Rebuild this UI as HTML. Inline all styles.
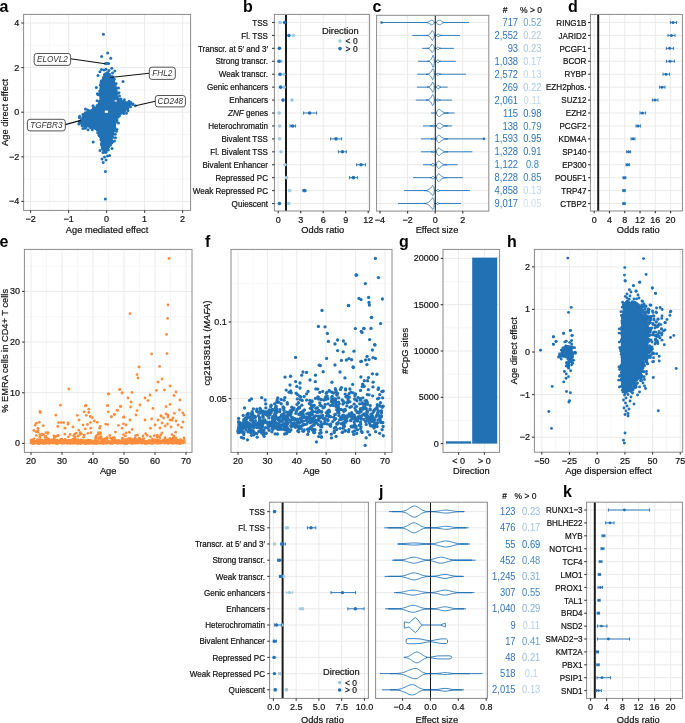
<!DOCTYPE html>
<html><head><meta charset="utf-8"><style>
html,body{margin:0;padding:0;background:#fff;width:685px;height:723px;overflow:hidden}
svg{display:block;will-change:transform}
text{font-family:"Liberation Sans", sans-serif}
</style></head><body>
<svg width="685" height="723" viewBox="0 0 685 723" font-family='"Liberation Sans", sans-serif'>
<rect width="685" height="723" fill="#fff"/>
<rect x="23.6" y="14.4" width="167" height="196" fill="#fff" stroke="none" stroke-width="1"/>
<line x1="49.6" y1="14.4" x2="49.6" y2="210.4" stroke="#f5f5f5" stroke-width="0.8"/>
<line x1="87.6" y1="14.4" x2="87.6" y2="210.4" stroke="#f5f5f5" stroke-width="0.8"/>
<line x1="125.6" y1="14.4" x2="125.6" y2="210.4" stroke="#f5f5f5" stroke-width="0.8"/>
<line x1="163.6" y1="14.4" x2="163.6" y2="210.4" stroke="#f5f5f5" stroke-width="0.8"/>
<line x1="23.6" y1="179.1" x2="190.6" y2="179.1" stroke="#f5f5f5" stroke-width="0.8"/>
<line x1="23.6" y1="134.5" x2="190.6" y2="134.5" stroke="#f5f5f5" stroke-width="0.8"/>
<line x1="23.6" y1="89.9" x2="190.6" y2="89.9" stroke="#f5f5f5" stroke-width="0.8"/>
<line x1="23.6" y1="45.3" x2="190.6" y2="45.3" stroke="#f5f5f5" stroke-width="0.8"/>
<line x1="30.6" y1="14.4" x2="30.6" y2="210.4" stroke="#ebebeb" stroke-width="1"/>
<line x1="68.6" y1="14.4" x2="68.6" y2="210.4" stroke="#ebebeb" stroke-width="1"/>
<line x1="106.6" y1="14.4" x2="106.6" y2="210.4" stroke="#ebebeb" stroke-width="1"/>
<line x1="144.6" y1="14.4" x2="144.6" y2="210.4" stroke="#ebebeb" stroke-width="1"/>
<line x1="182.6" y1="14.4" x2="182.6" y2="210.4" stroke="#ebebeb" stroke-width="1"/>
<line x1="23.6" y1="201.4" x2="190.6" y2="201.4" stroke="#ebebeb" stroke-width="1"/>
<line x1="23.6" y1="156.8" x2="190.6" y2="156.8" stroke="#ebebeb" stroke-width="1"/>
<line x1="23.6" y1="112.2" x2="190.6" y2="112.2" stroke="#ebebeb" stroke-width="1"/>
<line x1="23.6" y1="67.6" x2="190.6" y2="67.6" stroke="#ebebeb" stroke-width="1"/>
<line x1="23.6" y1="23" x2="190.6" y2="23" stroke="#ebebeb" stroke-width="1"/>
<path d="M106.5,71.5 L109.5,73 L112.5,76.5 L114.5,81 L116,86 L117,92 L118,96.5 L120.5,99.5 L125,101 L129,102 L131.5,103.3 L130,106 L128,109 L124.5,112 L121,115 L118.5,118.5 L116.5,123 L115.3,128 L114.3,133 L113.3,138 L111.8,143 L110,147.5 L107.8,151 L105.5,153 L103.5,152 L102,149 L100.8,144 L100,138 L99,133.5 L96.5,130 L90,127.6 L85,127 L81.5,125.5 L79.8,123 L80.2,119.5 L82.5,115.5 L86,112 L90.5,109.5 L95,107 L98.6,104 L99.4,99.5 L99.2,94 L99.5,88.5 L100.3,83.5 L101.8,78.5 L104,74Z" fill="#2171b5"/>
<g fill="#2171b5"><circle cx="107.53" cy="72.84" r="1.5"/><circle cx="107.52" cy="72.95" r="1.5"/><circle cx="109.43" cy="74.18" r="1.5"/><circle cx="110.65" cy="76.83" r="1.5"/><circle cx="112.44" cy="77.01" r="1.5"/><circle cx="112.64" cy="76.66" r="1.5"/><circle cx="113.23" cy="79.7" r="1.5"/><circle cx="114.2" cy="79.27" r="1.5"/><circle cx="113.68" cy="84.13" r="1.5"/><circle cx="116.09" cy="83.4" r="1.5"/><circle cx="113.67" cy="81.41" r="1.5"/><circle cx="114.98" cy="85.45" r="1.5"/><circle cx="115.97" cy="89.09" r="1.5"/><circle cx="116.37" cy="87.65" r="1.5"/><circle cx="116.39" cy="91.12" r="1.5"/><circle cx="116.01" cy="93.3" r="1.5"/><circle cx="118.97" cy="92.65" r="1.5"/><circle cx="117.21" cy="93.84" r="1.5"/><circle cx="120.25" cy="99.5" r="1.5"/><circle cx="120.99" cy="98.88" r="1.5"/><circle cx="119.58" cy="99.81" r="1.5"/><circle cx="121.76" cy="101.67" r="1.5"/><circle cx="123.6" cy="101.89" r="1.5"/><circle cx="124.32" cy="99.72" r="1.5"/><circle cx="128.77" cy="102.31" r="1.5"/><circle cx="129.06" cy="101.15" r="1.5"/><circle cx="125" cy="102.74" r="1.5"/><circle cx="129.1" cy="102.89" r="1.5"/><circle cx="130.86" cy="103.62" r="1.5"/><circle cx="132.58" cy="104.57" r="1.5"/><circle cx="128.93" cy="105.79" r="1.5"/><circle cx="130.5" cy="106.84" r="1.5"/><circle cx="127.83" cy="108.76" r="1.5"/><circle cx="123.99" cy="110.59" r="1.5"/><circle cx="124.63" cy="111.12" r="1.5"/><circle cx="126.43" cy="113.22" r="1.5"/><circle cx="122.9" cy="111.65" r="1.5"/><circle cx="122.54" cy="112.05" r="1.5"/><circle cx="123.71" cy="113.41" r="1.5"/><circle cx="118.45" cy="116.26" r="1.5"/><circle cx="119.31" cy="115.76" r="1.5"/><circle cx="116.89" cy="120.39" r="1.5"/><circle cx="116.76" cy="118.71" r="1.5"/><circle cx="115.65" cy="121.64" r="1.5"/><circle cx="118.45" cy="122.88" r="1.5"/><circle cx="113.98" cy="127.37" r="1.5"/><circle cx="114.81" cy="127.26" r="1.5"/><circle cx="114.7" cy="123.12" r="1.5"/><circle cx="114.61" cy="129.1" r="1.5"/><circle cx="116.91" cy="129.56" r="1.5"/><circle cx="113.49" cy="130.74" r="1.5"/><circle cx="116.37" cy="131.32" r="1.5"/><circle cx="113.89" cy="128.08" r="1.5"/><circle cx="112.83" cy="137.14" r="1.5"/><circle cx="115.46" cy="137.66" r="1.5"/><circle cx="112.36" cy="133.67" r="1.5"/><circle cx="115.27" cy="134.26" r="1.5"/><circle cx="112.8" cy="133.01" r="1.5"/><circle cx="110.96" cy="140.42" r="1.5"/><circle cx="112.02" cy="142.47" r="1.5"/><circle cx="111.6" cy="141.26" r="1.5"/><circle cx="112.71" cy="141.59" r="1.5"/><circle cx="111.7" cy="143.05" r="1.5"/><circle cx="108.43" cy="146.68" r="1.5"/><circle cx="110.55" cy="145.02" r="1.5"/><circle cx="106.4" cy="150.12" r="1.5"/><circle cx="108.3" cy="150.03" r="1.5"/><circle cx="105.99" cy="152.19" r="1.5"/><circle cx="105.02" cy="152.2" r="1.5"/><circle cx="103.09" cy="148.94" r="1.5"/><circle cx="102.84" cy="149.09" r="1.5"/><circle cx="102.21" cy="146.93" r="1.5"/><circle cx="102.47" cy="148.46" r="1.5"/><circle cx="101.35" cy="144.5" r="1.5"/><circle cx="100.9" cy="139.5" r="1.5"/><circle cx="101.76" cy="138.75" r="1.5"/><circle cx="101.43" cy="143.73" r="1.5"/><circle cx="100.23" cy="136.86" r="1.5"/><circle cx="99.44" cy="135.22" r="1.5"/><circle cx="98.98" cy="135.33" r="1.5"/><circle cx="98.66" cy="132.15" r="1.5"/><circle cx="97.67" cy="132.86" r="1.5"/><circle cx="97.18" cy="130.01" r="1.5"/><circle cx="91.11" cy="126.75" r="1.5"/><circle cx="95.55" cy="128.6" r="1.5"/><circle cx="90.6" cy="127.69" r="1.5"/><circle cx="93.12" cy="127.48" r="1.5"/><circle cx="92.26" cy="129.81" r="1.5"/><circle cx="85.84" cy="126.91" r="1.5"/><circle cx="85.4" cy="125.76" r="1.5"/><circle cx="85.11" cy="128.23" r="1.5"/><circle cx="88.79" cy="126.05" r="1.5"/><circle cx="83.15" cy="125.27" r="1.5"/><circle cx="82.04" cy="125.8" r="1.5"/><circle cx="82.81" cy="124.33" r="1.5"/><circle cx="80.27" cy="122.91" r="1.5"/><circle cx="80.22" cy="121.95" r="1.5"/><circle cx="79.28" cy="121.85" r="1.5"/><circle cx="82.77" cy="118.55" r="1.5"/><circle cx="82.07" cy="119.31" r="1.5"/><circle cx="79.42" cy="117.79" r="1.5"/><circle cx="84.49" cy="114.36" r="1.5"/><circle cx="85.31" cy="112.66" r="1.5"/><circle cx="83.83" cy="115.44" r="1.5"/><circle cx="82.9" cy="114.51" r="1.5"/><circle cx="88.34" cy="111.21" r="1.5"/><circle cx="87.69" cy="110.04" r="1.5"/><circle cx="87.79" cy="111.55" r="1.5"/><circle cx="88.94" cy="110.78" r="1.5"/><circle cx="94.1" cy="107.59" r="1.5"/><circle cx="93.05" cy="105.7" r="1.5"/><circle cx="94.5" cy="109.05" r="1.5"/><circle cx="93.35" cy="108" r="1.5"/><circle cx="97.13" cy="105.39" r="1.5"/><circle cx="98.99" cy="104.87" r="1.5"/><circle cx="99.19" cy="103.15" r="1.5"/><circle cx="99.54" cy="101.19" r="1.5"/><circle cx="97.12" cy="100.76" r="1.5"/><circle cx="99.15" cy="94.11" r="1.5"/><circle cx="100.43" cy="95.11" r="1.5"/><circle cx="100.37" cy="94.75" r="1.5"/><circle cx="98.04" cy="94.84" r="1.5"/><circle cx="99.7" cy="90.99" r="1.5"/><circle cx="99.47" cy="93.86" r="1.5"/><circle cx="97.37" cy="93.74" r="1.5"/><circle cx="100.41" cy="93.11" r="1.5"/><circle cx="101.11" cy="88.04" r="1.5"/><circle cx="100.28" cy="84.91" r="1.5"/><circle cx="101.11" cy="83.91" r="1.5"/><circle cx="101.75" cy="83.47" r="1.5"/><circle cx="101.13" cy="82.17" r="1.5"/><circle cx="101.27" cy="80.94" r="1.5"/><circle cx="103.45" cy="77.57" r="1.5"/><circle cx="105.04" cy="75.06" r="1.5"/><circle cx="104.65" cy="74.5" r="1.5"/><circle cx="105.06" cy="74.05" r="1.5"/><circle cx="106.75" cy="73.72" r="1.5"/><circle cx="103.4" cy="34.2" r="1.5"/><circle cx="101.6" cy="56.6" r="1.5"/><circle cx="107.7" cy="53.1" r="1.5"/><circle cx="110.7" cy="58.2" r="1.5"/><circle cx="105.5" cy="63.4" r="1.5"/><circle cx="107.2" cy="63.6" r="1.5"/><circle cx="108.6" cy="63.4" r="1.5"/><circle cx="99.9" cy="71.8" r="1.5"/><circle cx="106" cy="69.2" r="1.5"/><circle cx="111.8" cy="68.3" r="1.5"/><circle cx="114.8" cy="71" r="1.5"/><circle cx="96.4" cy="87.6" r="1.5"/><circle cx="85.5" cy="109.1" r="1.5"/><circle cx="79.7" cy="116.2" r="1.5"/><circle cx="123" cy="81.4" r="1.5"/><circle cx="130.8" cy="102.5" r="1.5"/><circle cx="135.3" cy="105.7" r="1.5"/><circle cx="127.9" cy="110.8" r="1.5"/><circle cx="93.2" cy="142" r="1.5"/><circle cx="105.4" cy="171.6" r="1.5"/><circle cx="105.4" cy="199" r="1.5"/><circle cx="103" cy="152.4" r="1.5"/><circle cx="109.6" cy="155.6" r="1.5"/><circle cx="102" cy="159" r="1.5"/><circle cx="103.2" cy="162.6" r="1.5"/><circle cx="106" cy="160" r="1.5"/><circle cx="104.5" cy="157" r="1.5"/><circle cx="107.5" cy="156" r="1.5"/><circle cx="101.5" cy="69.5" r="1.5"/><circle cx="104" cy="70" r="1.5"/><circle cx="109" cy="70.5" r="1.5"/><circle cx="112.5" cy="73" r="1.5"/><circle cx="98" cy="75.5" r="1.5"/><circle cx="118.5" cy="88" r="1.5"/><circle cx="119.5" cy="96" r="1.5"/><circle cx="133" cy="104" r="1.5"/><circle cx="81" cy="121" r="1.5"/><circle cx="78.8" cy="124" r="1.5"/><circle cx="83" cy="128.5" r="1.5"/><circle cx="88" cy="129.8" r="1.5"/><circle cx="114.5" cy="141" r="1.5"/><circle cx="112" cy="148.5" r="1.5"/><circle cx="100" cy="150.5" r="1.5"/></g>
<rect x="104.8" y="110.6" width="3.2" height="2.2" fill="#fff" stroke="none" stroke-width="1"/>
<rect x="114.6" y="100.2" width="2.2" height="1.3" fill="#fff" stroke="none" stroke-width="1"/>
<rect x="23.6" y="14.4" width="167" height="196" fill="none" stroke="#8a8a8a" stroke-width="1"/>
<line x1="70.6" y1="58.7" x2="105.1" y2="63.7" stroke="#111" stroke-width="1.15"/>
<rect x="34.2" y="53.5" width="36.4" height="11.9" rx="2.6" fill="#fff" stroke="#2a2a2a" stroke-width="0.8"/>
<text transform="matrix(1 0 0 1.12 52.4 62.45)" font-size="8.2" text-anchor="middle" fill="#333" font-style="italic">ELOVL2</text>
<line x1="149.3" y1="73.2" x2="110.3" y2="77.5" stroke="#111" stroke-width="1.15"/>
<rect x="149.3" y="67.2" width="26" height="12.2" rx="2.6" fill="#fff" stroke="#2a2a2a" stroke-width="0.8"/>
<text transform="matrix(1 0 0 1.12 162.3 76.3)" font-size="8.2" text-anchor="middle" fill="#333" font-style="italic">FHL2</text>
<line x1="155.3" y1="101.3" x2="135.5" y2="105.7" stroke="#111" stroke-width="1.15"/>
<rect x="155.3" y="95.5" width="30.1" height="11.4" rx="2.6" fill="#fff" stroke="#2a2a2a" stroke-width="0.8"/>
<text transform="matrix(1 0 0 1.12 170.35 104.2)" font-size="8.2" text-anchor="middle" fill="#333" font-style="italic">CD248</text>
<line x1="65.3" y1="124.6" x2="80.8" y2="120.4" stroke="#111" stroke-width="1.15"/>
<rect x="27.4" y="119.3" width="37.9" height="11.6" rx="2.6" fill="#fff" stroke="#2a2a2a" stroke-width="0.8"/>
<text transform="matrix(1 0 0 1.12 46.35 128.1)" font-size="8.2" text-anchor="middle" fill="#333" font-style="italic">TGFBR3</text>
<line x1="21.3" y1="23" x2="23.6" y2="23" stroke="#333333" stroke-width="1.1"/>
<text x="19.3" y="25.9" font-size="9.0" text-anchor="end" fill="#111111" stroke="#111111" stroke-width="0.2">4</text>
<line x1="21.3" y1="67.6" x2="23.6" y2="67.6" stroke="#333333" stroke-width="1.1"/>
<text x="19.3" y="70.5" font-size="9.0" text-anchor="end" fill="#111111" stroke="#111111" stroke-width="0.2">2</text>
<line x1="21.3" y1="112.2" x2="23.6" y2="112.2" stroke="#333333" stroke-width="1.1"/>
<text x="19.3" y="115.1" font-size="9.0" text-anchor="end" fill="#111111" stroke="#111111" stroke-width="0.2">0</text>
<line x1="21.3" y1="156.8" x2="23.6" y2="156.8" stroke="#333333" stroke-width="1.1"/>
<text x="19.3" y="159.7" font-size="9.0" text-anchor="end" fill="#111111" stroke="#111111" stroke-width="0.2">−2</text>
<line x1="21.3" y1="201.4" x2="23.6" y2="201.4" stroke="#333333" stroke-width="1.1"/>
<text x="19.3" y="204.3" font-size="9.0" text-anchor="end" fill="#111111" stroke="#111111" stroke-width="0.2">−4</text>
<line x1="30.6" y1="210.4" x2="30.6" y2="212.7" stroke="#333333" stroke-width="1.1"/>
<text x="30.6" y="222" font-size="9.0" text-anchor="middle" fill="#111111" stroke="#111111" stroke-width="0.2">−2</text>
<line x1="68.6" y1="210.4" x2="68.6" y2="212.7" stroke="#333333" stroke-width="1.1"/>
<text x="68.6" y="222" font-size="9.0" text-anchor="middle" fill="#111111" stroke="#111111" stroke-width="0.2">−1</text>
<line x1="106.6" y1="210.4" x2="106.6" y2="212.7" stroke="#333333" stroke-width="1.1"/>
<text x="106.6" y="222" font-size="9.0" text-anchor="middle" fill="#111111" stroke="#111111" stroke-width="0.2">0</text>
<line x1="144.6" y1="210.4" x2="144.6" y2="212.7" stroke="#333333" stroke-width="1.1"/>
<text x="144.6" y="222" font-size="9.0" text-anchor="middle" fill="#111111" stroke="#111111" stroke-width="0.2">1</text>
<line x1="182.6" y1="210.4" x2="182.6" y2="212.7" stroke="#333333" stroke-width="1.1"/>
<text x="182.6" y="222" font-size="9.0" text-anchor="middle" fill="#111111" stroke="#111111" stroke-width="0.2">2</text>
<text x="107.1" y="232.5" font-size="9.3" text-anchor="middle" fill="#111111" stroke="#111111" stroke-width="0.2">Age mediated effect</text>
<text transform="translate(7.7,112.4) rotate(-90) scale(1 1.0)" font-size="9.3" text-anchor="middle" fill="#111111" stroke="#111111" stroke-width="0.2">Age direct effect</text>
<text x="-0.6" y="11.7" font-size="16" text-anchor="start" fill="#000" font-weight="bold">a</text>
<rect x="274.4" y="14.4" width="95.2" height="196.6" fill="#fff" stroke="none" stroke-width="1"/>
<line x1="278.2" y1="14.4" x2="278.2" y2="211" stroke="#ebebeb" stroke-width="1"/>
<line x1="300.7" y1="14.4" x2="300.7" y2="211" stroke="#ebebeb" stroke-width="1"/>
<line x1="323.2" y1="14.4" x2="323.2" y2="211" stroke="#ebebeb" stroke-width="1"/>
<line x1="345.7" y1="14.4" x2="345.7" y2="211" stroke="#ebebeb" stroke-width="1"/>
<line x1="368.2" y1="14.4" x2="368.2" y2="211" stroke="#ebebeb" stroke-width="1"/>
<line x1="274.4" y1="22.5" x2="369.6" y2="22.5" stroke="#ebebeb" stroke-width="1"/>
<line x1="274.4" y1="35.43" x2="369.6" y2="35.43" stroke="#ebebeb" stroke-width="1"/>
<line x1="274.4" y1="48.36" x2="369.6" y2="48.36" stroke="#ebebeb" stroke-width="1"/>
<line x1="274.4" y1="61.29" x2="369.6" y2="61.29" stroke="#ebebeb" stroke-width="1"/>
<line x1="274.4" y1="74.22" x2="369.6" y2="74.22" stroke="#ebebeb" stroke-width="1"/>
<line x1="274.4" y1="87.15" x2="369.6" y2="87.15" stroke="#ebebeb" stroke-width="1"/>
<line x1="274.4" y1="100.08" x2="369.6" y2="100.08" stroke="#ebebeb" stroke-width="1"/>
<line x1="274.4" y1="113.01" x2="369.6" y2="113.01" stroke="#ebebeb" stroke-width="1"/>
<line x1="274.4" y1="125.94" x2="369.6" y2="125.94" stroke="#ebebeb" stroke-width="1"/>
<line x1="274.4" y1="138.87" x2="369.6" y2="138.87" stroke="#ebebeb" stroke-width="1"/>
<line x1="274.4" y1="151.8" x2="369.6" y2="151.8" stroke="#ebebeb" stroke-width="1"/>
<line x1="274.4" y1="164.73" x2="369.6" y2="164.73" stroke="#ebebeb" stroke-width="1"/>
<line x1="274.4" y1="177.66" x2="369.6" y2="177.66" stroke="#ebebeb" stroke-width="1"/>
<line x1="274.4" y1="190.59" x2="369.6" y2="190.59" stroke="#ebebeb" stroke-width="1"/>
<line x1="274.4" y1="203.52" x2="369.6" y2="203.52" stroke="#ebebeb" stroke-width="1"/>
<line x1="286" y1="14.4" x2="286" y2="211" stroke="#1a1a1a" stroke-width="2"/>
<circle cx="280.1" cy="22.5" r="1.8" fill="#9ecae1"/>
<circle cx="284.6" cy="22.5" r="1.8" fill="#2171b5"/>
<circle cx="293.4" cy="35.43" r="1.8" fill="#9ecae1"/>
<circle cx="288.9" cy="35.43" r="1.8" fill="#2171b5"/>
<circle cx="279.4" cy="48.36" r="1.8" fill="#2171b5"/>
<circle cx="281" cy="61.29" r="1.8" fill="#9ecae1"/>
<circle cx="279" cy="61.29" r="1.8" fill="#2171b5"/>
<circle cx="283.6" cy="74.22" r="1.8" fill="#9ecae1"/>
<circle cx="280" cy="74.22" r="1.8" fill="#2171b5"/>
<circle cx="284" cy="87.15" r="1.8" fill="#9ecae1"/>
<circle cx="280.6" cy="87.15" r="1.8" fill="#2171b5"/>
<circle cx="292" cy="100.08" r="1.8" fill="#9ecae1"/>
<circle cx="283" cy="100.08" r="1.8" fill="#2171b5"/>
<circle cx="279.2" cy="113.01" r="1.8" fill="#9ecae1"/>
<line x1="303.6" y1="113.01" x2="316.6" y2="113.01" stroke="#2171b5" stroke-width="0.9"/>
<line x1="303.6" y1="111.41" x2="303.6" y2="114.61" stroke="#2171b5" stroke-width="0.9"/>
<line x1="316.6" y1="111.41" x2="316.6" y2="114.61" stroke="#2171b5" stroke-width="0.9"/>
<circle cx="309.6" cy="113.01" r="1.8" fill="#2171b5"/>
<circle cx="279.6" cy="125.94" r="1.8" fill="#9ecae1"/>
<line x1="290" y1="125.94" x2="295.6" y2="125.94" stroke="#2171b5" stroke-width="0.9"/>
<line x1="290" y1="124.34" x2="290" y2="127.54" stroke="#2171b5" stroke-width="0.9"/>
<line x1="295.6" y1="124.34" x2="295.6" y2="127.54" stroke="#2171b5" stroke-width="0.9"/>
<circle cx="292.6" cy="125.94" r="1.8" fill="#2171b5"/>
<circle cx="279.6" cy="138.87" r="1.8" fill="#9ecae1"/>
<line x1="330.6" y1="138.87" x2="341.6" y2="138.87" stroke="#2171b5" stroke-width="0.9"/>
<line x1="330.6" y1="137.27" x2="330.6" y2="140.47" stroke="#2171b5" stroke-width="0.9"/>
<line x1="341.6" y1="137.27" x2="341.6" y2="140.47" stroke="#2171b5" stroke-width="0.9"/>
<circle cx="336" cy="138.87" r="1.8" fill="#2171b5"/>
<circle cx="281" cy="151.8" r="1.8" fill="#9ecae1"/>
<line x1="338.4" y1="151.8" x2="346.4" y2="151.8" stroke="#2171b5" stroke-width="0.9"/>
<line x1="338.4" y1="150.2" x2="338.4" y2="153.4" stroke="#2171b5" stroke-width="0.9"/>
<line x1="346.4" y1="150.2" x2="346.4" y2="153.4" stroke="#2171b5" stroke-width="0.9"/>
<circle cx="342.4" cy="151.8" r="1.8" fill="#2171b5"/>
<circle cx="285" cy="164.73" r="1.8" fill="#9ecae1"/>
<line x1="356.6" y1="164.73" x2="365.4" y2="164.73" stroke="#2171b5" stroke-width="0.9"/>
<line x1="356.6" y1="163.13" x2="356.6" y2="166.33" stroke="#2171b5" stroke-width="0.9"/>
<line x1="365.4" y1="163.13" x2="365.4" y2="166.33" stroke="#2171b5" stroke-width="0.9"/>
<circle cx="361" cy="164.73" r="1.8" fill="#2171b5"/>
<circle cx="286.6" cy="177.66" r="1.8" fill="#9ecae1"/>
<line x1="349.6" y1="177.66" x2="357.6" y2="177.66" stroke="#2171b5" stroke-width="0.9"/>
<line x1="349.6" y1="176.06" x2="349.6" y2="179.26" stroke="#2171b5" stroke-width="0.9"/>
<line x1="357.6" y1="176.06" x2="357.6" y2="179.26" stroke="#2171b5" stroke-width="0.9"/>
<circle cx="353.4" cy="177.66" r="1.8" fill="#2171b5"/>
<circle cx="289.6" cy="190.59" r="1.8" fill="#9ecae1"/>
<line x1="303" y1="190.59" x2="306" y2="190.59" stroke="#2171b5" stroke-width="0.9"/>
<line x1="303" y1="188.99" x2="303" y2="192.19" stroke="#2171b5" stroke-width="0.9"/>
<line x1="306" y1="188.99" x2="306" y2="192.19" stroke="#2171b5" stroke-width="0.9"/>
<circle cx="304.4" cy="190.59" r="1.8" fill="#2171b5"/>
<circle cx="288.6" cy="203.52" r="1.8" fill="#9ecae1"/>
<circle cx="279.4" cy="203.52" r="1.8" fill="#2171b5"/>
<rect x="274.4" y="14.4" width="95.2" height="196.6" fill="none" stroke="#8a8a8a" stroke-width="1"/>
<line x1="272.1" y1="22.5" x2="274.4" y2="22.5" stroke="#333333" stroke-width="1.1"/>
<text transform="matrix(1 0 0 1.12 268 25.7)" font-size="8.1" text-anchor="end" fill="#111111" stroke="#111111" stroke-width="0.2">TSS</text>
<line x1="272.1" y1="35.43" x2="274.4" y2="35.43" stroke="#333333" stroke-width="1.1"/>
<text transform="matrix(1 0 0 1.12 268 38.63)" font-size="8.1" text-anchor="end" fill="#111111" stroke="#111111" stroke-width="0.2">Fl. TSS</text>
<line x1="272.1" y1="48.36" x2="274.4" y2="48.36" stroke="#333333" stroke-width="1.1"/>
<text transform="matrix(1 0 0 1.12 268 51.56)" font-size="8.1" text-anchor="end" fill="#111111" stroke="#111111" stroke-width="0.2">Transcr. at 5′ and 3′</text>
<line x1="272.1" y1="61.29" x2="274.4" y2="61.29" stroke="#333333" stroke-width="1.1"/>
<text transform="matrix(1 0 0 1.12 268 64.49)" font-size="8.1" text-anchor="end" fill="#111111" stroke="#111111" stroke-width="0.2">Strong transcr.</text>
<line x1="272.1" y1="74.22" x2="274.4" y2="74.22" stroke="#333333" stroke-width="1.1"/>
<text transform="matrix(1 0 0 1.12 268 77.42)" font-size="8.1" text-anchor="end" fill="#111111" stroke="#111111" stroke-width="0.2">Weak transcr.</text>
<line x1="272.1" y1="87.15" x2="274.4" y2="87.15" stroke="#333333" stroke-width="1.1"/>
<text transform="matrix(1 0 0 1.12 268 90.35)" font-size="8.1" text-anchor="end" fill="#111111" stroke="#111111" stroke-width="0.2">Genic enhancers</text>
<line x1="272.1" y1="100.08" x2="274.4" y2="100.08" stroke="#333333" stroke-width="1.1"/>
<text transform="matrix(1 0 0 1.12 268 103.28)" font-size="8.1" text-anchor="end" fill="#111111" stroke="#111111" stroke-width="0.2">Enhancers</text>
<line x1="272.1" y1="113.01" x2="274.4" y2="113.01" stroke="#333333" stroke-width="1.1"/>
<text transform="matrix(1 0 0 1.12 268 116.21)" font-size="8.1" text-anchor="end" fill="#111111" stroke="#111111" stroke-width="0.2"><tspan font-style="italic">ZNF</tspan> genes</text>
<line x1="272.1" y1="125.94" x2="274.4" y2="125.94" stroke="#333333" stroke-width="1.1"/>
<text transform="matrix(1 0 0 1.12 268 129.14)" font-size="8.1" text-anchor="end" fill="#111111" stroke="#111111" stroke-width="0.2">Heterochromatin</text>
<line x1="272.1" y1="138.87" x2="274.4" y2="138.87" stroke="#333333" stroke-width="1.1"/>
<text transform="matrix(1 0 0 1.12 268 142.07)" font-size="8.1" text-anchor="end" fill="#111111" stroke="#111111" stroke-width="0.2">Bivalent TSS</text>
<line x1="272.1" y1="151.8" x2="274.4" y2="151.8" stroke="#333333" stroke-width="1.1"/>
<text transform="matrix(1 0 0 1.12 268 155)" font-size="8.1" text-anchor="end" fill="#111111" stroke="#111111" stroke-width="0.2">Fl. Bivalent TSS</text>
<line x1="272.1" y1="164.73" x2="274.4" y2="164.73" stroke="#333333" stroke-width="1.1"/>
<text transform="matrix(1 0 0 1.12 268 167.93)" font-size="8.1" text-anchor="end" fill="#111111" stroke="#111111" stroke-width="0.2">Bivalent Enhancer</text>
<line x1="272.1" y1="177.66" x2="274.4" y2="177.66" stroke="#333333" stroke-width="1.1"/>
<text transform="matrix(1 0 0 1.12 268 180.86)" font-size="8.1" text-anchor="end" fill="#111111" stroke="#111111" stroke-width="0.2">Repressed PC</text>
<line x1="272.1" y1="190.59" x2="274.4" y2="190.59" stroke="#333333" stroke-width="1.1"/>
<text transform="matrix(1 0 0 1.12 268 193.79)" font-size="8.1" text-anchor="end" fill="#111111" stroke="#111111" stroke-width="0.2">Weak Repressed PC</text>
<line x1="272.1" y1="203.52" x2="274.4" y2="203.52" stroke="#333333" stroke-width="1.1"/>
<text transform="matrix(1 0 0 1.12 268 206.72)" font-size="8.1" text-anchor="end" fill="#111111" stroke="#111111" stroke-width="0.2">Quiescent</text>
<line x1="278.2" y1="211" x2="278.2" y2="213.3" stroke="#333333" stroke-width="1.1"/>
<text x="278.2" y="222.6" font-size="9.0" text-anchor="middle" fill="#111111" stroke="#111111" stroke-width="0.2">0</text>
<line x1="300.7" y1="211" x2="300.7" y2="213.3" stroke="#333333" stroke-width="1.1"/>
<text x="300.7" y="222.6" font-size="9.0" text-anchor="middle" fill="#111111" stroke="#111111" stroke-width="0.2">3</text>
<line x1="323.2" y1="211" x2="323.2" y2="213.3" stroke="#333333" stroke-width="1.1"/>
<text x="323.2" y="222.6" font-size="9.0" text-anchor="middle" fill="#111111" stroke="#111111" stroke-width="0.2">6</text>
<line x1="345.7" y1="211" x2="345.7" y2="213.3" stroke="#333333" stroke-width="1.1"/>
<text x="345.7" y="222.6" font-size="9.0" text-anchor="middle" fill="#111111" stroke="#111111" stroke-width="0.2">9</text>
<line x1="368.2" y1="211" x2="368.2" y2="213.3" stroke="#333333" stroke-width="1.1"/>
<text x="368.2" y="222.6" font-size="9.0" text-anchor="middle" fill="#111111" stroke="#111111" stroke-width="0.2">12</text>
<text x="322.7" y="232.5" font-size="9.3" text-anchor="middle" fill="#111111" stroke="#111111" stroke-width="0.2">Odds ratio</text>
<text x="322" y="34.4" font-size="9.3" text-anchor="start" fill="#111111" stroke="#111111" stroke-width="0.2">Direction</text>
<circle cx="340" cy="41" r="1.8" fill="#9ecae1"/>
<text transform="matrix(1 0 0 1.12 345.6 44)" font-size="8.5" text-anchor="start" fill="#111111" stroke="#111111" stroke-width="0.2">&lt; 0</text>
<circle cx="340" cy="48.6" r="1.8" fill="#2171b5"/>
<text transform="matrix(1 0 0 1.12 345.6 51.6)" font-size="8.5" text-anchor="start" fill="#111111" stroke="#111111" stroke-width="0.2">&gt; 0</text>
<text x="243" y="11.7" font-size="16" text-anchor="start" fill="#000" font-weight="bold">b</text>
<rect x="376.6" y="15.3" width="112.2" height="195.8" fill="#fff" stroke="none" stroke-width="1"/>
<line x1="380" y1="15.3" x2="380" y2="211.1" stroke="#ebebeb" stroke-width="1"/>
<line x1="407.6" y1="15.3" x2="407.6" y2="211.1" stroke="#ebebeb" stroke-width="1"/>
<line x1="435.2" y1="15.3" x2="435.2" y2="211.1" stroke="#ebebeb" stroke-width="1"/>
<line x1="462.8" y1="15.3" x2="462.8" y2="211.1" stroke="#ebebeb" stroke-width="1"/>
<line x1="376.6" y1="22.5" x2="488.8" y2="22.5" stroke="#ebebeb" stroke-width="1"/>
<line x1="376.6" y1="35.43" x2="488.8" y2="35.43" stroke="#ebebeb" stroke-width="1"/>
<line x1="376.6" y1="48.36" x2="488.8" y2="48.36" stroke="#ebebeb" stroke-width="1"/>
<line x1="376.6" y1="61.29" x2="488.8" y2="61.29" stroke="#ebebeb" stroke-width="1"/>
<line x1="376.6" y1="74.22" x2="488.8" y2="74.22" stroke="#ebebeb" stroke-width="1"/>
<line x1="376.6" y1="87.15" x2="488.8" y2="87.15" stroke="#ebebeb" stroke-width="1"/>
<line x1="376.6" y1="100.08" x2="488.8" y2="100.08" stroke="#ebebeb" stroke-width="1"/>
<line x1="376.6" y1="113.01" x2="488.8" y2="113.01" stroke="#ebebeb" stroke-width="1"/>
<line x1="376.6" y1="125.94" x2="488.8" y2="125.94" stroke="#ebebeb" stroke-width="1"/>
<line x1="376.6" y1="138.87" x2="488.8" y2="138.87" stroke="#ebebeb" stroke-width="1"/>
<line x1="376.6" y1="151.8" x2="488.8" y2="151.8" stroke="#ebebeb" stroke-width="1"/>
<line x1="376.6" y1="164.73" x2="488.8" y2="164.73" stroke="#ebebeb" stroke-width="1"/>
<line x1="376.6" y1="177.66" x2="488.8" y2="177.66" stroke="#ebebeb" stroke-width="1"/>
<line x1="376.6" y1="190.59" x2="488.8" y2="190.59" stroke="#ebebeb" stroke-width="1"/>
<line x1="376.6" y1="203.52" x2="488.8" y2="203.52" stroke="#ebebeb" stroke-width="1"/>
<line x1="381.6" y1="22.5" x2="469" y2="22.5" stroke="#2171b5" stroke-width="0.9"/>
<circle cx="381.6" cy="22.5" r="1.3" fill="#2171b5"/>
<polygon points="425.1,22.5 425.47,22.5 425.84,22.49 426.21,22.47 426.58,22.44 426.94,22.39 427.31,22.32 427.68,22.23 428.05,22.12 428.42,21.98 428.79,21.82 429.16,21.63 429.52,21.41 429.89,21.16 430.26,20.87 430.63,20.56 431,20.2 431.21,20.2 431.41,20.22 431.62,20.24 431.82,20.27 432.03,20.32 432.24,20.37 432.44,20.43 432.65,20.51 432.86,20.6 433.06,20.7 433.27,20.83 433.48,20.98 433.68,21.16 433.89,21.39 434.09,21.7 434.3,22.5 434.3,22.5 434.09,23.3 433.89,23.61 433.68,23.84 433.48,24.02 433.27,24.17 433.06,24.3 432.86,24.4 432.65,24.49 432.44,24.57 432.24,24.63 432.03,24.68 431.82,24.73 431.62,24.76 431.41,24.78 431.21,24.8 431,24.8 430.63,24.44 430.26,24.13 429.89,23.84 429.52,23.59 429.16,23.37 428.79,23.18 428.42,23.02 428.05,22.88 427.68,22.77 427.31,22.68 426.94,22.61 426.58,22.56 426.21,22.53 425.84,22.51 425.47,22.5 425.1,22.5" fill="#fff" stroke="#2171b5" stroke-width="0.85" stroke-linejoin="round"/>
<polygon points="446,22.5 445.64,22.5 445.29,22.49 444.93,22.47 444.57,22.44 444.22,22.39 443.86,22.32 443.51,22.23 443.15,22.12 442.79,21.98 442.44,21.82 442.08,21.63 441.73,21.41 441.37,21.16 441.01,20.87 440.66,20.56 440.3,20.2 440.07,20.2 439.84,20.22 439.61,20.24 439.38,20.27 439.14,20.32 438.91,20.37 438.68,20.43 438.45,20.51 438.22,20.6 437.99,20.7 437.76,20.83 437.53,20.98 437.29,21.16 437.06,21.39 436.83,21.7 436.6,22.5 436.6,22.5 436.83,23.3 437.06,23.61 437.29,23.84 437.53,24.02 437.76,24.17 437.99,24.3 438.22,24.4 438.45,24.49 438.68,24.57 438.91,24.63 439.14,24.68 439.38,24.73 439.61,24.76 439.84,24.78 440.07,24.8 440.3,24.8 440.66,24.44 441.01,24.13 441.37,23.84 441.73,23.59 442.08,23.37 442.44,23.18 442.79,23.02 443.15,22.88 443.51,22.77 443.86,22.68 444.22,22.61 444.57,22.56 444.93,22.53 445.29,22.51 445.64,22.5 446,22.5" fill="#fff" stroke="#2171b5" stroke-width="0.85" stroke-linejoin="round"/>
<line x1="412.3" y1="35.43" x2="460" y2="35.43" stroke="#2171b5" stroke-width="0.9"/>
<polygon points="426.3,35.43 426.66,35.43 427.01,35.41 427.37,35.37 427.73,35.3 428.08,35.2 428.44,35.06 428.79,34.87 429.15,34.64 429.51,34.35 429.86,34.02 430.22,33.62 430.57,33.16 430.93,32.63 431.29,32.04 431.64,31.37 432,30.63 432.14,30.64 432.29,30.67 432.43,30.72 432.57,30.78 432.72,30.87 432.86,30.98 433.01,31.11 433.15,31.27 433.29,31.46 433.44,31.68 433.58,31.94 433.73,32.26 433.87,32.63 434.01,33.11 434.16,33.76 434.3,35.43 434.3,35.43 434.16,37.1 434.01,37.75 433.87,38.23 433.73,38.6 433.58,38.92 433.44,39.18 433.29,39.4 433.15,39.59 433.01,39.75 432.86,39.88 432.72,39.99 432.57,40.08 432.43,40.14 432.29,40.19 432.14,40.22 432,40.23 431.64,39.49 431.29,38.82 430.93,38.23 430.57,37.7 430.22,37.24 429.86,36.84 429.51,36.51 429.15,36.22 428.79,35.99 428.44,35.8 428.08,35.66 427.73,35.56 427.37,35.49 427.01,35.45 426.66,35.43 426.3,35.43" fill="#fff" stroke="#2171b5" stroke-width="0.85" stroke-linejoin="round"/>
<polygon points="442,35.43 441.79,35.43 441.57,35.42 441.36,35.41 441.15,35.4 440.94,35.37 440.73,35.34 440.51,35.29 440.3,35.23 440.09,35.16 439.88,35.08 439.66,34.98 439.45,34.86 439.24,34.73 439.03,34.58 438.81,34.42 438.6,34.23 438.48,34.23 438.35,34.24 438.23,34.25 438.1,34.27 437.98,34.29 437.85,34.32 437.73,34.35 437.6,34.39 437.48,34.44 437.35,34.49 437.23,34.56 437.1,34.64 436.98,34.73 436.85,34.85 436.73,35.01 436.6,35.43 436.6,35.43 436.73,35.85 436.85,36.01 436.98,36.13 437.1,36.22 437.23,36.3 437.35,36.37 437.48,36.42 437.6,36.47 437.73,36.51 437.85,36.54 437.98,36.57 438.1,36.59 438.23,36.61 438.35,36.62 438.48,36.63 438.6,36.63 438.81,36.44 439.03,36.28 439.24,36.13 439.45,36 439.66,35.88 439.88,35.78 440.09,35.7 440.3,35.63 440.51,35.57 440.73,35.52 440.94,35.49 441.15,35.46 441.36,35.45 441.57,35.44 441.79,35.43 442,35.43" fill="#fff" stroke="#2171b5" stroke-width="0.85" stroke-linejoin="round"/>
<line x1="422.2" y1="48.36" x2="454" y2="48.36" stroke="#2171b5" stroke-width="0.9"/>
<polygon points="427,48.36 427.3,48.36 427.6,48.34 427.9,48.31 428.2,48.25 428.5,48.17 428.8,48.05 429.1,47.89 429.4,47.7 429.7,47.46 430,47.18 430.3,46.85 430.6,46.47 430.9,46.03 431.2,45.53 431.5,44.98 431.8,44.36 431.96,44.37 432.11,44.39 432.27,44.43 432.43,44.49 432.58,44.56 432.74,44.65 432.89,44.76 433.05,44.9 433.21,45.05 433.36,45.24 433.52,45.46 433.68,45.71 433.83,46.03 433.99,46.42 434.14,46.97 434.3,48.36 434.3,48.36 434.14,49.75 433.99,50.3 433.83,50.69 433.68,51.01 433.52,51.26 433.36,51.48 433.21,51.67 433.05,51.82 432.89,51.96 432.74,52.07 432.58,52.16 432.43,52.23 432.27,52.29 432.11,52.33 431.96,52.35 431.8,52.36 431.5,51.74 431.2,51.19 430.9,50.69 430.6,50.25 430.3,49.87 430,49.54 429.7,49.26 429.4,49.02 429.1,48.83 428.8,48.67 428.5,48.55 428.2,48.47 427.9,48.41 427.6,48.38 427.3,48.36 427,48.36" fill="#fff" stroke="#2171b5" stroke-width="0.85" stroke-linejoin="round"/>
<polygon points="441,48.36 440.83,48.36 440.66,48.35 440.49,48.34 440.32,48.32 440.16,48.3 439.99,48.26 439.82,48.21 439.65,48.15 439.48,48.07 439.31,47.98 439.14,47.87 438.98,47.74 438.81,47.6 438.64,47.44 438.47,47.26 438.3,47.06 438.19,47.06 438.09,47.07 437.98,47.08 437.88,47.1 437.77,47.13 437.66,47.15 437.56,47.19 437.45,47.23 437.34,47.29 437.24,47.35 437.13,47.42 437.03,47.5 436.92,47.6 436.81,47.73 436.71,47.91 436.6,48.36 436.6,48.36 436.71,48.81 436.81,48.99 436.92,49.12 437.03,49.22 437.13,49.3 437.24,49.37 437.34,49.43 437.45,49.49 437.56,49.53 437.66,49.57 437.77,49.59 437.88,49.62 437.98,49.64 438.09,49.65 438.19,49.66 438.3,49.66 438.47,49.46 438.64,49.28 438.81,49.12 438.98,48.98 439.14,48.85 439.31,48.74 439.48,48.65 439.65,48.57 439.82,48.51 439.99,48.46 440.16,48.42 440.32,48.4 440.49,48.38 440.66,48.37 440.83,48.36 441,48.36" fill="#fff" stroke="#2171b5" stroke-width="0.85" stroke-linejoin="round"/>
<line x1="418" y1="61.29" x2="455.8" y2="61.29" stroke="#2171b5" stroke-width="0.9"/>
<polygon points="427.4,61.29 427.75,61.29 428.1,61.26 428.45,61.21 428.8,61.13 429.15,61 429.5,60.82 429.85,60.59 430.2,60.3 430.55,59.95 430.9,59.52 431.25,59.03 431.6,58.45 431.95,57.79 432.3,57.05 432.65,56.22 433,55.29 433.08,55.3 433.16,55.34 433.24,55.4 433.32,55.48 433.41,55.59 433.49,55.73 433.57,55.89 433.65,56.09 433.73,56.33 433.81,56.61 433.89,56.93 433.98,57.32 434.06,57.79 434.14,58.39 434.22,59.2 434.3,61.29 434.3,61.29 434.22,63.38 434.14,64.19 434.06,64.79 433.98,65.26 433.89,65.65 433.81,65.97 433.73,66.25 433.65,66.49 433.57,66.69 433.49,66.85 433.41,66.99 433.32,67.1 433.24,67.18 433.16,67.24 433.08,67.28 433,67.29 432.65,66.36 432.3,65.53 431.95,64.79 431.6,64.13 431.25,63.55 430.9,63.06 430.55,62.63 430.2,62.28 429.85,61.99 429.5,61.76 429.15,61.58 428.8,61.45 428.45,61.37 428.1,61.32 427.75,61.29 427.4,61.29" fill="#fff" stroke="#2171b5" stroke-width="0.85" stroke-linejoin="round"/>
<polygon points="440.5,61.29 440.36,61.29 440.23,61.28 440.09,61.27 439.95,61.25 439.81,61.22 439.68,61.18 439.54,61.13 439.4,61.06 439.26,60.98 439.12,60.88 438.99,60.76 438.85,60.63 438.71,60.47 438.57,60.3 438.44,60.11 438.3,59.89 438.19,59.89 438.09,59.9 437.98,59.91 437.88,59.93 437.77,59.96 437.66,59.99 437.56,60.03 437.45,60.08 437.34,60.13 437.24,60.2 437.13,60.27 437.03,60.36 436.92,60.47 436.81,60.61 436.71,60.8 436.6,61.29 436.6,61.29 436.71,61.78 436.81,61.97 436.92,62.11 437.03,62.22 437.13,62.31 437.24,62.38 437.34,62.45 437.45,62.5 437.56,62.55 437.66,62.59 437.77,62.62 437.88,62.65 437.98,62.67 438.09,62.68 438.19,62.69 438.3,62.69 438.44,62.47 438.57,62.28 438.71,62.11 438.85,61.95 438.99,61.82 439.12,61.7 439.26,61.6 439.4,61.52 439.54,61.45 439.68,61.4 439.81,61.36 439.95,61.33 440.09,61.31 440.23,61.3 440.36,61.29 440.5,61.29" fill="#fff" stroke="#2171b5" stroke-width="0.85" stroke-linejoin="round"/>
<line x1="417.2" y1="74.22" x2="466" y2="74.22" stroke="#2171b5" stroke-width="0.9"/>
<polygon points="426.2,74.22 426.6,74.22 427,74.2 427.4,74.15 427.8,74.07 428.2,73.96 428.6,73.8 429,73.59 429.4,73.33 429.8,73.01 430.2,72.63 430.6,72.18 431,71.66 431.4,71.07 431.8,70.4 432.2,69.65 432.6,68.82 432.71,68.83 432.81,68.86 432.92,68.92 433.03,68.99 433.13,69.09 433.24,69.21 433.34,69.36 433.45,69.54 433.56,69.76 433.66,70 433.77,70.3 433.88,70.65 433.98,71.07 434.09,71.61 434.19,72.34 434.3,74.22 434.3,74.22 434.19,76.1 434.09,76.83 433.98,77.37 433.88,77.79 433.77,78.14 433.66,78.44 433.56,78.68 433.45,78.9 433.34,79.08 433.24,79.23 433.13,79.35 433.03,79.45 432.92,79.52 432.81,79.58 432.71,79.61 432.6,79.62 432.2,78.79 431.8,78.04 431.4,77.37 431,76.78 430.6,76.26 430.2,75.81 429.8,75.43 429.4,75.11 429,74.85 428.6,74.64 428.2,74.48 427.8,74.37 427.4,74.29 427,74.24 426.6,74.22 426.2,74.22" fill="#fff" stroke="#2171b5" stroke-width="0.85" stroke-linejoin="round"/>
<polygon points="440.8,74.22 440.64,74.22 440.49,74.22 440.33,74.21 440.18,74.19 440.02,74.17 439.86,74.14 439.71,74.1 439.55,74.06 439.39,74 439.24,73.93 439.08,73.84 438.93,73.75 438.77,73.64 438.61,73.51 438.46,73.37 438.3,73.22 438.19,73.22 438.09,73.23 437.98,73.24 437.88,73.25 437.77,73.27 437.66,73.29 437.56,73.32 437.45,73.35 437.34,73.39 437.24,73.44 437.13,73.49 437.03,73.56 436.92,73.64 436.81,73.74 436.71,73.87 436.6,74.22 436.6,74.22 436.71,74.57 436.81,74.7 436.92,74.8 437.03,74.88 437.13,74.95 437.24,75 437.34,75.05 437.45,75.09 437.56,75.12 437.66,75.15 437.77,75.17 437.88,75.19 437.98,75.2 438.09,75.21 438.19,75.22 438.3,75.22 438.46,75.07 438.61,74.93 438.77,74.8 438.93,74.69 439.08,74.6 439.24,74.51 439.39,74.44 439.55,74.38 439.71,74.34 439.86,74.3 440.02,74.27 440.18,74.25 440.33,74.23 440.49,74.22 440.64,74.22 440.8,74.22" fill="#fff" stroke="#2171b5" stroke-width="0.85" stroke-linejoin="round"/>
<line x1="416.9" y1="87.15" x2="447.7" y2="87.15" stroke="#2171b5" stroke-width="0.9"/>
<polygon points="427.2,87.15 427.54,87.15 427.88,87.13 428.21,87.09 428.55,87.01 428.89,86.91 429.23,86.76 429.56,86.57 429.9,86.33 430.24,86.03 430.57,85.68 430.91,85.26 431.25,84.78 431.59,84.24 431.93,83.62 432.26,82.92 432.6,82.15 432.71,82.16 432.81,82.19 432.92,82.24 433.03,82.31 433.13,82.4 433.24,82.51 433.34,82.65 433.45,82.82 433.56,83.02 433.66,83.25 433.77,83.52 433.88,83.84 433.98,84.24 434.09,84.73 434.19,85.41 434.3,87.15 434.3,87.15 434.19,88.89 434.09,89.57 433.98,90.06 433.88,90.46 433.77,90.78 433.66,91.05 433.56,91.28 433.45,91.48 433.34,91.65 433.24,91.79 433.13,91.9 433.03,91.99 432.92,92.06 432.81,92.11 432.71,92.14 432.6,92.15 432.26,91.38 431.93,90.68 431.59,90.06 431.25,89.52 430.91,89.04 430.57,88.62 430.24,88.27 429.9,87.97 429.56,87.73 429.23,87.54 428.89,87.39 428.55,87.29 428.21,87.21 427.88,87.17 427.54,87.15 427.2,87.15" fill="#fff" stroke="#2171b5" stroke-width="0.85" stroke-linejoin="round"/>
<polygon points="440.8,87.15 440.68,87.15 440.55,87.14 440.43,87.13 440.3,87.1 440.18,87.07 440.05,87.02 439.93,86.95 439.8,86.87 439.68,86.77 439.55,86.65 439.43,86.51 439.3,86.35 439.18,86.16 439.05,85.95 438.93,85.71 438.8,85.45 438.66,85.45 438.53,85.46 438.39,85.48 438.25,85.5 438.11,85.54 437.98,85.57 437.84,85.62 437.7,85.68 437.56,85.74 437.43,85.82 437.29,85.92 437.15,86.03 437.01,86.16 436.88,86.33 436.74,86.56 436.6,87.15 436.6,87.15 436.74,87.74 436.88,87.97 437.01,88.14 437.15,88.27 437.29,88.38 437.43,88.48 437.56,88.56 437.7,88.62 437.84,88.68 437.98,88.73 438.11,88.76 438.25,88.8 438.39,88.82 438.53,88.84 438.66,88.85 438.8,88.85 438.93,88.59 439.05,88.35 439.18,88.14 439.3,87.95 439.43,87.79 439.55,87.65 439.68,87.53 439.8,87.43 439.93,87.35 440.05,87.28 440.18,87.23 440.3,87.2 440.43,87.17 440.55,87.16 440.68,87.15 440.8,87.15" fill="#fff" stroke="#2171b5" stroke-width="0.85" stroke-linejoin="round"/>
<line x1="415.8" y1="100.08" x2="451.9" y2="100.08" stroke="#2171b5" stroke-width="0.9"/>
<polygon points="426.2,100.08 426.59,100.08 426.99,100.06 427.38,100.01 427.77,99.94 428.17,99.82 428.56,99.67 428.96,99.46 429.35,99.21 429.74,98.89 430.14,98.52 430.53,98.08 430.93,97.57 431.32,96.99 431.71,96.33 432.11,95.6 432.5,94.78 432.61,94.79 432.73,94.82 432.84,94.87 432.95,94.95 433.06,95.05 433.18,95.17 433.29,95.31 433.4,95.49 433.51,95.7 433.62,95.94 433.74,96.23 433.85,96.57 433.96,96.99 434.07,97.51 434.19,98.24 434.3,100.08 434.3,100.08 434.19,101.92 434.07,102.65 433.96,103.17 433.85,103.59 433.74,103.93 433.62,104.22 433.51,104.46 433.4,104.67 433.29,104.85 433.18,104.99 433.06,105.11 432.95,105.21 432.84,105.29 432.73,105.34 432.61,105.37 432.5,105.38 432.11,104.56 431.71,103.83 431.32,103.17 430.93,102.59 430.53,102.08 430.14,101.64 429.74,101.27 429.35,100.95 428.96,100.7 428.56,100.49 428.17,100.34 427.77,100.22 427.38,100.15 426.99,100.1 426.59,100.08 426.2,100.08" fill="#fff" stroke="#2171b5" stroke-width="0.85" stroke-linejoin="round"/>
<polygon points="440.5,100.08 440.36,100.08 440.23,100.08 440.09,100.07 439.95,100.05 439.81,100.03 439.68,100 439.54,99.96 439.4,99.92 439.26,99.86 439.12,99.79 438.99,99.7 438.85,99.61 438.71,99.5 438.57,99.37 438.44,99.23 438.3,99.08 438.19,99.08 438.09,99.09 437.98,99.1 437.88,99.11 437.77,99.13 437.66,99.15 437.56,99.18 437.45,99.21 437.34,99.25 437.24,99.3 437.13,99.35 437.03,99.42 436.92,99.5 436.81,99.6 436.71,99.73 436.6,100.08 436.6,100.08 436.71,100.43 436.81,100.56 436.92,100.66 437.03,100.74 437.13,100.81 437.24,100.86 437.34,100.91 437.45,100.95 437.56,100.98 437.66,101.01 437.77,101.03 437.88,101.05 437.98,101.06 438.09,101.07 438.19,101.08 438.3,101.08 438.44,100.93 438.57,100.79 438.71,100.66 438.85,100.55 438.99,100.46 439.12,100.37 439.26,100.3 439.4,100.24 439.54,100.2 439.68,100.16 439.81,100.13 439.95,100.11 440.09,100.09 440.23,100.08 440.36,100.08 440.5,100.08" fill="#fff" stroke="#2171b5" stroke-width="0.85" stroke-linejoin="round"/>
<line x1="431" y1="113.01" x2="454.6" y2="113.01" stroke="#2171b5" stroke-width="0.9"/>
<polygon points="448.5,113.01 447.94,113.01 447.39,112.99 446.83,112.96 446.27,112.91 445.72,112.84 445.16,112.73 444.61,112.59 444.05,112.42 443.49,112.2 442.94,111.95 442.38,111.65 441.83,111.31 441.27,110.91 440.71,110.47 440.16,109.97 439.6,109.41 439.41,109.42 439.23,109.44 439.04,109.47 438.85,109.52 438.66,109.59 438.48,109.67 438.29,109.77 438.1,109.89 437.91,110.03 437.73,110.2 437.54,110.4 437.35,110.63 437.16,110.91 436.98,111.27 436.79,111.76 436.6,113.01 436.6,113.01 436.79,114.26 436.98,114.75 437.16,115.11 437.35,115.39 437.54,115.62 437.73,115.82 437.91,115.99 438.1,116.13 438.29,116.25 438.48,116.35 438.66,116.43 438.85,116.5 439.04,116.55 439.23,116.58 439.41,116.6 439.6,116.61 440.16,116.05 440.71,115.55 441.27,115.11 441.83,114.71 442.38,114.37 442.94,114.07 443.49,113.82 444.05,113.6 444.61,113.43 445.16,113.29 445.72,113.18 446.27,113.11 446.83,113.06 447.39,113.03 447.94,113.01 448.5,113.01" fill="#fff" stroke="#2171b5" stroke-width="0.85" stroke-linejoin="round"/>
<line x1="423" y1="125.94" x2="451.9" y2="125.94" stroke="#2171b5" stroke-width="0.9"/>
<polygon points="430,125.94 430.19,125.94 430.38,125.94 430.56,125.93 430.75,125.92 430.94,125.9 431.12,125.88 431.31,125.85 431.5,125.81 431.69,125.76 431.88,125.7 432.06,125.64 432.25,125.56 432.44,125.47 432.62,125.37 432.81,125.26 433,125.14 433.08,125.14 433.16,125.15 433.24,125.15 433.32,125.17 433.41,125.18 433.49,125.2 433.57,125.22 433.65,125.25 433.73,125.28 433.81,125.32 433.89,125.36 433.98,125.41 434.06,125.47 434.14,125.55 434.22,125.66 434.3,125.94 434.3,125.94 434.22,126.22 434.14,126.33 434.06,126.41 433.98,126.47 433.89,126.52 433.81,126.56 433.73,126.6 433.65,126.63 433.57,126.66 433.49,126.68 433.41,126.7 433.32,126.71 433.24,126.73 433.16,126.73 433.08,126.74 433,126.74 432.81,126.62 432.62,126.51 432.44,126.41 432.25,126.32 432.06,126.24 431.88,126.18 431.69,126.12 431.5,126.07 431.31,126.03 431.12,126 430.94,125.98 430.75,125.96 430.56,125.95 430.38,125.94 430.19,125.94 430,125.94" fill="#fff" stroke="#2171b5" stroke-width="0.85" stroke-linejoin="round"/>
<polygon points="447.5,125.94 447.04,125.94 446.59,125.93 446.13,125.9 445.68,125.86 445.22,125.8 444.76,125.72 444.31,125.61 443.85,125.48 443.39,125.31 442.94,125.12 442.48,124.88 442.02,124.61 441.57,124.31 441.11,123.96 440.66,123.57 440.2,123.14 439.97,123.15 439.75,123.16 439.52,123.19 439.3,123.23 439.07,123.28 438.85,123.34 438.62,123.42 438.4,123.52 438.18,123.62 437.95,123.75 437.73,123.91 437.5,124.09 437.28,124.31 437.05,124.58 436.83,124.97 436.6,125.94 436.6,125.94 436.83,126.91 437.05,127.3 437.28,127.57 437.5,127.79 437.73,127.97 437.95,128.13 438.18,128.26 438.4,128.36 438.62,128.46 438.85,128.54 439.07,128.6 439.3,128.65 439.52,128.69 439.75,128.72 439.97,128.73 440.2,128.74 440.66,128.31 441.11,127.92 441.57,127.57 442.02,127.27 442.48,127 442.94,126.76 443.39,126.57 443.85,126.4 444.31,126.27 444.76,126.16 445.22,126.08 445.68,126.02 446.13,125.98 446.59,125.95 447.04,125.94 447.5,125.94" fill="#fff" stroke="#2171b5" stroke-width="0.85" stroke-linejoin="round"/>
<line x1="421" y1="138.87" x2="484" y2="138.87" stroke="#2171b5" stroke-width="0.9"/>
<circle cx="484" cy="138.87" r="1.3" fill="#2171b5"/>
<polygon points="431,138.87 431.12,138.87 431.25,138.87 431.38,138.86 431.5,138.85 431.62,138.83 431.75,138.81 431.88,138.78 432,138.74 432.12,138.69 432.25,138.63 432.38,138.57 432.5,138.49 432.62,138.4 432.75,138.3 432.88,138.19 433,138.07 433.08,138.07 433.16,138.08 433.24,138.08 433.32,138.1 433.41,138.11 433.49,138.13 433.57,138.15 433.65,138.18 433.73,138.21 433.81,138.25 433.89,138.29 433.98,138.34 434.06,138.4 434.14,138.48 434.22,138.59 434.3,138.87 434.3,138.87 434.22,139.15 434.14,139.26 434.06,139.34 433.98,139.4 433.89,139.45 433.81,139.49 433.73,139.53 433.65,139.56 433.57,139.59 433.49,139.61 433.41,139.63 433.32,139.64 433.24,139.66 433.16,139.66 433.08,139.67 433,139.67 432.88,139.55 432.75,139.44 432.62,139.34 432.5,139.25 432.38,139.17 432.25,139.11 432.12,139.05 432,139 431.88,138.96 431.75,138.93 431.62,138.91 431.5,138.89 431.38,138.88 431.25,138.87 431.12,138.87 431,138.87" fill="#fff" stroke="#2171b5" stroke-width="0.85" stroke-linejoin="round"/>
<polygon points="448,138.87 447.46,138.87 446.91,138.85 446.37,138.82 445.82,138.77 445.28,138.69 444.74,138.57 444.19,138.43 443.65,138.24 443.11,138.02 442.56,137.75 442.02,137.44 441.48,137.07 440.93,136.66 440.39,136.18 439.84,135.66 439.3,135.07 439.13,135.08 438.96,135.1 438.79,135.14 438.62,135.19 438.46,135.26 438.29,135.35 438.12,135.45 437.95,135.58 437.78,135.73 437.61,135.9 437.44,136.11 437.28,136.36 437.11,136.65 436.94,137.03 436.77,137.55 436.6,138.87 436.6,138.87 436.77,140.19 436.94,140.71 437.11,141.09 437.28,141.38 437.44,141.63 437.61,141.84 437.78,142.01 437.95,142.16 438.12,142.29 438.29,142.39 438.46,142.48 438.62,142.55 438.79,142.6 438.96,142.64 439.13,142.66 439.3,142.67 439.84,142.08 440.39,141.56 440.93,141.08 441.48,140.67 442.02,140.3 442.56,139.99 443.11,139.72 443.65,139.5 444.19,139.31 444.74,139.17 445.28,139.05 445.82,138.97 446.37,138.92 446.91,138.89 447.46,138.87 448,138.87" fill="#fff" stroke="#2171b5" stroke-width="0.85" stroke-linejoin="round"/>
<line x1="421" y1="151.8" x2="472.4" y2="151.8" stroke="#2171b5" stroke-width="0.9"/>
<polygon points="431,151.8 431.12,151.8 431.25,151.8 431.38,151.79 431.5,151.78 431.62,151.76 431.75,151.74 431.88,151.71 432,151.67 432.12,151.62 432.25,151.56 432.38,151.5 432.5,151.42 432.62,151.33 432.75,151.23 432.88,151.12 433,151 433.08,151 433.16,151.01 433.24,151.01 433.32,151.03 433.41,151.04 433.49,151.06 433.57,151.08 433.65,151.11 433.73,151.14 433.81,151.18 433.89,151.22 433.98,151.27 434.06,151.33 434.14,151.41 434.22,151.52 434.3,151.8 434.3,151.8 434.22,152.08 434.14,152.19 434.06,152.27 433.98,152.33 433.89,152.38 433.81,152.42 433.73,152.46 433.65,152.49 433.57,152.52 433.49,152.54 433.41,152.56 433.32,152.57 433.24,152.59 433.16,152.59 433.08,152.6 433,152.6 432.88,152.48 432.75,152.37 432.62,152.27 432.5,152.18 432.38,152.1 432.25,152.04 432.12,151.98 432,151.93 431.88,151.89 431.75,151.86 431.62,151.84 431.5,151.82 431.38,151.81 431.25,151.8 431.12,151.8 431,151.8" fill="#fff" stroke="#2171b5" stroke-width="0.85" stroke-linejoin="round"/>
<polygon points="448,151.8 447.46,151.8 446.91,151.78 446.37,151.75 445.82,151.7 445.28,151.62 444.74,151.5 444.19,151.36 443.65,151.17 443.11,150.95 442.56,150.68 442.02,150.37 441.48,150 440.93,149.59 440.39,149.11 439.84,148.59 439.3,148 439.13,148.01 438.96,148.03 438.79,148.07 438.62,148.12 438.46,148.19 438.29,148.28 438.12,148.38 437.95,148.51 437.78,148.66 437.61,148.83 437.44,149.04 437.28,149.29 437.11,149.58 436.94,149.96 436.77,150.48 436.6,151.8 436.6,151.8 436.77,153.12 436.94,153.64 437.11,154.02 437.28,154.31 437.44,154.56 437.61,154.77 437.78,154.94 437.95,155.09 438.12,155.22 438.29,155.32 438.46,155.41 438.62,155.48 438.79,155.53 438.96,155.57 439.13,155.59 439.3,155.6 439.84,155.01 440.39,154.49 440.93,154.01 441.48,153.6 442.02,153.23 442.56,152.92 443.11,152.65 443.65,152.43 444.19,152.24 444.74,152.1 445.28,151.98 445.82,151.9 446.37,151.85 446.91,151.82 447.46,151.8 448,151.8" fill="#fff" stroke="#2171b5" stroke-width="0.85" stroke-linejoin="round"/>
<line x1="423" y1="164.73" x2="457.6" y2="164.73" stroke="#2171b5" stroke-width="0.9"/>
<polygon points="430.5,164.73 430.62,164.73 430.75,164.72 430.88,164.71 431,164.69 431.12,164.66 431.25,164.62 431.38,164.57 431.5,164.5 431.62,164.42 431.75,164.32 431.88,164.2 432,164.07 432.12,163.91 432.25,163.74 432.38,163.55 432.5,163.33 432.61,163.33 432.73,163.34 432.84,163.35 432.95,163.37 433.06,163.4 433.18,163.43 433.29,163.47 433.4,163.52 433.51,163.57 433.62,163.64 433.74,163.71 433.85,163.8 433.96,163.91 434.07,164.05 434.19,164.24 434.3,164.73 434.3,164.73 434.19,165.22 434.07,165.41 433.96,165.55 433.85,165.66 433.74,165.75 433.62,165.82 433.51,165.89 433.4,165.94 433.29,165.99 433.18,166.03 433.06,166.06 432.95,166.09 432.84,166.11 432.73,166.12 432.61,166.13 432.5,166.13 432.38,165.91 432.25,165.72 432.12,165.55 432,165.39 431.88,165.26 431.75,165.14 431.62,165.04 431.5,164.96 431.38,164.89 431.25,164.84 431.12,164.8 431,164.77 430.88,164.75 430.75,164.74 430.62,164.73 430.5,164.73" fill="#fff" stroke="#2171b5" stroke-width="0.85" stroke-linejoin="round"/>
<polygon points="447,164.73 446.51,164.73 446.01,164.71 445.52,164.68 445.02,164.63 444.53,164.55 444.04,164.43 443.54,164.29 443.05,164.1 442.56,163.88 442.06,163.61 441.57,163.3 441.08,162.93 440.58,162.52 440.09,162.04 439.59,161.52 439.1,160.93 438.94,160.94 438.79,160.96 438.63,161 438.48,161.05 438.32,161.12 438.16,161.21 438.01,161.31 437.85,161.44 437.69,161.59 437.54,161.76 437.38,161.97 437.23,162.22 437.07,162.51 436.91,162.89 436.76,163.41 436.6,164.73 436.6,164.73 436.76,166.05 436.91,166.57 437.07,166.95 437.23,167.24 437.38,167.49 437.54,167.7 437.69,167.87 437.85,168.02 438.01,168.15 438.16,168.25 438.32,168.34 438.48,168.41 438.63,168.46 438.79,168.5 438.94,168.52 439.1,168.53 439.59,167.94 440.09,167.42 440.58,166.94 441.08,166.53 441.57,166.16 442.06,165.85 442.56,165.58 443.05,165.36 443.54,165.17 444.04,165.03 444.53,164.91 445.02,164.83 445.52,164.78 446.01,164.75 446.51,164.73 447,164.73" fill="#fff" stroke="#2171b5" stroke-width="0.85" stroke-linejoin="round"/>
<line x1="413" y1="177.66" x2="463" y2="177.66" stroke="#2171b5" stroke-width="0.9"/>
<polygon points="430.5,177.66 430.62,177.66 430.75,177.65 430.88,177.64 431,177.62 431.12,177.6 431.25,177.56 431.38,177.51 431.5,177.45 431.62,177.37 431.75,177.28 431.88,177.17 432,177.04 432.12,176.9 432.25,176.74 432.38,176.56 432.5,176.36 432.61,176.36 432.73,176.37 432.84,176.38 432.95,176.4 433.06,176.43 433.18,176.45 433.29,176.49 433.4,176.53 433.51,176.59 433.62,176.65 433.74,176.72 433.85,176.8 433.96,176.9 434.07,177.03 434.19,177.21 434.3,177.66 434.3,177.66 434.19,178.11 434.07,178.29 433.96,178.42 433.85,178.52 433.74,178.6 433.62,178.67 433.51,178.73 433.4,178.79 433.29,178.83 433.18,178.87 433.06,178.89 432.95,178.92 432.84,178.94 432.73,178.95 432.61,178.96 432.5,178.96 432.38,178.76 432.25,178.58 432.12,178.42 432,178.28 431.88,178.15 431.75,178.04 431.62,177.95 431.5,177.87 431.38,177.81 431.25,177.76 431.12,177.72 431,177.7 430.88,177.68 430.75,177.67 430.62,177.66 430.5,177.66" fill="#fff" stroke="#2171b5" stroke-width="0.85" stroke-linejoin="round"/>
<polygon points="447,177.66 446.51,177.66 446.01,177.64 445.52,177.61 445.02,177.56 444.53,177.48 444.04,177.36 443.54,177.22 443.05,177.03 442.56,176.81 442.06,176.54 441.57,176.23 441.08,175.86 440.58,175.45 440.09,174.97 439.59,174.45 439.1,173.86 438.94,173.87 438.79,173.89 438.63,173.93 438.48,173.98 438.32,174.05 438.16,174.14 438.01,174.24 437.85,174.37 437.69,174.52 437.54,174.69 437.38,174.9 437.23,175.15 437.07,175.44 436.91,175.82 436.76,176.34 436.6,177.66 436.6,177.66 436.76,178.98 436.91,179.5 437.07,179.88 437.23,180.17 437.38,180.42 437.54,180.63 437.69,180.8 437.85,180.95 438.01,181.08 438.16,181.18 438.32,181.27 438.48,181.34 438.63,181.39 438.79,181.43 438.94,181.45 439.1,181.46 439.59,180.87 440.09,180.35 440.58,179.87 441.08,179.46 441.57,179.09 442.06,178.78 442.56,178.51 443.05,178.29 443.54,178.1 444.04,177.96 444.53,177.84 445.02,177.76 445.52,177.71 446.01,177.68 446.51,177.66 447,177.66" fill="#fff" stroke="#2171b5" stroke-width="0.85" stroke-linejoin="round"/>
<line x1="404" y1="190.59" x2="470" y2="190.59" stroke="#2171b5" stroke-width="0.9"/>
<polygon points="424,190.59 424.54,190.59 425.07,190.57 425.61,190.53 426.15,190.45 426.69,190.35 427.23,190.2 427.76,190.01 428.3,189.77 428.84,189.47 429.38,189.12 429.91,188.7 430.45,188.22 430.99,187.68 431.53,187.06 432.06,186.36 432.6,185.59 432.71,185.6 432.81,185.63 432.92,185.68 433.03,185.75 433.13,185.84 433.24,185.95 433.34,186.09 433.45,186.26 433.56,186.46 433.66,186.69 433.77,186.96 433.88,187.28 433.98,187.68 434.09,188.17 434.19,188.85 434.3,190.59 434.3,190.59 434.19,192.33 434.09,193.01 433.98,193.5 433.88,193.9 433.77,194.22 433.66,194.49 433.56,194.72 433.45,194.92 433.34,195.09 433.24,195.23 433.13,195.34 433.03,195.43 432.92,195.5 432.81,195.55 432.71,195.58 432.6,195.59 432.06,194.82 431.53,194.12 430.99,193.5 430.45,192.96 429.91,192.48 429.38,192.06 428.84,191.71 428.3,191.41 427.76,191.17 427.23,190.98 426.69,190.83 426.15,190.73 425.61,190.65 425.07,190.61 424.54,190.59 424,190.59" fill="#fff" stroke="#2171b5" stroke-width="0.85" stroke-linejoin="round"/>
<polygon points="440,190.59 439.89,190.59 439.79,190.59 439.68,190.58 439.57,190.56 439.47,190.54 439.36,190.51 439.26,190.47 439.15,190.43 439.04,190.37 438.94,190.3 438.83,190.21 438.73,190.12 438.62,190.01 438.51,189.88 438.41,189.74 438.3,189.59 438.19,189.59 438.09,189.6 437.98,189.61 437.88,189.62 437.77,189.64 437.66,189.66 437.56,189.69 437.45,189.72 437.34,189.76 437.24,189.81 437.13,189.86 437.03,189.93 436.92,190.01 436.81,190.11 436.71,190.24 436.6,190.59 436.6,190.59 436.71,190.94 436.81,191.07 436.92,191.17 437.03,191.25 437.13,191.32 437.24,191.37 437.34,191.42 437.45,191.46 437.56,191.49 437.66,191.52 437.77,191.54 437.88,191.56 437.98,191.57 438.09,191.58 438.19,191.59 438.3,191.59 438.41,191.44 438.51,191.3 438.62,191.17 438.73,191.06 438.83,190.97 438.94,190.88 439.04,190.81 439.15,190.75 439.26,190.71 439.36,190.67 439.47,190.64 439.57,190.62 439.68,190.6 439.79,190.59 439.89,190.59 440,190.59" fill="#fff" stroke="#2171b5" stroke-width="0.85" stroke-linejoin="round"/>
<line x1="398" y1="203.52" x2="461" y2="203.52" stroke="#2171b5" stroke-width="0.9"/>
<polygon points="423,203.52 423.6,203.52 424.2,203.49 424.8,203.45 425.4,203.36 426,203.24 426.6,203.07 427.2,202.84 427.8,202.56 428.4,202.22 429,201.81 429.6,201.33 430.2,200.77 430.8,200.14 431.4,199.42 432,198.62 432.6,197.72 432.71,197.73 432.81,197.77 432.92,197.82 433.03,197.9 433.13,198.01 433.24,198.14 433.34,198.3 433.45,198.5 433.56,198.72 433.66,198.99 433.77,199.31 433.88,199.68 433.98,200.14 434.09,200.71 434.19,201.5 434.3,203.52 434.3,203.52 434.19,205.54 434.09,206.33 433.98,206.9 433.88,207.36 433.77,207.73 433.66,208.05 433.56,208.32 433.45,208.54 433.34,208.74 433.24,208.9 433.13,209.03 433.03,209.14 432.92,209.22 432.81,209.27 432.71,209.31 432.6,209.32 432,208.42 431.4,207.62 430.8,206.9 430.2,206.27 429.6,205.71 429,205.23 428.4,204.82 427.8,204.48 427.2,204.2 426.6,203.97 426,203.8 425.4,203.68 424.8,203.59 424.2,203.55 423.6,203.52 423,203.52" fill="#fff" stroke="#2171b5" stroke-width="0.85" stroke-linejoin="round"/>
<polygon points="439.5,203.52 439.41,203.52 439.31,203.52 439.22,203.51 439.12,203.49 439.03,203.47 438.94,203.44 438.84,203.4 438.75,203.36 438.66,203.3 438.56,203.23 438.47,203.14 438.38,203.05 438.28,202.94 438.19,202.81 438.09,202.67 438,202.52 437.91,202.52 437.82,202.53 437.74,202.54 437.65,202.55 437.56,202.57 437.48,202.59 437.39,202.62 437.3,202.65 437.21,202.69 437.12,202.74 437.04,202.79 436.95,202.86 436.86,202.94 436.78,203.04 436.69,203.17 436.6,203.52 436.6,203.52 436.69,203.87 436.78,204 436.86,204.1 436.95,204.18 437.04,204.25 437.12,204.3 437.21,204.35 437.3,204.39 437.39,204.42 437.48,204.45 437.56,204.47 437.65,204.49 437.74,204.5 437.82,204.51 437.91,204.52 438,204.52 438.09,204.37 438.19,204.23 438.28,204.1 438.38,203.99 438.47,203.9 438.56,203.81 438.66,203.74 438.75,203.68 438.84,203.64 438.94,203.6 439.03,203.57 439.12,203.55 439.22,203.53 439.31,203.52 439.41,203.52 439.5,203.52" fill="#fff" stroke="#2171b5" stroke-width="0.85" stroke-linejoin="round"/>
<line x1="435.3" y1="15.3" x2="435.3" y2="211.1" stroke="#1a1a1a" stroke-width="1"/>
<rect x="376.6" y="15.3" width="112.2" height="195.8" fill="none" stroke="#8a8a8a" stroke-width="1"/>
<line x1="380" y1="211.1" x2="380" y2="213.4" stroke="#333333" stroke-width="1.1"/>
<text x="380" y="222.7" font-size="9.0" text-anchor="middle" fill="#111111" stroke="#111111" stroke-width="0.2">−4</text>
<line x1="407.6" y1="211.1" x2="407.6" y2="213.4" stroke="#333333" stroke-width="1.1"/>
<text x="407.6" y="222.7" font-size="9.0" text-anchor="middle" fill="#111111" stroke="#111111" stroke-width="0.2">−2</text>
<line x1="435.2" y1="211.1" x2="435.2" y2="213.4" stroke="#333333" stroke-width="1.1"/>
<text x="435.2" y="222.7" font-size="9.0" text-anchor="middle" fill="#111111" stroke="#111111" stroke-width="0.2">0</text>
<line x1="462.8" y1="211.1" x2="462.8" y2="213.4" stroke="#333333" stroke-width="1.1"/>
<text x="462.8" y="222.7" font-size="9.0" text-anchor="middle" fill="#111111" stroke="#111111" stroke-width="0.2">2</text>
<text x="437" y="232.5" font-size="9.3" text-anchor="middle" fill="#111111" stroke="#111111" stroke-width="0.2">Effect size</text>
<text x="372.5" y="11.7" font-size="16" text-anchor="start" fill="#000" font-weight="bold">c</text>
<text transform="matrix(1 0 0 1.12 505 12.6)" font-size="8.5" text-anchor="middle" fill="#111111" stroke="#111111" stroke-width="0.2">#</text>
<text transform="matrix(1 0 0 1.12 531 12.6)" font-size="8.5" text-anchor="middle" fill="#111111" stroke="#111111" stroke-width="0.2">% &gt; 0</text>
<text transform="matrix(1 0 0 1.12 518.1 26.1)" font-size="9.4" text-anchor="end" fill="#2f74ba">717</text>
<text transform="matrix(1 0 0 1.12 532.4 26.1)" font-size="9.4" text-anchor="middle" fill="#6fa3d0">0.52</text>
<text transform="matrix(1 0 0 1.12 518.1 39.03)" font-size="9.4" text-anchor="end" fill="#2f74ba">2,552</text>
<text transform="matrix(1 0 0 1.12 532.4 39.03)" font-size="9.4" text-anchor="middle" fill="#a8c8e4">0.22</text>
<text transform="matrix(1 0 0 1.12 518.1 51.96)" font-size="9.4" text-anchor="end" fill="#2f74ba">93</text>
<text transform="matrix(1 0 0 1.12 532.4 51.96)" font-size="9.4" text-anchor="middle" fill="#a6c7e3">0.23</text>
<text transform="matrix(1 0 0 1.12 518.1 64.89)" font-size="9.4" text-anchor="end" fill="#2f74ba">1,038</text>
<text transform="matrix(1 0 0 1.12 532.4 64.89)" font-size="9.4" text-anchor="middle" fill="#b3cfe8">0.17</text>
<text transform="matrix(1 0 0 1.12 518.1 77.82)" font-size="9.4" text-anchor="end" fill="#2f74ba">2,572</text>
<text transform="matrix(1 0 0 1.12 532.4 77.82)" font-size="9.4" text-anchor="middle" fill="#bcd5eb">0.13</text>
<text transform="matrix(1 0 0 1.12 518.1 90.75)" font-size="9.4" text-anchor="end" fill="#2f74ba">269</text>
<text transform="matrix(1 0 0 1.12 532.4 90.75)" font-size="9.4" text-anchor="middle" fill="#a8c8e4">0.22</text>
<text transform="matrix(1 0 0 1.12 518.1 103.68)" font-size="9.4" text-anchor="end" fill="#2f74ba">2,061</text>
<text transform="matrix(1 0 0 1.12 532.4 103.68)" font-size="9.4" text-anchor="middle" fill="#c0d7ec">0.11</text>
<text transform="matrix(1 0 0 1.12 518.1 116.61)" font-size="9.4" text-anchor="end" fill="#2f74ba">115</text>
<text transform="matrix(1 0 0 1.12 532.4 116.61)" font-size="9.4" text-anchor="middle" fill="#2171b5">0.98</text>
<text transform="matrix(1 0 0 1.12 518.1 129.54)" font-size="9.4" text-anchor="end" fill="#2f74ba">138</text>
<text transform="matrix(1 0 0 1.12 532.4 129.54)" font-size="9.4" text-anchor="middle" fill="#4085c0">0.79</text>
<text transform="matrix(1 0 0 1.12 518.1 142.47)" font-size="9.4" text-anchor="end" fill="#2f74ba">1,593</text>
<text transform="matrix(1 0 0 1.12 532.4 142.47)" font-size="9.4" text-anchor="middle" fill="#2574b6">0.95</text>
<text transform="matrix(1 0 0 1.12 518.1 155.4)" font-size="9.4" text-anchor="end" fill="#2f74ba">1,328</text>
<text transform="matrix(1 0 0 1.12 532.4 155.4)" font-size="9.4" text-anchor="middle" fill="#2c78b9">0.91</text>
<text transform="matrix(1 0 0 1.12 518.1 168.33)" font-size="9.4" text-anchor="end" fill="#2f74ba">1,122</text>
<text transform="matrix(1 0 0 1.12 532.4 168.33)" font-size="9.4" text-anchor="middle" fill="#3e84bf">0.8</text>
<text transform="matrix(1 0 0 1.12 518.1 181.26)" font-size="9.4" text-anchor="end" fill="#2f74ba">8,228</text>
<text transform="matrix(1 0 0 1.12 532.4 181.26)" font-size="9.4" text-anchor="middle" fill="#367ebc">0.85</text>
<text transform="matrix(1 0 0 1.12 518.1 194.19)" font-size="9.4" text-anchor="end" fill="#2f74ba">4,858</text>
<text transform="matrix(1 0 0 1.12 532.4 194.19)" font-size="9.4" text-anchor="middle" fill="#bcd5eb">0.13</text>
<text transform="matrix(1 0 0 1.12 518.1 207.12)" font-size="9.4" text-anchor="end" fill="#2f74ba">9,017</text>
<text transform="matrix(1 0 0 1.12 532.4 207.12)" font-size="9.4" text-anchor="middle" fill="#cee1f1">0.05</text>
<rect x="590.4" y="14.4" width="92" height="196.6" fill="#fff" stroke="none" stroke-width="1"/>
<line x1="594.2" y1="14.4" x2="594.2" y2="211" stroke="#ebebeb" stroke-width="1"/>
<line x1="609.48" y1="14.4" x2="609.48" y2="211" stroke="#ebebeb" stroke-width="1"/>
<line x1="624.76" y1="14.4" x2="624.76" y2="211" stroke="#ebebeb" stroke-width="1"/>
<line x1="640.04" y1="14.4" x2="640.04" y2="211" stroke="#ebebeb" stroke-width="1"/>
<line x1="655.32" y1="14.4" x2="655.32" y2="211" stroke="#ebebeb" stroke-width="1"/>
<line x1="670.6" y1="14.4" x2="670.6" y2="211" stroke="#ebebeb" stroke-width="1"/>
<line x1="590.4" y1="22.5" x2="682.4" y2="22.5" stroke="#ebebeb" stroke-width="1"/>
<line x1="590.4" y1="35.43" x2="682.4" y2="35.43" stroke="#ebebeb" stroke-width="1"/>
<line x1="590.4" y1="48.36" x2="682.4" y2="48.36" stroke="#ebebeb" stroke-width="1"/>
<line x1="590.4" y1="61.29" x2="682.4" y2="61.29" stroke="#ebebeb" stroke-width="1"/>
<line x1="590.4" y1="74.22" x2="682.4" y2="74.22" stroke="#ebebeb" stroke-width="1"/>
<line x1="590.4" y1="87.15" x2="682.4" y2="87.15" stroke="#ebebeb" stroke-width="1"/>
<line x1="590.4" y1="100.08" x2="682.4" y2="100.08" stroke="#ebebeb" stroke-width="1"/>
<line x1="590.4" y1="113.01" x2="682.4" y2="113.01" stroke="#ebebeb" stroke-width="1"/>
<line x1="590.4" y1="125.94" x2="682.4" y2="125.94" stroke="#ebebeb" stroke-width="1"/>
<line x1="590.4" y1="138.87" x2="682.4" y2="138.87" stroke="#ebebeb" stroke-width="1"/>
<line x1="590.4" y1="151.8" x2="682.4" y2="151.8" stroke="#ebebeb" stroke-width="1"/>
<line x1="590.4" y1="164.73" x2="682.4" y2="164.73" stroke="#ebebeb" stroke-width="1"/>
<line x1="590.4" y1="177.66" x2="682.4" y2="177.66" stroke="#ebebeb" stroke-width="1"/>
<line x1="590.4" y1="190.59" x2="682.4" y2="190.59" stroke="#ebebeb" stroke-width="1"/>
<line x1="590.4" y1="203.52" x2="682.4" y2="203.52" stroke="#ebebeb" stroke-width="1"/>
<line x1="598.2" y1="14.4" x2="598.2" y2="211" stroke="#1a1a1a" stroke-width="2"/>
<line x1="670.4" y1="22.5" x2="676.6" y2="22.5" stroke="#2171b5" stroke-width="0.9"/>
<line x1="670.4" y1="20.9" x2="670.4" y2="24.1" stroke="#2171b5" stroke-width="0.9"/>
<line x1="676.6" y1="20.9" x2="676.6" y2="24.1" stroke="#2171b5" stroke-width="0.9"/>
<circle cx="673" cy="22.5" r="1.5" fill="#2171b5"/>
<line x1="668" y1="35.43" x2="675" y2="35.43" stroke="#2171b5" stroke-width="0.9"/>
<line x1="668" y1="33.83" x2="668" y2="37.03" stroke="#2171b5" stroke-width="0.9"/>
<line x1="675" y1="33.83" x2="675" y2="37.03" stroke="#2171b5" stroke-width="0.9"/>
<circle cx="671.4" cy="35.43" r="1.5" fill="#2171b5"/>
<line x1="666.4" y1="48.36" x2="673.6" y2="48.36" stroke="#2171b5" stroke-width="0.9"/>
<line x1="666.4" y1="46.76" x2="666.4" y2="49.96" stroke="#2171b5" stroke-width="0.9"/>
<line x1="673.6" y1="46.76" x2="673.6" y2="49.96" stroke="#2171b5" stroke-width="0.9"/>
<circle cx="669.6" cy="48.36" r="1.5" fill="#2171b5"/>
<line x1="666.4" y1="61.29" x2="674.4" y2="61.29" stroke="#2171b5" stroke-width="0.9"/>
<line x1="666.4" y1="59.69" x2="666.4" y2="62.89" stroke="#2171b5" stroke-width="0.9"/>
<line x1="674.4" y1="59.69" x2="674.4" y2="62.89" stroke="#2171b5" stroke-width="0.9"/>
<circle cx="670" cy="61.29" r="1.5" fill="#2171b5"/>
<line x1="663" y1="74.22" x2="669.6" y2="74.22" stroke="#2171b5" stroke-width="0.9"/>
<line x1="663" y1="72.62" x2="663" y2="75.82" stroke="#2171b5" stroke-width="0.9"/>
<line x1="669.6" y1="72.62" x2="669.6" y2="75.82" stroke="#2171b5" stroke-width="0.9"/>
<circle cx="666" cy="74.22" r="1.5" fill="#2171b5"/>
<line x1="659.6" y1="87.15" x2="665" y2="87.15" stroke="#2171b5" stroke-width="0.9"/>
<line x1="659.6" y1="85.55" x2="659.6" y2="88.75" stroke="#2171b5" stroke-width="0.9"/>
<line x1="665" y1="85.55" x2="665" y2="88.75" stroke="#2171b5" stroke-width="0.9"/>
<circle cx="662" cy="87.15" r="1.5" fill="#2171b5"/>
<line x1="652.4" y1="100.08" x2="658" y2="100.08" stroke="#2171b5" stroke-width="0.9"/>
<line x1="652.4" y1="98.48" x2="652.4" y2="101.68" stroke="#2171b5" stroke-width="0.9"/>
<line x1="658" y1="98.48" x2="658" y2="101.68" stroke="#2171b5" stroke-width="0.9"/>
<circle cx="655" cy="100.08" r="1.5" fill="#2171b5"/>
<line x1="640" y1="113.01" x2="645.6" y2="113.01" stroke="#2171b5" stroke-width="0.9"/>
<line x1="640" y1="111.41" x2="640" y2="114.61" stroke="#2171b5" stroke-width="0.9"/>
<line x1="645.6" y1="111.41" x2="645.6" y2="114.61" stroke="#2171b5" stroke-width="0.9"/>
<circle cx="642.4" cy="113.01" r="1.5" fill="#2171b5"/>
<line x1="636" y1="125.94" x2="640.4" y2="125.94" stroke="#2171b5" stroke-width="0.9"/>
<line x1="636" y1="124.34" x2="636" y2="127.54" stroke="#2171b5" stroke-width="0.9"/>
<line x1="640.4" y1="124.34" x2="640.4" y2="127.54" stroke="#2171b5" stroke-width="0.9"/>
<circle cx="638" cy="125.94" r="1.5" fill="#2171b5"/>
<line x1="631" y1="138.87" x2="635" y2="138.87" stroke="#2171b5" stroke-width="0.9"/>
<line x1="631" y1="137.27" x2="631" y2="140.47" stroke="#2171b5" stroke-width="0.9"/>
<line x1="635" y1="137.27" x2="635" y2="140.47" stroke="#2171b5" stroke-width="0.9"/>
<circle cx="633" cy="138.87" r="1.5" fill="#2171b5"/>
<line x1="626.6" y1="151.8" x2="630.6" y2="151.8" stroke="#2171b5" stroke-width="0.9"/>
<line x1="626.6" y1="150.2" x2="626.6" y2="153.4" stroke="#2171b5" stroke-width="0.9"/>
<line x1="630.6" y1="150.2" x2="630.6" y2="153.4" stroke="#2171b5" stroke-width="0.9"/>
<circle cx="628.6" cy="151.8" r="1.5" fill="#2171b5"/>
<line x1="626" y1="164.73" x2="629.6" y2="164.73" stroke="#2171b5" stroke-width="0.9"/>
<line x1="626" y1="163.13" x2="626" y2="166.33" stroke="#2171b5" stroke-width="0.9"/>
<line x1="629.6" y1="163.13" x2="629.6" y2="166.33" stroke="#2171b5" stroke-width="0.9"/>
<circle cx="627.6" cy="164.73" r="1.5" fill="#2171b5"/>
<line x1="623" y1="177.66" x2="625.8" y2="177.66" stroke="#2171b5" stroke-width="0.9"/>
<line x1="623" y1="176.06" x2="623" y2="179.26" stroke="#2171b5" stroke-width="0.9"/>
<line x1="625.8" y1="176.06" x2="625.8" y2="179.26" stroke="#2171b5" stroke-width="0.9"/>
<circle cx="624.4" cy="177.66" r="1.5" fill="#2171b5"/>
<line x1="622.8" y1="190.59" x2="625.2" y2="190.59" stroke="#2171b5" stroke-width="0.9"/>
<line x1="622.8" y1="188.99" x2="622.8" y2="192.19" stroke="#2171b5" stroke-width="0.9"/>
<line x1="625.2" y1="188.99" x2="625.2" y2="192.19" stroke="#2171b5" stroke-width="0.9"/>
<circle cx="624" cy="190.59" r="1.5" fill="#2171b5"/>
<line x1="622.8" y1="203.52" x2="625.2" y2="203.52" stroke="#2171b5" stroke-width="0.9"/>
<line x1="622.8" y1="201.92" x2="622.8" y2="205.12" stroke="#2171b5" stroke-width="0.9"/>
<line x1="625.2" y1="201.92" x2="625.2" y2="205.12" stroke="#2171b5" stroke-width="0.9"/>
<circle cx="624" cy="203.52" r="1.5" fill="#2171b5"/>
<rect x="590.4" y="14.4" width="92" height="196.6" fill="none" stroke="#8a8a8a" stroke-width="1"/>
<line x1="588.1" y1="22.5" x2="590.4" y2="22.5" stroke="#333333" stroke-width="1.1"/>
<text transform="matrix(1 0 0 1.12 586.4 25.7)" font-size="8.1" text-anchor="end" fill="#111111" stroke="#111111" stroke-width="0.2">RING1B</text>
<line x1="588.1" y1="35.43" x2="590.4" y2="35.43" stroke="#333333" stroke-width="1.1"/>
<text transform="matrix(1 0 0 1.12 586.4 38.63)" font-size="8.1" text-anchor="end" fill="#111111" stroke="#111111" stroke-width="0.2">JARID2</text>
<line x1="588.1" y1="48.36" x2="590.4" y2="48.36" stroke="#333333" stroke-width="1.1"/>
<text transform="matrix(1 0 0 1.12 586.4 51.56)" font-size="8.1" text-anchor="end" fill="#111111" stroke="#111111" stroke-width="0.2">PCGF1</text>
<line x1="588.1" y1="61.29" x2="590.4" y2="61.29" stroke="#333333" stroke-width="1.1"/>
<text transform="matrix(1 0 0 1.12 586.4 64.49)" font-size="8.1" text-anchor="end" fill="#111111" stroke="#111111" stroke-width="0.2">BCOR</text>
<line x1="588.1" y1="74.22" x2="590.4" y2="74.22" stroke="#333333" stroke-width="1.1"/>
<text transform="matrix(1 0 0 1.12 586.4 77.42)" font-size="8.1" text-anchor="end" fill="#111111" stroke="#111111" stroke-width="0.2">RYBP</text>
<line x1="588.1" y1="87.15" x2="590.4" y2="87.15" stroke="#333333" stroke-width="1.1"/>
<text transform="matrix(1 0 0 1.12 586.4 90.35)" font-size="8.1" text-anchor="end" fill="#111111" stroke="#111111" stroke-width="0.2">EZH2phos.</text>
<line x1="588.1" y1="100.08" x2="590.4" y2="100.08" stroke="#333333" stroke-width="1.1"/>
<text transform="matrix(1 0 0 1.12 586.4 103.28)" font-size="8.1" text-anchor="end" fill="#111111" stroke="#111111" stroke-width="0.2">SUZ12</text>
<line x1="588.1" y1="113.01" x2="590.4" y2="113.01" stroke="#333333" stroke-width="1.1"/>
<text transform="matrix(1 0 0 1.12 586.4 116.21)" font-size="8.1" text-anchor="end" fill="#111111" stroke="#111111" stroke-width="0.2">EZH2</text>
<line x1="588.1" y1="125.94" x2="590.4" y2="125.94" stroke="#333333" stroke-width="1.1"/>
<text transform="matrix(1 0 0 1.12 586.4 129.14)" font-size="8.1" text-anchor="end" fill="#111111" stroke="#111111" stroke-width="0.2">PCGF2</text>
<line x1="588.1" y1="138.87" x2="590.4" y2="138.87" stroke="#333333" stroke-width="1.1"/>
<text transform="matrix(1 0 0 1.12 586.4 142.07)" font-size="8.1" text-anchor="end" fill="#111111" stroke="#111111" stroke-width="0.2">KDM4A</text>
<line x1="588.1" y1="151.8" x2="590.4" y2="151.8" stroke="#333333" stroke-width="1.1"/>
<text transform="matrix(1 0 0 1.12 586.4 155)" font-size="8.1" text-anchor="end" fill="#111111" stroke="#111111" stroke-width="0.2">SP140</text>
<line x1="588.1" y1="164.73" x2="590.4" y2="164.73" stroke="#333333" stroke-width="1.1"/>
<text transform="matrix(1 0 0 1.12 586.4 167.93)" font-size="8.1" text-anchor="end" fill="#111111" stroke="#111111" stroke-width="0.2">EP300</text>
<line x1="588.1" y1="177.66" x2="590.4" y2="177.66" stroke="#333333" stroke-width="1.1"/>
<text transform="matrix(1 0 0 1.12 586.4 180.86)" font-size="8.1" text-anchor="end" fill="#111111" stroke="#111111" stroke-width="0.2">POU5F1</text>
<line x1="588.1" y1="190.59" x2="590.4" y2="190.59" stroke="#333333" stroke-width="1.1"/>
<text transform="matrix(1 0 0 1.12 586.4 193.79)" font-size="8.1" text-anchor="end" fill="#111111" stroke="#111111" stroke-width="0.2">TRP47</text>
<line x1="588.1" y1="203.52" x2="590.4" y2="203.52" stroke="#333333" stroke-width="1.1"/>
<text transform="matrix(1 0 0 1.12 586.4 206.72)" font-size="8.1" text-anchor="end" fill="#111111" stroke="#111111" stroke-width="0.2">CTBP2</text>
<line x1="594.2" y1="211" x2="594.2" y2="213.3" stroke="#333333" stroke-width="1.1"/>
<text x="594.2" y="222.6" font-size="9.0" text-anchor="middle" fill="#111111" stroke="#111111" stroke-width="0.2">0</text>
<line x1="609.48" y1="211" x2="609.48" y2="213.3" stroke="#333333" stroke-width="1.1"/>
<text x="609.48" y="222.6" font-size="9.0" text-anchor="middle" fill="#111111" stroke="#111111" stroke-width="0.2">4</text>
<line x1="624.76" y1="211" x2="624.76" y2="213.3" stroke="#333333" stroke-width="1.1"/>
<text x="624.76" y="222.6" font-size="9.0" text-anchor="middle" fill="#111111" stroke="#111111" stroke-width="0.2">8</text>
<line x1="640.04" y1="211" x2="640.04" y2="213.3" stroke="#333333" stroke-width="1.1"/>
<text x="640.04" y="222.6" font-size="9.0" text-anchor="middle" fill="#111111" stroke="#111111" stroke-width="0.2">12</text>
<line x1="655.32" y1="211" x2="655.32" y2="213.3" stroke="#333333" stroke-width="1.1"/>
<text x="655.32" y="222.6" font-size="9.0" text-anchor="middle" fill="#111111" stroke="#111111" stroke-width="0.2">16</text>
<line x1="670.6" y1="211" x2="670.6" y2="213.3" stroke="#333333" stroke-width="1.1"/>
<text x="670.6" y="222.6" font-size="9.0" text-anchor="middle" fill="#111111" stroke="#111111" stroke-width="0.2">20</text>
<text x="638.3" y="232.5" font-size="9.3" text-anchor="middle" fill="#111111" stroke="#111111" stroke-width="0.2">Odds ratio</text>
<text x="568" y="11.7" font-size="16" text-anchor="start" fill="#000" font-weight="bold">d</text>
<rect x="24.4" y="249.4" width="167.6" height="203" fill="#fff" stroke="none" stroke-width="1"/>
<line x1="46.5" y1="249.4" x2="46.5" y2="452.4" stroke="#f5f5f5" stroke-width="0.8"/>
<line x1="77.5" y1="249.4" x2="77.5" y2="452.4" stroke="#f5f5f5" stroke-width="0.8"/>
<line x1="108.5" y1="249.4" x2="108.5" y2="452.4" stroke="#f5f5f5" stroke-width="0.8"/>
<line x1="139.5" y1="249.4" x2="139.5" y2="452.4" stroke="#f5f5f5" stroke-width="0.8"/>
<line x1="170.5" y1="249.4" x2="170.5" y2="452.4" stroke="#f5f5f5" stroke-width="0.8"/>
<line x1="24.4" y1="418.06" x2="192" y2="418.06" stroke="#f5f5f5" stroke-width="0.8"/>
<line x1="24.4" y1="367.39" x2="192" y2="367.39" stroke="#f5f5f5" stroke-width="0.8"/>
<line x1="24.4" y1="316.72" x2="192" y2="316.72" stroke="#f5f5f5" stroke-width="0.8"/>
<line x1="24.4" y1="266.05" x2="192" y2="266.05" stroke="#f5f5f5" stroke-width="0.8"/>
<line x1="31" y1="249.4" x2="31" y2="452.4" stroke="#ebebeb" stroke-width="1"/>
<line x1="62" y1="249.4" x2="62" y2="452.4" stroke="#ebebeb" stroke-width="1"/>
<line x1="93" y1="249.4" x2="93" y2="452.4" stroke="#ebebeb" stroke-width="1"/>
<line x1="124" y1="249.4" x2="124" y2="452.4" stroke="#ebebeb" stroke-width="1"/>
<line x1="155" y1="249.4" x2="155" y2="452.4" stroke="#ebebeb" stroke-width="1"/>
<line x1="186" y1="249.4" x2="186" y2="452.4" stroke="#ebebeb" stroke-width="1"/>
<line x1="24.4" y1="443.4" x2="192" y2="443.4" stroke="#ebebeb" stroke-width="1"/>
<line x1="24.4" y1="392.73" x2="192" y2="392.73" stroke="#ebebeb" stroke-width="1"/>
<line x1="24.4" y1="342.06" x2="192" y2="342.06" stroke="#ebebeb" stroke-width="1"/>
<line x1="24.4" y1="291.39" x2="192" y2="291.39" stroke="#ebebeb" stroke-width="1"/>
<g fill="#fd8d3c"><circle cx="126.58" cy="443.21" r="1.4"/><circle cx="175.62" cy="439.8" r="1.4"/><circle cx="144.54" cy="442.97" r="1.4"/><circle cx="102.45" cy="443.17" r="1.4"/><circle cx="175.76" cy="440.82" r="1.4"/><circle cx="48.37" cy="439.89" r="1.4"/><circle cx="102.98" cy="443.35" r="1.4"/><circle cx="119.07" cy="440.86" r="1.4"/><circle cx="33.01" cy="443.06" r="1.4"/><circle cx="171.61" cy="441.79" r="1.4"/><circle cx="148.5" cy="441.45" r="1.4"/><circle cx="52.29" cy="440.35" r="1.4"/><circle cx="125.75" cy="443.32" r="1.4"/><circle cx="164.72" cy="443.31" r="1.4"/><circle cx="63.14" cy="442.16" r="1.4"/><circle cx="164.87" cy="437.77" r="1.4"/><circle cx="75.39" cy="440.95" r="1.4"/><circle cx="135.01" cy="442.8" r="1.4"/><circle cx="62.42" cy="440.51" r="1.4"/><circle cx="179.32" cy="442.27" r="1.4"/><circle cx="168.14" cy="442.82" r="1.4"/><circle cx="56.47" cy="441.57" r="1.4"/><circle cx="53.36" cy="441.83" r="1.4"/><circle cx="123.55" cy="442.72" r="1.4"/><circle cx="31.52" cy="442.59" r="1.4"/><circle cx="78.56" cy="441.74" r="1.4"/><circle cx="156.6" cy="441.65" r="1.4"/><circle cx="104.84" cy="443.19" r="1.4"/><circle cx="139.13" cy="438.24" r="1.4"/><circle cx="34.51" cy="441.47" r="1.4"/><circle cx="146.06" cy="443.18" r="1.4"/><circle cx="151.88" cy="443.08" r="1.4"/><circle cx="87.19" cy="443.16" r="1.4"/><circle cx="38.17" cy="443.27" r="1.4"/><circle cx="58.76" cy="442.11" r="1.4"/><circle cx="146.97" cy="443.03" r="1.4"/><circle cx="173.66" cy="441.66" r="1.4"/><circle cx="85.44" cy="442.74" r="1.4"/><circle cx="111.52" cy="443.24" r="1.4"/><circle cx="145.84" cy="442.44" r="1.4"/><circle cx="153.33" cy="443.05" r="1.4"/><circle cx="176.13" cy="442.97" r="1.4"/><circle cx="44.99" cy="441.9" r="1.4"/><circle cx="171.88" cy="441.06" r="1.4"/><circle cx="83.17" cy="441.14" r="1.4"/><circle cx="78.95" cy="442.23" r="1.4"/><circle cx="79.61" cy="443.04" r="1.4"/><circle cx="53.84" cy="442.67" r="1.4"/><circle cx="136.75" cy="442.2" r="1.4"/><circle cx="38.45" cy="443.38" r="1.4"/><circle cx="182.41" cy="441.38" r="1.4"/><circle cx="67.42" cy="442.97" r="1.4"/><circle cx="122.14" cy="442.37" r="1.4"/><circle cx="95.72" cy="441.42" r="1.4"/><circle cx="39.55" cy="442.95" r="1.4"/><circle cx="106.74" cy="443.14" r="1.4"/><circle cx="159.66" cy="441.16" r="1.4"/><circle cx="176.75" cy="441" r="1.4"/><circle cx="127.73" cy="443.17" r="1.4"/><circle cx="97.68" cy="442.46" r="1.4"/><circle cx="53.9" cy="442.45" r="1.4"/><circle cx="100.54" cy="442" r="1.4"/><circle cx="184.34" cy="440.08" r="1.4"/><circle cx="100.6" cy="438.97" r="1.4"/><circle cx="105.91" cy="443.1" r="1.4"/><circle cx="75.66" cy="441.1" r="1.4"/><circle cx="92.96" cy="442.21" r="1.4"/><circle cx="182.67" cy="441.83" r="1.4"/><circle cx="178.28" cy="441.74" r="1.4"/><circle cx="82.94" cy="441.69" r="1.4"/><circle cx="44.68" cy="442.91" r="1.4"/><circle cx="164.1" cy="439.9" r="1.4"/><circle cx="86.45" cy="442.61" r="1.4"/><circle cx="137.59" cy="439.99" r="1.4"/><circle cx="132.89" cy="443.28" r="1.4"/><circle cx="139.1" cy="441.48" r="1.4"/><circle cx="74.1" cy="439.94" r="1.4"/><circle cx="137.02" cy="443.09" r="1.4"/><circle cx="76.09" cy="440.63" r="1.4"/><circle cx="120.1" cy="442.42" r="1.4"/><circle cx="32.78" cy="441.93" r="1.4"/><circle cx="134.06" cy="442.95" r="1.4"/><circle cx="102.04" cy="442.21" r="1.4"/><circle cx="153.4" cy="440.73" r="1.4"/><circle cx="84.38" cy="441.35" r="1.4"/><circle cx="158.09" cy="440.79" r="1.4"/><circle cx="84.71" cy="441.14" r="1.4"/><circle cx="136.63" cy="439.98" r="1.4"/><circle cx="180.79" cy="441.04" r="1.4"/><circle cx="112.23" cy="442.74" r="1.4"/><circle cx="56.5" cy="440.93" r="1.4"/><circle cx="104.23" cy="439.32" r="1.4"/><circle cx="137.1" cy="442.78" r="1.4"/><circle cx="57.37" cy="440.18" r="1.4"/><circle cx="150.75" cy="440.78" r="1.4"/><circle cx="95.57" cy="441.94" r="1.4"/><circle cx="126.71" cy="442.95" r="1.4"/><circle cx="141.55" cy="440.55" r="1.4"/><circle cx="35.24" cy="442.23" r="1.4"/><circle cx="130.76" cy="441.55" r="1.4"/><circle cx="64.61" cy="442.28" r="1.4"/><circle cx="37.42" cy="440.77" r="1.4"/><circle cx="103.36" cy="443.3" r="1.4"/><circle cx="51.49" cy="442.73" r="1.4"/><circle cx="79.7" cy="442.85" r="1.4"/><circle cx="36.47" cy="442.19" r="1.4"/><circle cx="102.4" cy="441.36" r="1.4"/><circle cx="121.56" cy="441.5" r="1.4"/><circle cx="67.5" cy="443.34" r="1.4"/><circle cx="93.2" cy="443.36" r="1.4"/><circle cx="73.74" cy="442.55" r="1.4"/><circle cx="158.57" cy="442.86" r="1.4"/><circle cx="88.37" cy="440.68" r="1.4"/><circle cx="45.55" cy="442.77" r="1.4"/><circle cx="114.66" cy="441.98" r="1.4"/><circle cx="178.05" cy="441.14" r="1.4"/><circle cx="156.6" cy="440.16" r="1.4"/><circle cx="129.56" cy="441.59" r="1.4"/><circle cx="87.69" cy="441.69" r="1.4"/><circle cx="117.52" cy="441.27" r="1.4"/><circle cx="177.88" cy="440.68" r="1.4"/><circle cx="84.88" cy="442.85" r="1.4"/><circle cx="168.1" cy="442.43" r="1.4"/><circle cx="117.82" cy="443.39" r="1.4"/><circle cx="125.4" cy="441.59" r="1.4"/><circle cx="167.77" cy="441.19" r="1.4"/><circle cx="88.67" cy="442.08" r="1.4"/><circle cx="75.73" cy="442.8" r="1.4"/><circle cx="180.22" cy="439.64" r="1.4"/><circle cx="171.21" cy="439.86" r="1.4"/><circle cx="122.43" cy="443.05" r="1.4"/><circle cx="107.16" cy="437.71" r="1.4"/><circle cx="94.76" cy="440.94" r="1.4"/><circle cx="106.46" cy="438.1" r="1.4"/><circle cx="74.95" cy="442.38" r="1.4"/><circle cx="126.4" cy="443.25" r="1.4"/><circle cx="99.05" cy="442.45" r="1.4"/><circle cx="157.87" cy="439.99" r="1.4"/><circle cx="33.03" cy="441.81" r="1.4"/><circle cx="174.51" cy="443.07" r="1.4"/><circle cx="150.98" cy="443.36" r="1.4"/><circle cx="54.75" cy="441.8" r="1.4"/><circle cx="182.74" cy="442.66" r="1.4"/><circle cx="103.83" cy="440.73" r="1.4"/><circle cx="129.96" cy="440.74" r="1.4"/><circle cx="49.13" cy="441.37" r="1.4"/><circle cx="147.68" cy="442.62" r="1.4"/><circle cx="82.58" cy="441.02" r="1.4"/><circle cx="76.55" cy="441.18" r="1.4"/><circle cx="86.4" cy="442.98" r="1.4"/><circle cx="145.32" cy="442.94" r="1.4"/><circle cx="69.73" cy="443.1" r="1.4"/><circle cx="100.91" cy="439.73" r="1.4"/><circle cx="114.72" cy="441.28" r="1.4"/><circle cx="33.23" cy="443.02" r="1.4"/><circle cx="119.33" cy="441.29" r="1.4"/><circle cx="139.67" cy="441.83" r="1.4"/><circle cx="170.9" cy="441.68" r="1.4"/><circle cx="90.15" cy="440.32" r="1.4"/><circle cx="61.15" cy="440.91" r="1.4"/><circle cx="76.49" cy="443.04" r="1.4"/><circle cx="159.33" cy="442.74" r="1.4"/><circle cx="137.59" cy="441.88" r="1.4"/><circle cx="150.8" cy="442.72" r="1.4"/><circle cx="170.74" cy="441.96" r="1.4"/><circle cx="115.26" cy="441.59" r="1.4"/><circle cx="107.37" cy="442.83" r="1.4"/><circle cx="120.9" cy="442.38" r="1.4"/><circle cx="155.57" cy="442.07" r="1.4"/><circle cx="156.77" cy="442.79" r="1.4"/><circle cx="152.49" cy="443.16" r="1.4"/><circle cx="141.88" cy="443.01" r="1.4"/><circle cx="181.18" cy="440.25" r="1.4"/><circle cx="38.5" cy="443.37" r="1.4"/><circle cx="160.21" cy="442.84" r="1.4"/><circle cx="177.12" cy="440.53" r="1.4"/><circle cx="140.32" cy="442.28" r="1.4"/><circle cx="171.87" cy="442.14" r="1.4"/><circle cx="53.98" cy="441.79" r="1.4"/><circle cx="55.73" cy="442.06" r="1.4"/><circle cx="126.51" cy="442.47" r="1.4"/><circle cx="89.19" cy="443.14" r="1.4"/><circle cx="42.05" cy="440.92" r="1.4"/><circle cx="144.91" cy="442.46" r="1.4"/><circle cx="165.8" cy="441.97" r="1.4"/><circle cx="79.27" cy="441.79" r="1.4"/><circle cx="123.1" cy="438.62" r="1.4"/><circle cx="88.42" cy="443.09" r="1.4"/><circle cx="39.56" cy="443.02" r="1.4"/><circle cx="127.88" cy="442.3" r="1.4"/><circle cx="108.62" cy="441.22" r="1.4"/><circle cx="126.27" cy="442.02" r="1.4"/><circle cx="71.4" cy="441.93" r="1.4"/><circle cx="146.18" cy="442.9" r="1.4"/><circle cx="110.33" cy="442.41" r="1.4"/><circle cx="87.96" cy="442.3" r="1.4"/><circle cx="144.05" cy="442.02" r="1.4"/><circle cx="131.51" cy="440.51" r="1.4"/><circle cx="44.08" cy="442.96" r="1.4"/><circle cx="50.15" cy="442.63" r="1.4"/><circle cx="122.15" cy="443.1" r="1.4"/><circle cx="104.73" cy="439.26" r="1.4"/><circle cx="80.61" cy="443.26" r="1.4"/><circle cx="142.25" cy="442.93" r="1.4"/><circle cx="39.23" cy="440.48" r="1.4"/><circle cx="135.52" cy="439.34" r="1.4"/><circle cx="65.23" cy="439.34" r="1.4"/><circle cx="133.05" cy="439.78" r="1.4"/><circle cx="156.92" cy="441.59" r="1.4"/><circle cx="85.37" cy="441.22" r="1.4"/><circle cx="67.06" cy="442" r="1.4"/><circle cx="84.5" cy="440.98" r="1.4"/><circle cx="90.19" cy="440.9" r="1.4"/><circle cx="130.42" cy="440.51" r="1.4"/><circle cx="154.45" cy="439.78" r="1.4"/><circle cx="110.41" cy="441.79" r="1.4"/><circle cx="121.94" cy="440.42" r="1.4"/><circle cx="91.69" cy="441.92" r="1.4"/><circle cx="45.88" cy="442.07" r="1.4"/><circle cx="37.05" cy="443.12" r="1.4"/><circle cx="167.46" cy="440" r="1.4"/><circle cx="31.07" cy="442.99" r="1.4"/><circle cx="103.15" cy="441.23" r="1.4"/><circle cx="96.78" cy="441.6" r="1.4"/><circle cx="102.44" cy="442.45" r="1.4"/><circle cx="55.4" cy="442.71" r="1.4"/><circle cx="88.49" cy="440.26" r="1.4"/><circle cx="54.34" cy="440.65" r="1.4"/><circle cx="69.99" cy="443.19" r="1.4"/><circle cx="75.05" cy="442.21" r="1.4"/><circle cx="67.09" cy="442.89" r="1.4"/><circle cx="172.87" cy="443.34" r="1.4"/><circle cx="87.62" cy="440.54" r="1.4"/><circle cx="134.4" cy="442.22" r="1.4"/><circle cx="103.39" cy="442.44" r="1.4"/><circle cx="133.59" cy="443.06" r="1.4"/><circle cx="75.67" cy="441.9" r="1.4"/><circle cx="56.05" cy="440.49" r="1.4"/><circle cx="61.85" cy="441.95" r="1.4"/><circle cx="43" cy="443.17" r="1.4"/><circle cx="92.54" cy="441.5" r="1.4"/><circle cx="78.85" cy="443.08" r="1.4"/><circle cx="102.82" cy="442.72" r="1.4"/><circle cx="141.17" cy="440.18" r="1.4"/><circle cx="56.07" cy="443.22" r="1.4"/><circle cx="175.32" cy="440.38" r="1.4"/><circle cx="130.11" cy="438.4" r="1.4"/><circle cx="31.96" cy="441.07" r="1.4"/><circle cx="40.34" cy="443.02" r="1.4"/><circle cx="37.9" cy="441.35" r="1.4"/><circle cx="115.15" cy="440.95" r="1.4"/><circle cx="84.71" cy="443.24" r="1.4"/><circle cx="45.4" cy="439.49" r="1.4"/><circle cx="106.37" cy="441.52" r="1.4"/><circle cx="174.59" cy="441.97" r="1.4"/><circle cx="38.74" cy="442.9" r="1.4"/><circle cx="91.97" cy="441.95" r="1.4"/><circle cx="93.53" cy="442.83" r="1.4"/><circle cx="77.95" cy="442.87" r="1.4"/><circle cx="180.1" cy="443.22" r="1.4"/><circle cx="58.53" cy="441.35" r="1.4"/><circle cx="112.53" cy="443.29" r="1.4"/><circle cx="43.95" cy="443.02" r="1.4"/><circle cx="114.16" cy="442.51" r="1.4"/><circle cx="172.37" cy="440.14" r="1.4"/><circle cx="63.9" cy="441.09" r="1.4"/><circle cx="33.67" cy="441.13" r="1.4"/><circle cx="118.68" cy="442.82" r="1.4"/><circle cx="88.79" cy="441.1" r="1.4"/><circle cx="171.1" cy="441.09" r="1.4"/><circle cx="78.2" cy="439.8" r="1.4"/><circle cx="65.37" cy="442.21" r="1.4"/><circle cx="48.75" cy="443.07" r="1.4"/><circle cx="149.53" cy="442.6" r="1.4"/><circle cx="156.74" cy="442.99" r="1.4"/><circle cx="43.58" cy="442.41" r="1.4"/><circle cx="68.57" cy="441.55" r="1.4"/><circle cx="119.54" cy="442.32" r="1.4"/><circle cx="68.65" cy="440.48" r="1.4"/><circle cx="38.37" cy="442.21" r="1.4"/><circle cx="61.67" cy="442.96" r="1.4"/><circle cx="46.12" cy="441.49" r="1.4"/><circle cx="95.54" cy="442.08" r="1.4"/><circle cx="116.33" cy="440.28" r="1.4"/><circle cx="168.51" cy="441.46" r="1.4"/><circle cx="119.19" cy="440.58" r="1.4"/><circle cx="98.85" cy="442.19" r="1.4"/><circle cx="177.51" cy="440.7" r="1.4"/><circle cx="142.71" cy="442.92" r="1.4"/><circle cx="155.61" cy="441.87" r="1.4"/><circle cx="89.68" cy="442.89" r="1.4"/><circle cx="56.99" cy="442.85" r="1.4"/><circle cx="71.29" cy="442.65" r="1.4"/><circle cx="40.75" cy="441.91" r="1.4"/><circle cx="148.2" cy="442.95" r="1.4"/><circle cx="38.77" cy="443.23" r="1.4"/><circle cx="50.97" cy="440.89" r="1.4"/><circle cx="176.66" cy="440.26" r="1.4"/><circle cx="124.91" cy="443.15" r="1.4"/><circle cx="86.61" cy="441.27" r="1.4"/><circle cx="81.7" cy="440.72" r="1.4"/><circle cx="157.89" cy="443.19" r="1.4"/><circle cx="142.53" cy="441.34" r="1.4"/><circle cx="57.27" cy="442" r="1.4"/><circle cx="139.86" cy="438.88" r="1.4"/><circle cx="152.96" cy="441.81" r="1.4"/><circle cx="49.14" cy="441.56" r="1.4"/><circle cx="101.74" cy="439.29" r="1.4"/><circle cx="97.62" cy="440.17" r="1.4"/><circle cx="174.67" cy="442.15" r="1.4"/><circle cx="112.73" cy="440.72" r="1.4"/><circle cx="46.89" cy="442.88" r="1.4"/><circle cx="155.95" cy="442.82" r="1.4"/><circle cx="181.08" cy="443.08" r="1.4"/><circle cx="36.04" cy="441.34" r="1.4"/><circle cx="166.31" cy="442.32" r="1.4"/><circle cx="91.26" cy="443.05" r="1.4"/><circle cx="61.87" cy="441.81" r="1.4"/><circle cx="117.31" cy="441.3" r="1.4"/><circle cx="68.07" cy="440.76" r="1.4"/><circle cx="84.98" cy="443.34" r="1.4"/><circle cx="159.93" cy="437.64" r="1.4"/><circle cx="161.41" cy="441.89" r="1.4"/><circle cx="52.95" cy="442.01" r="1.4"/><circle cx="158.62" cy="442.84" r="1.4"/><circle cx="57.02" cy="443.37" r="1.4"/><circle cx="46.15" cy="442.52" r="1.4"/><circle cx="61.59" cy="439.14" r="1.4"/><circle cx="153.31" cy="442.02" r="1.4"/><circle cx="163.45" cy="440.65" r="1.4"/><circle cx="126.62" cy="442.79" r="1.4"/><circle cx="32.55" cy="441.53" r="1.4"/><circle cx="109.53" cy="442.29" r="1.4"/><circle cx="90.71" cy="442.73" r="1.4"/><circle cx="79.68" cy="441.67" r="1.4"/><circle cx="89.75" cy="443.1" r="1.4"/><circle cx="104.06" cy="442.81" r="1.4"/><circle cx="181.75" cy="441.44" r="1.4"/><circle cx="156.14" cy="440.64" r="1.4"/><circle cx="133.84" cy="441.97" r="1.4"/><circle cx="113.36" cy="442.82" r="1.4"/><circle cx="122.08" cy="441.57" r="1.4"/><circle cx="135.26" cy="441.76" r="1.4"/><circle cx="42.93" cy="443.17" r="1.4"/><circle cx="44.39" cy="441.75" r="1.4"/><circle cx="147.56" cy="441.3" r="1.4"/><circle cx="140.63" cy="441.77" r="1.4"/><circle cx="73.14" cy="439.03" r="1.4"/><circle cx="140.88" cy="440.35" r="1.4"/><circle cx="133.8" cy="441.92" r="1.4"/><circle cx="177.84" cy="440.93" r="1.4"/><circle cx="159.63" cy="441.54" r="1.4"/><circle cx="144.34" cy="442.34" r="1.4"/><circle cx="110.29" cy="442.51" r="1.4"/><circle cx="168.51" cy="443.02" r="1.4"/><circle cx="114.47" cy="437.92" r="1.4"/><circle cx="91.37" cy="441.38" r="1.4"/><circle cx="58.33" cy="443.36" r="1.4"/><circle cx="131.22" cy="439.81" r="1.4"/><circle cx="125.15" cy="440.77" r="1.4"/><circle cx="90.33" cy="441" r="1.4"/><circle cx="115.92" cy="441.44" r="1.4"/><circle cx="140.76" cy="440.43" r="1.4"/><circle cx="63.64" cy="440.39" r="1.4"/><circle cx="77.89" cy="443.09" r="1.4"/><circle cx="168.68" cy="440.59" r="1.4"/><circle cx="56.69" cy="441.08" r="1.4"/><circle cx="65.47" cy="440.84" r="1.4"/><circle cx="40.62" cy="439.91" r="1.4"/><circle cx="165.82" cy="441.86" r="1.4"/><circle cx="142.72" cy="441.55" r="1.4"/><circle cx="112.14" cy="442.34" r="1.4"/><circle cx="169.83" cy="442.87" r="1.4"/><circle cx="123.89" cy="441.84" r="1.4"/><circle cx="179.32" cy="443.21" r="1.4"/><circle cx="48.74" cy="442.93" r="1.4"/><circle cx="117.33" cy="442.37" r="1.4"/><circle cx="60.2" cy="442.62" r="1.4"/><circle cx="122.23" cy="441.52" r="1.4"/><circle cx="142.85" cy="440.93" r="1.4"/><circle cx="40.42" cy="439.57" r="1.4"/><circle cx="177.88" cy="443.03" r="1.4"/><circle cx="79.87" cy="441.68" r="1.4"/><circle cx="173.2" cy="441.04" r="1.4"/><circle cx="66.15" cy="442.13" r="1.4"/><circle cx="104.15" cy="439.73" r="1.4"/><circle cx="46.47" cy="442.99" r="1.4"/><circle cx="45.24" cy="442.29" r="1.4"/><circle cx="54.32" cy="442.69" r="1.4"/><circle cx="147.33" cy="442.77" r="1.4"/><circle cx="143.97" cy="441.92" r="1.4"/><circle cx="140.43" cy="440.06" r="1.4"/><circle cx="172.8" cy="440.66" r="1.4"/><circle cx="179.09" cy="442.64" r="1.4"/><circle cx="46.85" cy="442.81" r="1.4"/><circle cx="62.67" cy="442.95" r="1.4"/><circle cx="88.46" cy="440.44" r="1.4"/><circle cx="145" cy="442.61" r="1.4"/><circle cx="43.86" cy="441.32" r="1.4"/><circle cx="88.57" cy="441.95" r="1.4"/><circle cx="49.04" cy="441.79" r="1.4"/><circle cx="135.92" cy="442.28" r="1.4"/><circle cx="107.04" cy="438.65" r="1.4"/><circle cx="42.08" cy="442.27" r="1.4"/><circle cx="147.59" cy="443.09" r="1.4"/><circle cx="48.93" cy="441.73" r="1.4"/><circle cx="104.5" cy="441.38" r="1.4"/><circle cx="171.93" cy="440.77" r="1.4"/><circle cx="89.63" cy="442.8" r="1.4"/><circle cx="137.93" cy="441.09" r="1.4"/><circle cx="152.07" cy="441.89" r="1.4"/><circle cx="82.7" cy="442.62" r="1.4"/><circle cx="161.13" cy="442.75" r="1.4"/><circle cx="95.57" cy="443.32" r="1.4"/><circle cx="67.5" cy="443" r="1.4"/><circle cx="72.59" cy="442.72" r="1.4"/><circle cx="45.73" cy="437.6" r="1.4"/><circle cx="114.07" cy="442.58" r="1.4"/><circle cx="90.28" cy="442.59" r="1.4"/><circle cx="85.59" cy="443.04" r="1.4"/><circle cx="155.41" cy="439.95" r="1.4"/><circle cx="86.4" cy="443.29" r="1.4"/><circle cx="33.52" cy="443.39" r="1.4"/><circle cx="89.74" cy="441.16" r="1.4"/><circle cx="110.3" cy="442.06" r="1.4"/><circle cx="180.51" cy="442.93" r="1.4"/><circle cx="98.92" cy="442.56" r="1.4"/><circle cx="73.84" cy="443.25" r="1.4"/><circle cx="177.51" cy="442.47" r="1.4"/><circle cx="39.13" cy="441.17" r="1.4"/><circle cx="91.26" cy="443.02" r="1.4"/><circle cx="122.08" cy="441.27" r="1.4"/><circle cx="169.47" cy="441.64" r="1.4"/><circle cx="36.53" cy="441.12" r="1.4"/><circle cx="34.66" cy="443.14" r="1.4"/><circle cx="165.15" cy="441.32" r="1.4"/><circle cx="157.7" cy="441.7" r="1.4"/><circle cx="184.3" cy="442.4" r="1.4"/><circle cx="147.05" cy="442.51" r="1.4"/><circle cx="150.83" cy="442.68" r="1.4"/><circle cx="95.78" cy="437" r="1.4"/><circle cx="64.25" cy="442.27" r="1.4"/><circle cx="95.67" cy="443.1" r="1.4"/><circle cx="74.96" cy="441.14" r="1.4"/><circle cx="133.28" cy="442.52" r="1.4"/><circle cx="101.23" cy="442.54" r="1.4"/><circle cx="42.34" cy="440.23" r="1.4"/><circle cx="166.85" cy="440.46" r="1.4"/><circle cx="61.16" cy="439.62" r="1.4"/><circle cx="178.43" cy="442.96" r="1.4"/><circle cx="122.9" cy="442.42" r="1.4"/><circle cx="172.2" cy="442.27" r="1.4"/><circle cx="174.87" cy="442.13" r="1.4"/><circle cx="96.83" cy="443.15" r="1.4"/><circle cx="71.92" cy="443.35" r="1.4"/><circle cx="149.95" cy="441.44" r="1.4"/><circle cx="54.32" cy="437.93" r="1.4"/><circle cx="138.72" cy="442.77" r="1.4"/><circle cx="44.82" cy="441.17" r="1.4"/><circle cx="88.54" cy="441.53" r="1.4"/><circle cx="87.58" cy="440.75" r="1.4"/><circle cx="179.21" cy="443.03" r="1.4"/><circle cx="67.97" cy="441.96" r="1.4"/><circle cx="114.68" cy="442.74" r="1.4"/><circle cx="143.24" cy="441.85" r="1.4"/><circle cx="139.3" cy="441.67" r="1.4"/><circle cx="32.25" cy="443.12" r="1.4"/><circle cx="108.36" cy="441.31" r="1.4"/><circle cx="124.68" cy="443.22" r="1.4"/><circle cx="107.81" cy="442.74" r="1.4"/><circle cx="36.88" cy="442" r="1.4"/><circle cx="34.28" cy="442.17" r="1.4"/><circle cx="76.69" cy="440.59" r="1.4"/><circle cx="172.91" cy="442.49" r="1.4"/><circle cx="87.85" cy="440.25" r="1.4"/><circle cx="174.83" cy="442.8" r="1.4"/><circle cx="176.72" cy="441.69" r="1.4"/><circle cx="56.57" cy="443.27" r="1.4"/><circle cx="174" cy="441.44" r="1.4"/><circle cx="143.97" cy="442.37" r="1.4"/><circle cx="112.14" cy="439.87" r="1.4"/><circle cx="76.91" cy="440.44" r="1.4"/><circle cx="115.66" cy="442.87" r="1.4"/><circle cx="84.86" cy="442.43" r="1.4"/><circle cx="106.85" cy="442.14" r="1.4"/><circle cx="100.66" cy="442.84" r="1.4"/><circle cx="40.18" cy="441.82" r="1.4"/><circle cx="53.06" cy="442.43" r="1.4"/><circle cx="179.47" cy="443.26" r="1.4"/><circle cx="151.26" cy="441.78" r="1.4"/><circle cx="144.73" cy="443.11" r="1.4"/><circle cx="127.02" cy="439.6" r="1.4"/><circle cx="90.63" cy="442.35" r="1.4"/><circle cx="71.42" cy="442.3" r="1.4"/><circle cx="165.5" cy="439.39" r="1.4"/><circle cx="58.15" cy="441.77" r="1.4"/><circle cx="52.07" cy="440.25" r="1.4"/><circle cx="117.12" cy="442.33" r="1.4"/><circle cx="32.48" cy="439.76" r="1.4"/><circle cx="106.86" cy="442.38" r="1.4"/><circle cx="164.7" cy="440.78" r="1.4"/><circle cx="49.02" cy="442.73" r="1.4"/><circle cx="141.66" cy="441.27" r="1.4"/><circle cx="64.99" cy="441.6" r="1.4"/><circle cx="176.63" cy="442.83" r="1.4"/><circle cx="135.97" cy="442.93" r="1.4"/><circle cx="45.24" cy="441.34" r="1.4"/><circle cx="130.57" cy="442.48" r="1.4"/><circle cx="167.89" cy="443.26" r="1.4"/><circle cx="129.69" cy="442.64" r="1.4"/><circle cx="160.46" cy="440.93" r="1.4"/><circle cx="70.69" cy="441.07" r="1.4"/><circle cx="76.83" cy="439.98" r="1.4"/><circle cx="110.14" cy="443.37" r="1.4"/><circle cx="169.41" cy="442.25" r="1.4"/><circle cx="64.21" cy="443.15" r="1.4"/><circle cx="71.41" cy="442.1" r="1.4"/><circle cx="44.53" cy="442.95" r="1.4"/><circle cx="85.13" cy="441.53" r="1.4"/><circle cx="126.39" cy="442.38" r="1.4"/><circle cx="130.84" cy="442.9" r="1.4"/><circle cx="106.38" cy="442.41" r="1.4"/><circle cx="136.45" cy="440.9" r="1.4"/><circle cx="170.97" cy="442.54" r="1.4"/><circle cx="53.26" cy="443.14" r="1.4"/><circle cx="113.27" cy="441.05" r="1.4"/><circle cx="169.13" cy="440.59" r="1.4"/><circle cx="95.39" cy="442.38" r="1.4"/><circle cx="151.35" cy="442.53" r="1.4"/><circle cx="47.55" cy="441.95" r="1.4"/><circle cx="70.77" cy="440.74" r="1.4"/><circle cx="71.6" cy="440.08" r="1.4"/><circle cx="127.58" cy="440.18" r="1.4"/><circle cx="48.87" cy="439.48" r="1.4"/><circle cx="149.14" cy="442.91" r="1.4"/><circle cx="127.99" cy="442.59" r="1.4"/><circle cx="160.56" cy="442.84" r="1.4"/><circle cx="180.17" cy="443.08" r="1.4"/><circle cx="89.94" cy="441.27" r="1.4"/><circle cx="71" cy="440.94" r="1.4"/><circle cx="93.66" cy="442.96" r="1.4"/><circle cx="40.89" cy="442.6" r="1.4"/><circle cx="141" cy="439.94" r="1.4"/><circle cx="40.62" cy="441.22" r="1.4"/><circle cx="77.25" cy="441.34" r="1.4"/><circle cx="152.31" cy="439" r="1.4"/><circle cx="168.54" cy="442.45" r="1.4"/><circle cx="94.86" cy="443.36" r="1.4"/><circle cx="65.71" cy="440.82" r="1.4"/><circle cx="75.5" cy="442.96" r="1.4"/><circle cx="47.55" cy="438.7" r="1.4"/><circle cx="176.16" cy="443.06" r="1.4"/><circle cx="102.53" cy="440.63" r="1.4"/><circle cx="48.62" cy="441.31" r="1.4"/><circle cx="113.46" cy="438.22" r="1.4"/><circle cx="114.28" cy="440.4" r="1.4"/><circle cx="98.13" cy="443.04" r="1.4"/><circle cx="180.3" cy="440.86" r="1.4"/><circle cx="96.66" cy="442.78" r="1.4"/><circle cx="171.9" cy="441.04" r="1.4"/><circle cx="89.58" cy="440.37" r="1.4"/><circle cx="80.98" cy="440.02" r="1.4"/><circle cx="155.43" cy="442.31" r="1.4"/><circle cx="39.22" cy="443.2" r="1.4"/><circle cx="175.09" cy="441.26" r="1.4"/><circle cx="171.8" cy="442.93" r="1.4"/><circle cx="119.08" cy="441.74" r="1.4"/><circle cx="145.19" cy="443.4" r="1.4"/><circle cx="70.32" cy="440.04" r="1.4"/><circle cx="123.82" cy="442.77" r="1.4"/><circle cx="51.59" cy="442.49" r="1.4"/><circle cx="142.87" cy="440.41" r="1.4"/><circle cx="46.75" cy="442.32" r="1.4"/><circle cx="56.73" cy="443.38" r="1.4"/><circle cx="44.77" cy="440.74" r="1.4"/><circle cx="162.55" cy="442.47" r="1.4"/><circle cx="56.04" cy="443.1" r="1.4"/><circle cx="120.06" cy="442.49" r="1.4"/><circle cx="69.65" cy="442.99" r="1.4"/><circle cx="141.58" cy="442.88" r="1.4"/><circle cx="49.77" cy="443.24" r="1.4"/><circle cx="121.8" cy="441.57" r="1.4"/><circle cx="129.07" cy="439.29" r="1.4"/><circle cx="172.09" cy="443.11" r="1.4"/><circle cx="74.28" cy="441.32" r="1.4"/><circle cx="51.38" cy="439.81" r="1.4"/><circle cx="95.46" cy="438.63" r="1.4"/><circle cx="50.68" cy="440.57" r="1.4"/><circle cx="131.52" cy="443.26" r="1.4"/><circle cx="31.16" cy="440.13" r="1.4"/><circle cx="175.8" cy="441.88" r="1.4"/><circle cx="132.48" cy="439.73" r="1.4"/><circle cx="95.57" cy="441.81" r="1.4"/><circle cx="83.15" cy="440.81" r="1.4"/><circle cx="143.3" cy="440.21" r="1.4"/><circle cx="125.28" cy="443.3" r="1.4"/><circle cx="153.15" cy="442.12" r="1.4"/><circle cx="31.19" cy="441.41" r="1.4"/><circle cx="152.35" cy="442.88" r="1.4"/><circle cx="37.62" cy="439.57" r="1.4"/><circle cx="113.13" cy="442.39" r="1.4"/><circle cx="62.08" cy="443.26" r="1.4"/><circle cx="180.51" cy="442.5" r="1.4"/><circle cx="158.23" cy="442.21" r="1.4"/><circle cx="130.89" cy="441.21" r="1.4"/><circle cx="66.14" cy="441.47" r="1.4"/><circle cx="73.01" cy="440.44" r="1.4"/><circle cx="120.22" cy="443.21" r="1.4"/><circle cx="145.08" cy="441.24" r="1.4"/><circle cx="78.02" cy="443.35" r="1.4"/><circle cx="143.83" cy="441.5" r="1.4"/><circle cx="147.26" cy="441.44" r="1.4"/><circle cx="99.21" cy="443.12" r="1.4"/><circle cx="70.97" cy="442.73" r="1.4"/><circle cx="160" cy="442.98" r="1.4"/><circle cx="33.22" cy="442.85" r="1.4"/><circle cx="148.56" cy="441.64" r="1.4"/><circle cx="98.28" cy="442.01" r="1.4"/><circle cx="154.21" cy="440.96" r="1.4"/><circle cx="34.81" cy="443.04" r="1.4"/><circle cx="153.03" cy="443.09" r="1.4"/><circle cx="159.1" cy="440.58" r="1.4"/><circle cx="125.23" cy="442.56" r="1.4"/><circle cx="125.73" cy="439.54" r="1.4"/><circle cx="34.11" cy="438.82" r="1.4"/><circle cx="61.89" cy="439.34" r="1.4"/><circle cx="41.14" cy="442.9" r="1.4"/><circle cx="87.68" cy="442.61" r="1.4"/><circle cx="44.69" cy="443.37" r="1.4"/><circle cx="96.78" cy="443.24" r="1.4"/><circle cx="77.04" cy="443.13" r="1.4"/><circle cx="56.48" cy="441.41" r="1.4"/><circle cx="177.3" cy="440.96" r="1.4"/><circle cx="64.3" cy="441.49" r="1.4"/><circle cx="92.78" cy="441.42" r="1.4"/><circle cx="35.04" cy="442.77" r="1.4"/><circle cx="100.93" cy="443.05" r="1.4"/><circle cx="163.01" cy="440.3" r="1.4"/><circle cx="135.8" cy="443.07" r="1.4"/><circle cx="171.74" cy="439.31" r="1.4"/><circle cx="152.69" cy="440.83" r="1.4"/><circle cx="132.01" cy="441.9" r="1.4"/><circle cx="166.45" cy="442.9" r="1.4"/><circle cx="60.27" cy="441.26" r="1.4"/><circle cx="81.25" cy="443.39" r="1.4"/><circle cx="149.06" cy="440.33" r="1.4"/><circle cx="60.47" cy="439.6" r="1.4"/><circle cx="87.11" cy="442.59" r="1.4"/><circle cx="45.53" cy="441.89" r="1.4"/><circle cx="53.08" cy="442.22" r="1.4"/><circle cx="75.2" cy="438.79" r="1.4"/><circle cx="53.85" cy="435.82" r="1.4"/><circle cx="47.1" cy="438.8" r="1.4"/><circle cx="115.39" cy="432.05" r="1.4"/><circle cx="158.98" cy="436.53" r="1.4"/><circle cx="172.86" cy="438.27" r="1.4"/><circle cx="54.08" cy="438.79" r="1.4"/><circle cx="39.97" cy="434.57" r="1.4"/><circle cx="147.16" cy="435.45" r="1.4"/><circle cx="154.27" cy="435.64" r="1.4"/><circle cx="171.98" cy="434.53" r="1.4"/><circle cx="113.39" cy="437.63" r="1.4"/><circle cx="96.45" cy="435.72" r="1.4"/><circle cx="157.26" cy="437.21" r="1.4"/><circle cx="76.22" cy="433.05" r="1.4"/><circle cx="41.88" cy="435.03" r="1.4"/><circle cx="64.7" cy="434.12" r="1.4"/><circle cx="122.21" cy="438.17" r="1.4"/><circle cx="143.06" cy="435.95" r="1.4"/><circle cx="80.21" cy="432.76" r="1.4"/><circle cx="150.5" cy="436.64" r="1.4"/><circle cx="135" cy="437.96" r="1.4"/><circle cx="110.62" cy="438.25" r="1.4"/><circle cx="129.33" cy="432.34" r="1.4"/><circle cx="128.65" cy="438.55" r="1.4"/><circle cx="109.74" cy="435.51" r="1.4"/><circle cx="98.99" cy="437.77" r="1.4"/><circle cx="73.69" cy="435.65" r="1.4"/><circle cx="41.91" cy="434.06" r="1.4"/><circle cx="68.37" cy="436.78" r="1.4"/><circle cx="44.94" cy="436.69" r="1.4"/><circle cx="173.88" cy="436.77" r="1.4"/><circle cx="45.72" cy="436.39" r="1.4"/><circle cx="176.02" cy="438.22" r="1.4"/><circle cx="83.55" cy="437.36" r="1.4"/><circle cx="135.62" cy="435.57" r="1.4"/><circle cx="46.08" cy="432.72" r="1.4"/><circle cx="81.35" cy="433.97" r="1.4"/><circle cx="100.49" cy="432.66" r="1.4"/><circle cx="39.92" cy="437.22" r="1.4"/><circle cx="74.83" cy="436.96" r="1.4"/><circle cx="157.13" cy="435.28" r="1.4"/><circle cx="84.21" cy="435.24" r="1.4"/><circle cx="160.79" cy="434.8" r="1.4"/><circle cx="100.27" cy="434.18" r="1.4"/><circle cx="125.39" cy="435.96" r="1.4"/><circle cx="96.42" cy="437.91" r="1.4"/><circle cx="98.38" cy="432.6" r="1.4"/><circle cx="77.96" cy="436.25" r="1.4"/><circle cx="123.58" cy="434.65" r="1.4"/><circle cx="57.91" cy="435.68" r="1.4"/><circle cx="143.62" cy="438.55" r="1.4"/><circle cx="47.69" cy="433.48" r="1.4"/><circle cx="169.91" cy="438.36" r="1.4"/><circle cx="43.5" cy="434.39" r="1.4"/><circle cx="74.66" cy="434.18" r="1.4"/><circle cx="36.25" cy="435.6" r="1.4"/><circle cx="55.81" cy="436.48" r="1.4"/><circle cx="137.42" cy="435.22" r="1.4"/><circle cx="161.96" cy="432.87" r="1.4"/><circle cx="126.05" cy="432.83" r="1.4"/><circle cx="58.22" cy="435.47" r="1.4"/><circle cx="80.04" cy="434.41" r="1.4"/><circle cx="48.08" cy="432.56" r="1.4"/><circle cx="87.85" cy="433.28" r="1.4"/><circle cx="175.68" cy="432.17" r="1.4"/><circle cx="90.88" cy="432.76" r="1.4"/><circle cx="183.99" cy="437.92" r="1.4"/><circle cx="145.7" cy="433.68" r="1.4"/><circle cx="101.24" cy="436.87" r="1.4"/><circle cx="57.6" cy="435.92" r="1.4"/><circle cx="174" cy="435.99" r="1.4"/><circle cx="70.19" cy="434.45" r="1.4"/><circle cx="98.11" cy="434.49" r="1.4"/><circle cx="100.74" cy="436.81" r="1.4"/><circle cx="36.45" cy="423.15" r="1.4"/><circle cx="132.12" cy="429.45" r="1.4"/><circle cx="107.62" cy="424.58" r="1.4"/><circle cx="108.27" cy="411.78" r="1.4"/><circle cx="150.48" cy="428.25" r="1.4"/><circle cx="82.98" cy="425.05" r="1.4"/><circle cx="55.91" cy="415.15" r="1.4"/><circle cx="37.97" cy="428.51" r="1.4"/><circle cx="72.95" cy="426.93" r="1.4"/><circle cx="38" cy="430.88" r="1.4"/><circle cx="182.77" cy="412.85" r="1.4"/><circle cx="64.92" cy="428.15" r="1.4"/><circle cx="35.98" cy="431.56" r="1.4"/><circle cx="60.44" cy="405.21" r="1.4"/><circle cx="78.84" cy="430.14" r="1.4"/><circle cx="169" cy="258.4" r="1.4"/><circle cx="168" cy="304.8" r="1.4"/><circle cx="130" cy="313.6" r="1.4"/><circle cx="167.6" cy="318.4" r="1.4"/><circle cx="166.6" cy="334.4" r="1.4"/><circle cx="151.6" cy="354" r="1.4"/><circle cx="167" cy="353.6" r="1.4"/><circle cx="139" cy="367" r="1.4"/><circle cx="159.6" cy="366.4" r="1.4"/><circle cx="137" cy="374.6" r="1.4"/><circle cx="138" cy="378" r="1.4"/><circle cx="119.6" cy="389.6" r="1.4"/><circle cx="122" cy="393" r="1.4"/><circle cx="108.6" cy="394" r="1.4"/><circle cx="132" cy="392.4" r="1.4"/><circle cx="156.4" cy="390.4" r="1.4"/><circle cx="164.4" cy="390" r="1.4"/><circle cx="174" cy="395.4" r="1.4"/><circle cx="148" cy="400.6" r="1.4"/><circle cx="107.6" cy="405.6" r="1.4"/><circle cx="120.6" cy="406.4" r="1.4"/><circle cx="130.6" cy="407" r="1.4"/><circle cx="153" cy="408.4" r="1.4"/><circle cx="166" cy="406.6" r="1.4"/><circle cx="170" cy="404.4" r="1.4"/><circle cx="179.4" cy="410" r="1.4"/><circle cx="117.4" cy="410.4" r="1.4"/><circle cx="137" cy="410.6" r="1.4"/><circle cx="114.4" cy="414.4" r="1.4"/><circle cx="111.4" cy="416.6" r="1.4"/><circle cx="136" cy="415" r="1.4"/><circle cx="161" cy="416" r="1.4"/><circle cx="168" cy="415" r="1.4"/><circle cx="174.4" cy="413.4" r="1.4"/><circle cx="151.6" cy="419" r="1.4"/><circle cx="124" cy="417" r="1.4"/><circle cx="183" cy="422" r="1.4"/><circle cx="181.6" cy="427.4" r="1.4"/><circle cx="68.8" cy="389" r="1.4"/><circle cx="39.9" cy="411.4" r="1.4"/><circle cx="40.3" cy="412.6" r="1.4"/><circle cx="39.3" cy="422.3" r="1.4"/><circle cx="35.2" cy="425" r="1.4"/><circle cx="43.2" cy="425.7" r="1.4"/><circle cx="33.8" cy="430.4" r="1.4"/><circle cx="37.8" cy="432.3" r="1.4"/><circle cx="57.8" cy="426.4" r="1.4"/><circle cx="58.6" cy="422.6" r="1.4"/><circle cx="61.2" cy="422.6" r="1.4"/><circle cx="63.7" cy="422.6" r="1.4"/><circle cx="68.1" cy="423" r="1.4"/><circle cx="68.1" cy="424.2" r="1.4"/><circle cx="77.3" cy="415.3" r="1.4"/><circle cx="79" cy="420.1" r="1.4"/><circle cx="85.3" cy="406" r="1.4"/><circle cx="86" cy="405.3" r="1.4"/><circle cx="84.1" cy="411.8" r="1.4"/><circle cx="86.3" cy="415.3" r="1.4"/><circle cx="88.8" cy="409.2" r="1.4"/><circle cx="88.8" cy="412.4" r="1.4"/><circle cx="90.3" cy="416.5" r="1.4"/><circle cx="92.4" cy="417.7" r="1.4"/><circle cx="90.4" cy="422.6" r="1.4"/><circle cx="87.5" cy="424.5" r="1.4"/><circle cx="90.7" cy="428.2" r="1.4"/><circle cx="85.3" cy="428.9" r="1.4"/><circle cx="94.3" cy="420.9" r="1.4"/><circle cx="97.3" cy="422.3" r="1.4"/><circle cx="100.2" cy="426.4" r="1.4"/><circle cx="99.5" cy="428.2" r="1.4"/><circle cx="105.7" cy="424.1" r="1.4"/><circle cx="107.5" cy="405.5" r="1.4"/><circle cx="108.5" cy="393.9" r="1.4"/><circle cx="111.4" cy="416.8" r="1.4"/><circle cx="114.3" cy="414.3" r="1.4"/><circle cx="117.3" cy="410.2" r="1.4"/><circle cx="120.6" cy="406.3" r="1.4"/><circle cx="119.9" cy="389.5" r="1.4"/><circle cx="122.1" cy="392.8" r="1.4"/><circle cx="118.4" cy="425.3" r="1.4"/><circle cx="122.1" cy="428.2" r="1.4"/><circle cx="123.5" cy="417.2" r="1.4"/><circle cx="123.5" cy="423.8" r="1.4"/><circle cx="128" cy="398" r="1.4"/><circle cx="131" cy="402" r="1.4"/><circle cx="145" cy="398" r="1.4"/><circle cx="150" cy="395" r="1.4"/><circle cx="158" cy="382" r="1.4"/><circle cx="162" cy="379" r="1.4"/><circle cx="170" cy="386" r="1.4"/><circle cx="176" cy="392" r="1.4"/><circle cx="180" cy="400" r="1.4"/><circle cx="184" cy="415" r="1.4"/><circle cx="140" cy="405" r="1.4"/><circle cx="145" cy="420" r="1.4"/><circle cx="155" cy="425" r="1.4"/><circle cx="160" cy="428" r="1.4"/><circle cx="172" cy="420" r="1.4"/><circle cx="178" cy="425" r="1.4"/><circle cx="130" cy="420" r="1.4"/><circle cx="126" cy="425" r="1.4"/><circle cx="161" cy="416" r="1.4"/><circle cx="163.5" cy="418" r="1.4"/><circle cx="166" cy="414" r="1.4"/><circle cx="168" cy="417" r="1.4"/><circle cx="170" cy="420" r="1.4"/><circle cx="162" cy="423" r="1.4"/><circle cx="165" cy="426" r="1.4"/><circle cx="167.5" cy="424" r="1.4"/><circle cx="171" cy="427" r="1.4"/><circle cx="173" cy="418" r="1.4"/><circle cx="158" cy="420" r="1.4"/><circle cx="176" cy="421" r="1.4"/></g>
<rect x="24.4" y="249.4" width="167.6" height="203" fill="none" stroke="#8a8a8a" stroke-width="1"/>
<line x1="22.1" y1="443.4" x2="24.4" y2="443.4" stroke="#333333" stroke-width="1.1"/>
<text x="20.1" y="446.3" font-size="9.0" text-anchor="end" fill="#111111" stroke="#111111" stroke-width="0.2">0</text>
<line x1="22.1" y1="392.73" x2="24.4" y2="392.73" stroke="#333333" stroke-width="1.1"/>
<text x="20.1" y="395.63" font-size="9.0" text-anchor="end" fill="#111111" stroke="#111111" stroke-width="0.2">10</text>
<line x1="22.1" y1="342.06" x2="24.4" y2="342.06" stroke="#333333" stroke-width="1.1"/>
<text x="20.1" y="344.96" font-size="9.0" text-anchor="end" fill="#111111" stroke="#111111" stroke-width="0.2">20</text>
<line x1="22.1" y1="291.39" x2="24.4" y2="291.39" stroke="#333333" stroke-width="1.1"/>
<text x="20.1" y="294.29" font-size="9.0" text-anchor="end" fill="#111111" stroke="#111111" stroke-width="0.2">30</text>
<line x1="31" y1="452.4" x2="31" y2="454.7" stroke="#333333" stroke-width="1.1"/>
<text x="31" y="464" font-size="9.0" text-anchor="middle" fill="#111111" stroke="#111111" stroke-width="0.2">20</text>
<line x1="62" y1="452.4" x2="62" y2="454.7" stroke="#333333" stroke-width="1.1"/>
<text x="62" y="464" font-size="9.0" text-anchor="middle" fill="#111111" stroke="#111111" stroke-width="0.2">30</text>
<line x1="93" y1="452.4" x2="93" y2="454.7" stroke="#333333" stroke-width="1.1"/>
<text x="93" y="464" font-size="9.0" text-anchor="middle" fill="#111111" stroke="#111111" stroke-width="0.2">40</text>
<line x1="124" y1="452.4" x2="124" y2="454.7" stroke="#333333" stroke-width="1.1"/>
<text x="124" y="464" font-size="9.0" text-anchor="middle" fill="#111111" stroke="#111111" stroke-width="0.2">50</text>
<line x1="155" y1="452.4" x2="155" y2="454.7" stroke="#333333" stroke-width="1.1"/>
<text x="155" y="464" font-size="9.0" text-anchor="middle" fill="#111111" stroke="#111111" stroke-width="0.2">60</text>
<line x1="186" y1="452.4" x2="186" y2="454.7" stroke="#333333" stroke-width="1.1"/>
<text x="186" y="464" font-size="9.0" text-anchor="middle" fill="#111111" stroke="#111111" stroke-width="0.2">70</text>
<text x="108.2" y="474" font-size="9.3" text-anchor="middle" fill="#111111" stroke="#111111" stroke-width="0.2">Age</text>
<text transform="translate(7.7,350.9) rotate(-90) scale(1 1.0)" font-size="9.3" text-anchor="middle" fill="#111111" stroke="#111111" stroke-width="0.2">% EMRA cells in CD4+ T cells</text>
<text x="-0.6" y="247.1" font-size="16" text-anchor="start" fill="#000" font-weight="bold">e</text>
<rect x="231" y="249.4" width="161" height="203" fill="#fff" stroke="none" stroke-width="1"/>
<line x1="252.7" y1="249.4" x2="252.7" y2="452.4" stroke="#f5f5f5" stroke-width="0.8"/>
<line x1="282.1" y1="249.4" x2="282.1" y2="452.4" stroke="#f5f5f5" stroke-width="0.8"/>
<line x1="311.5" y1="249.4" x2="311.5" y2="452.4" stroke="#f5f5f5" stroke-width="0.8"/>
<line x1="340.9" y1="249.4" x2="340.9" y2="452.4" stroke="#f5f5f5" stroke-width="0.8"/>
<line x1="370.3" y1="249.4" x2="370.3" y2="452.4" stroke="#f5f5f5" stroke-width="0.8"/>
<line x1="231" y1="436.9" x2="392" y2="436.9" stroke="#f5f5f5" stroke-width="0.8"/>
<line x1="231" y1="360.3" x2="392" y2="360.3" stroke="#f5f5f5" stroke-width="0.8"/>
<line x1="231" y1="283.7" x2="392" y2="283.7" stroke="#f5f5f5" stroke-width="0.8"/>
<line x1="238" y1="249.4" x2="238" y2="452.4" stroke="#ebebeb" stroke-width="1"/>
<line x1="267.4" y1="249.4" x2="267.4" y2="452.4" stroke="#ebebeb" stroke-width="1"/>
<line x1="296.8" y1="249.4" x2="296.8" y2="452.4" stroke="#ebebeb" stroke-width="1"/>
<line x1="326.2" y1="249.4" x2="326.2" y2="452.4" stroke="#ebebeb" stroke-width="1"/>
<line x1="355.6" y1="249.4" x2="355.6" y2="452.4" stroke="#ebebeb" stroke-width="1"/>
<line x1="385" y1="249.4" x2="385" y2="452.4" stroke="#ebebeb" stroke-width="1"/>
<line x1="231" y1="398.6" x2="392" y2="398.6" stroke="#ebebeb" stroke-width="1"/>
<line x1="231" y1="322" x2="392" y2="322" stroke="#ebebeb" stroke-width="1"/>
<g fill="#2171b5"><circle cx="268" cy="427.98" r="1.65"/><circle cx="324.89" cy="418.59" r="1.65"/><circle cx="239.24" cy="424.47" r="1.65"/><circle cx="382.83" cy="422.58" r="1.65"/><circle cx="357.58" cy="429.83" r="1.65"/><circle cx="326.29" cy="412.68" r="1.65"/><circle cx="309.36" cy="417.65" r="1.65"/><circle cx="345.33" cy="430.73" r="1.65"/><circle cx="276.89" cy="401.77" r="1.65"/><circle cx="339.21" cy="409.42" r="1.65"/><circle cx="338.49" cy="402.03" r="1.65"/><circle cx="297.67" cy="422.14" r="1.65"/><circle cx="364.26" cy="408.43" r="1.65"/><circle cx="378.01" cy="410.77" r="1.65"/><circle cx="325.03" cy="419.75" r="1.65"/><circle cx="283.99" cy="407.94" r="1.65"/><circle cx="318.58" cy="399.07" r="1.65"/><circle cx="360.71" cy="424.02" r="1.65"/><circle cx="331.87" cy="400.02" r="1.65"/><circle cx="368.35" cy="389.69" r="1.65"/><circle cx="338.44" cy="408.41" r="1.65"/><circle cx="274.58" cy="403.79" r="1.65"/><circle cx="360.33" cy="408.57" r="1.65"/><circle cx="292.65" cy="418.67" r="1.65"/><circle cx="275.84" cy="418.28" r="1.65"/><circle cx="323.18" cy="371.75" r="1.65"/><circle cx="281.12" cy="399.44" r="1.65"/><circle cx="383.29" cy="435.73" r="1.65"/><circle cx="246.67" cy="426.4" r="1.65"/><circle cx="292.28" cy="419.74" r="1.65"/><circle cx="256.88" cy="409.04" r="1.65"/><circle cx="376.93" cy="407.44" r="1.65"/><circle cx="287.88" cy="428.6" r="1.65"/><circle cx="320.31" cy="411.93" r="1.65"/><circle cx="324.04" cy="400.05" r="1.65"/><circle cx="339.44" cy="419.78" r="1.65"/><circle cx="276.86" cy="409" r="1.65"/><circle cx="239.07" cy="427.61" r="1.65"/><circle cx="317.93" cy="397.49" r="1.65"/><circle cx="244.6" cy="424.62" r="1.65"/><circle cx="300.87" cy="421.24" r="1.65"/><circle cx="342.19" cy="399.97" r="1.65"/><circle cx="332.6" cy="404.35" r="1.65"/><circle cx="319.86" cy="417.91" r="1.65"/><circle cx="285.87" cy="422.19" r="1.65"/><circle cx="276.76" cy="412.01" r="1.65"/><circle cx="347.52" cy="395.87" r="1.65"/><circle cx="278.13" cy="418.11" r="1.65"/><circle cx="352.45" cy="414.32" r="1.65"/><circle cx="336" cy="405.69" r="1.65"/><circle cx="279.84" cy="427.25" r="1.65"/><circle cx="360.58" cy="390.46" r="1.65"/><circle cx="281.95" cy="429.21" r="1.65"/><circle cx="266.21" cy="433.25" r="1.65"/><circle cx="310.33" cy="408.29" r="1.65"/><circle cx="260.55" cy="409.66" r="1.65"/><circle cx="352.99" cy="426.95" r="1.65"/><circle cx="253.39" cy="432.31" r="1.65"/><circle cx="350.89" cy="416.3" r="1.65"/><circle cx="294.01" cy="408.04" r="1.65"/><circle cx="370.87" cy="414.39" r="1.65"/><circle cx="364.44" cy="413.86" r="1.65"/><circle cx="296.15" cy="393.15" r="1.65"/><circle cx="343.36" cy="422.54" r="1.65"/><circle cx="330.6" cy="424.15" r="1.65"/><circle cx="266.55" cy="422.54" r="1.65"/><circle cx="319.25" cy="365.14" r="1.65"/><circle cx="335.33" cy="388.75" r="1.65"/><circle cx="367.06" cy="356.4" r="1.65"/><circle cx="258.97" cy="427.92" r="1.65"/><circle cx="330.59" cy="426.26" r="1.65"/><circle cx="322.82" cy="417.63" r="1.65"/><circle cx="270.02" cy="414.91" r="1.65"/><circle cx="284.12" cy="426.34" r="1.65"/><circle cx="311.08" cy="413.48" r="1.65"/><circle cx="371.06" cy="421.09" r="1.65"/><circle cx="355.54" cy="393.91" r="1.65"/><circle cx="243.38" cy="425.52" r="1.65"/><circle cx="272.27" cy="428.39" r="1.65"/><circle cx="348.18" cy="400.03" r="1.65"/><circle cx="253.02" cy="422.25" r="1.65"/><circle cx="360.41" cy="411.04" r="1.65"/><circle cx="306.21" cy="420.42" r="1.65"/><circle cx="328.13" cy="403.96" r="1.65"/><circle cx="285.42" cy="415.93" r="1.65"/><circle cx="314.23" cy="405.43" r="1.65"/><circle cx="288.24" cy="413.1" r="1.65"/><circle cx="321.64" cy="411.76" r="1.65"/><circle cx="288.24" cy="414.25" r="1.65"/><circle cx="287.1" cy="429.86" r="1.65"/><circle cx="336.75" cy="429.5" r="1.65"/><circle cx="268.99" cy="415.12" r="1.65"/><circle cx="335.56" cy="401.14" r="1.65"/><circle cx="364.39" cy="408.21" r="1.65"/><circle cx="287.36" cy="404.11" r="1.65"/><circle cx="300.56" cy="427.22" r="1.65"/><circle cx="353.93" cy="426.49" r="1.65"/><circle cx="331.3" cy="434.21" r="1.65"/><circle cx="315.49" cy="398.42" r="1.65"/><circle cx="347.84" cy="398.02" r="1.65"/><circle cx="249.47" cy="400.42" r="1.65"/><circle cx="252.29" cy="426.74" r="1.65"/><circle cx="332.22" cy="396.39" r="1.65"/><circle cx="351.66" cy="359.74" r="1.65"/><circle cx="307.59" cy="417.98" r="1.65"/><circle cx="373.09" cy="382.14" r="1.65"/><circle cx="315.51" cy="411.69" r="1.65"/><circle cx="269.67" cy="425.98" r="1.65"/><circle cx="344.6" cy="423" r="1.65"/><circle cx="283.9" cy="413.43" r="1.65"/><circle cx="247.45" cy="439.78" r="1.65"/><circle cx="343.65" cy="415.18" r="1.65"/><circle cx="334.89" cy="414.51" r="1.65"/><circle cx="303.46" cy="431.2" r="1.65"/><circle cx="367.19" cy="411.14" r="1.65"/><circle cx="370.24" cy="409.75" r="1.65"/><circle cx="297.44" cy="419.04" r="1.65"/><circle cx="262.67" cy="426.57" r="1.65"/><circle cx="278.82" cy="418.47" r="1.65"/><circle cx="276.12" cy="406.18" r="1.65"/><circle cx="293.05" cy="409.46" r="1.65"/><circle cx="265.19" cy="399.98" r="1.65"/><circle cx="288.6" cy="414.16" r="1.65"/><circle cx="347.82" cy="402.53" r="1.65"/><circle cx="382.12" cy="429.69" r="1.65"/><circle cx="357.28" cy="412.41" r="1.65"/><circle cx="314.47" cy="432.33" r="1.65"/><circle cx="291.15" cy="416.56" r="1.65"/><circle cx="377.18" cy="422.83" r="1.65"/><circle cx="339.04" cy="413.03" r="1.65"/><circle cx="376.93" cy="408.61" r="1.65"/><circle cx="270.88" cy="425.39" r="1.65"/><circle cx="337.03" cy="395.01" r="1.65"/><circle cx="362.09" cy="432.52" r="1.65"/><circle cx="294.53" cy="418.72" r="1.65"/><circle cx="357.18" cy="419.41" r="1.65"/><circle cx="284.82" cy="397.6" r="1.65"/><circle cx="296.43" cy="424.4" r="1.65"/><circle cx="264.16" cy="436.37" r="1.65"/><circle cx="312.55" cy="429.15" r="1.65"/><circle cx="273.14" cy="422.68" r="1.65"/><circle cx="368.99" cy="419.58" r="1.65"/><circle cx="374.16" cy="428.01" r="1.65"/><circle cx="276.07" cy="409.01" r="1.65"/><circle cx="329.23" cy="411.59" r="1.65"/><circle cx="377.35" cy="423.15" r="1.65"/><circle cx="311.31" cy="405.23" r="1.65"/><circle cx="339.1" cy="403.8" r="1.65"/><circle cx="315.87" cy="408.34" r="1.65"/><circle cx="259.95" cy="412.79" r="1.65"/><circle cx="329.43" cy="391.01" r="1.65"/><circle cx="281.2" cy="403.76" r="1.65"/><circle cx="320.58" cy="430.22" r="1.65"/><circle cx="278.48" cy="423.85" r="1.65"/><circle cx="245.64" cy="427.39" r="1.65"/><circle cx="342.44" cy="432.34" r="1.65"/><circle cx="271.89" cy="431.8" r="1.65"/><circle cx="306.6" cy="400.11" r="1.65"/><circle cx="347" cy="420.81" r="1.65"/><circle cx="312.12" cy="407.31" r="1.65"/><circle cx="284.28" cy="416.56" r="1.65"/><circle cx="249.52" cy="427" r="1.65"/><circle cx="348.57" cy="416" r="1.65"/><circle cx="293.55" cy="423.77" r="1.65"/><circle cx="354.32" cy="415.12" r="1.65"/><circle cx="290.88" cy="429.88" r="1.65"/><circle cx="310.03" cy="422.73" r="1.65"/><circle cx="348.99" cy="358.62" r="1.65"/><circle cx="366.21" cy="401.09" r="1.65"/><circle cx="318.4" cy="419.36" r="1.65"/><circle cx="379.85" cy="418.94" r="1.65"/><circle cx="303.52" cy="424.55" r="1.65"/><circle cx="340.45" cy="389.47" r="1.65"/><circle cx="304.68" cy="416.94" r="1.65"/><circle cx="300.02" cy="388.01" r="1.65"/><circle cx="327.99" cy="398.76" r="1.65"/><circle cx="315.81" cy="388.95" r="1.65"/><circle cx="350.66" cy="420.66" r="1.65"/><circle cx="243.46" cy="428.31" r="1.65"/><circle cx="311.72" cy="409.35" r="1.65"/><circle cx="280" cy="409.61" r="1.65"/><circle cx="361.01" cy="426.78" r="1.65"/><circle cx="371.88" cy="418.89" r="1.65"/><circle cx="352.9" cy="431.84" r="1.65"/><circle cx="361.51" cy="431.32" r="1.65"/><circle cx="250.72" cy="420.14" r="1.65"/><circle cx="246.79" cy="424.11" r="1.65"/><circle cx="336.19" cy="406.87" r="1.65"/><circle cx="294.35" cy="422.61" r="1.65"/><circle cx="345.16" cy="422.31" r="1.65"/><circle cx="260.15" cy="412.92" r="1.65"/><circle cx="286.89" cy="426.75" r="1.65"/><circle cx="320.43" cy="415.91" r="1.65"/><circle cx="349.22" cy="413.95" r="1.65"/><circle cx="299.94" cy="414.96" r="1.65"/><circle cx="291.66" cy="411.47" r="1.65"/><circle cx="240.79" cy="423.73" r="1.65"/><circle cx="244.56" cy="408.02" r="1.65"/><circle cx="292.25" cy="419.28" r="1.65"/><circle cx="290.62" cy="376.27" r="1.65"/><circle cx="265.37" cy="414.26" r="1.65"/><circle cx="324.39" cy="406.78" r="1.65"/><circle cx="252.64" cy="413.51" r="1.65"/><circle cx="349.95" cy="407.28" r="1.65"/><circle cx="372.83" cy="417.74" r="1.65"/><circle cx="354.15" cy="404.19" r="1.65"/><circle cx="283.1" cy="406.84" r="1.65"/><circle cx="319.79" cy="402.8" r="1.65"/><circle cx="248.36" cy="424.12" r="1.65"/><circle cx="329.27" cy="412.05" r="1.65"/><circle cx="262.87" cy="413.43" r="1.65"/><circle cx="370.36" cy="417.14" r="1.65"/><circle cx="241.55" cy="428.61" r="1.65"/><circle cx="248.02" cy="416.65" r="1.65"/><circle cx="359.69" cy="403.81" r="1.65"/><circle cx="333.22" cy="405.6" r="1.65"/><circle cx="259.34" cy="423.69" r="1.65"/><circle cx="313.9" cy="432.69" r="1.65"/><circle cx="285.71" cy="424.23" r="1.65"/><circle cx="303" cy="412.93" r="1.65"/><circle cx="258.69" cy="424.7" r="1.65"/><circle cx="289.19" cy="429.93" r="1.65"/><circle cx="256.57" cy="423.83" r="1.65"/><circle cx="345.37" cy="417.29" r="1.65"/><circle cx="249.19" cy="423.79" r="1.65"/><circle cx="364.21" cy="386.26" r="1.65"/><circle cx="298.45" cy="402.72" r="1.65"/><circle cx="286.76" cy="427.07" r="1.65"/><circle cx="291.02" cy="413.68" r="1.65"/><circle cx="250.85" cy="425.25" r="1.65"/><circle cx="328.47" cy="415.37" r="1.65"/><circle cx="327.77" cy="411.04" r="1.65"/><circle cx="239.09" cy="424.93" r="1.65"/><circle cx="315.28" cy="381.69" r="1.65"/><circle cx="348.91" cy="429.71" r="1.65"/><circle cx="261.17" cy="429.59" r="1.65"/><circle cx="246.94" cy="423.81" r="1.65"/><circle cx="378.16" cy="420.01" r="1.65"/><circle cx="366.54" cy="400.7" r="1.65"/><circle cx="356.48" cy="406.39" r="1.65"/><circle cx="327.35" cy="413.57" r="1.65"/><circle cx="321.44" cy="437.19" r="1.65"/><circle cx="250.96" cy="419.82" r="1.65"/><circle cx="263.6" cy="429.9" r="1.65"/><circle cx="300.56" cy="418.13" r="1.65"/><circle cx="303.59" cy="421.03" r="1.65"/><circle cx="313.8" cy="417.48" r="1.65"/><circle cx="321.86" cy="426.95" r="1.65"/><circle cx="283.94" cy="410.25" r="1.65"/><circle cx="247.57" cy="425.26" r="1.65"/><circle cx="258.09" cy="412.22" r="1.65"/><circle cx="381.38" cy="422.68" r="1.65"/><circle cx="372.58" cy="425.91" r="1.65"/><circle cx="368.09" cy="417.57" r="1.65"/><circle cx="303.53" cy="415.52" r="1.65"/><circle cx="370.82" cy="425.82" r="1.65"/><circle cx="373.03" cy="412.57" r="1.65"/><circle cx="275.9" cy="416.66" r="1.65"/><circle cx="326.96" cy="392.38" r="1.65"/><circle cx="295.87" cy="413.34" r="1.65"/><circle cx="342.82" cy="415.32" r="1.65"/><circle cx="276.61" cy="426.52" r="1.65"/><circle cx="246.74" cy="419.09" r="1.65"/><circle cx="379.76" cy="394.62" r="1.65"/><circle cx="363.83" cy="419.4" r="1.65"/><circle cx="300.41" cy="412.59" r="1.65"/><circle cx="312.2" cy="428.89" r="1.65"/><circle cx="300.41" cy="399.72" r="1.65"/><circle cx="352.97" cy="417.3" r="1.65"/><circle cx="238.92" cy="422.83" r="1.65"/><circle cx="310.52" cy="422.47" r="1.65"/><circle cx="263.32" cy="423.27" r="1.65"/><circle cx="300.79" cy="396.89" r="1.65"/><circle cx="241.66" cy="427.41" r="1.65"/><circle cx="239.24" cy="430.79" r="1.65"/><circle cx="312.8" cy="411.67" r="1.65"/><circle cx="278.36" cy="419.88" r="1.65"/><circle cx="271.12" cy="405.21" r="1.65"/><circle cx="295.45" cy="427.23" r="1.65"/><circle cx="353.2" cy="426.31" r="1.65"/><circle cx="254.17" cy="423.27" r="1.65"/><circle cx="356.72" cy="433.51" r="1.65"/><circle cx="273.82" cy="419.97" r="1.65"/><circle cx="367.13" cy="412.69" r="1.65"/><circle cx="301.05" cy="428.16" r="1.65"/><circle cx="321.37" cy="436.76" r="1.65"/><circle cx="308.65" cy="413.06" r="1.65"/><circle cx="382.27" cy="407.24" r="1.65"/><circle cx="292.31" cy="424.07" r="1.65"/><circle cx="298.83" cy="407.45" r="1.65"/><circle cx="256.76" cy="426.4" r="1.65"/><circle cx="359.87" cy="398.29" r="1.65"/><circle cx="372.57" cy="417.24" r="1.65"/><circle cx="313.36" cy="418.15" r="1.65"/><circle cx="273.86" cy="424.82" r="1.65"/><circle cx="331.48" cy="437.89" r="1.65"/><circle cx="308.1" cy="391.47" r="1.65"/><circle cx="262.11" cy="432.55" r="1.65"/><circle cx="260.22" cy="431.7" r="1.65"/><circle cx="272.6" cy="409.64" r="1.65"/><circle cx="374.56" cy="419.62" r="1.65"/><circle cx="253.63" cy="417.57" r="1.65"/><circle cx="380.36" cy="406.01" r="1.65"/><circle cx="246.99" cy="423.02" r="1.65"/><circle cx="342.97" cy="403.98" r="1.65"/><circle cx="238.46" cy="432.71" r="1.65"/><circle cx="377.33" cy="404.68" r="1.65"/><circle cx="272.17" cy="418.04" r="1.65"/><circle cx="243.05" cy="424.66" r="1.65"/><circle cx="368.47" cy="377.58" r="1.65"/><circle cx="382.38" cy="422.53" r="1.65"/><circle cx="243.94" cy="432.5" r="1.65"/><circle cx="259.55" cy="417.7" r="1.65"/><circle cx="243.25" cy="415.52" r="1.65"/><circle cx="311.1" cy="420.16" r="1.65"/><circle cx="381.53" cy="410.78" r="1.65"/><circle cx="253.6" cy="421.77" r="1.65"/><circle cx="369.98" cy="409" r="1.65"/><circle cx="261.69" cy="397.68" r="1.65"/><circle cx="269.11" cy="430.24" r="1.65"/><circle cx="375.68" cy="431.65" r="1.65"/><circle cx="240.11" cy="425.74" r="1.65"/><circle cx="343.77" cy="411.24" r="1.65"/><circle cx="311.61" cy="429.15" r="1.65"/><circle cx="311.05" cy="412.41" r="1.65"/><circle cx="372.81" cy="421.35" r="1.65"/><circle cx="259.99" cy="408.49" r="1.65"/><circle cx="271.89" cy="424.18" r="1.65"/><circle cx="243.76" cy="419.67" r="1.65"/><circle cx="251.43" cy="398.95" r="1.65"/><circle cx="350.92" cy="392.24" r="1.65"/><circle cx="346.55" cy="415.92" r="1.65"/><circle cx="311.95" cy="421.81" r="1.65"/><circle cx="280.01" cy="417.97" r="1.65"/><circle cx="287.26" cy="422.24" r="1.65"/><circle cx="380.41" cy="402.68" r="1.65"/><circle cx="361.63" cy="408.74" r="1.65"/><circle cx="272.44" cy="426.05" r="1.65"/><circle cx="306.01" cy="418.09" r="1.65"/><circle cx="274.22" cy="427.34" r="1.65"/><circle cx="298.89" cy="428.69" r="1.65"/><circle cx="381.38" cy="413.02" r="1.65"/><circle cx="297.22" cy="420.43" r="1.65"/><circle cx="359.31" cy="417.7" r="1.65"/><circle cx="244.51" cy="422" r="1.65"/><circle cx="286.26" cy="425.48" r="1.65"/><circle cx="313.2" cy="406.13" r="1.65"/><circle cx="338.06" cy="422.7" r="1.65"/><circle cx="276.79" cy="427.89" r="1.65"/><circle cx="328.87" cy="415.97" r="1.65"/><circle cx="318.6" cy="410.32" r="1.65"/><circle cx="323.21" cy="407.96" r="1.65"/><circle cx="247.24" cy="427.09" r="1.65"/><circle cx="311.71" cy="407.08" r="1.65"/><circle cx="311.04" cy="418.17" r="1.65"/><circle cx="369.67" cy="434.82" r="1.65"/><circle cx="333.59" cy="393" r="1.65"/><circle cx="302.22" cy="400.4" r="1.65"/><circle cx="274.83" cy="414.3" r="1.65"/><circle cx="247.65" cy="413.88" r="1.65"/><circle cx="284.04" cy="400.19" r="1.65"/><circle cx="273.06" cy="420.11" r="1.65"/><circle cx="307.64" cy="429.23" r="1.65"/><circle cx="296.43" cy="411.38" r="1.65"/><circle cx="380.19" cy="417.11" r="1.65"/><circle cx="344.61" cy="419.19" r="1.65"/><circle cx="245.32" cy="418.42" r="1.65"/><circle cx="366.72" cy="414.08" r="1.65"/><circle cx="281.21" cy="428.73" r="1.65"/><circle cx="263.04" cy="417.23" r="1.65"/><circle cx="248.1" cy="425.83" r="1.65"/><circle cx="309.44" cy="418.59" r="1.65"/><circle cx="247.7" cy="424.29" r="1.65"/><circle cx="311.75" cy="402.11" r="1.65"/><circle cx="380.66" cy="422.34" r="1.65"/><circle cx="276.5" cy="428.15" r="1.65"/><circle cx="253.81" cy="432" r="1.65"/><circle cx="346.97" cy="417.94" r="1.65"/><circle cx="360.89" cy="376.98" r="1.65"/><circle cx="278.43" cy="425.25" r="1.65"/><circle cx="363.08" cy="409.14" r="1.65"/><circle cx="252.09" cy="411.68" r="1.65"/><circle cx="290.7" cy="390.94" r="1.65"/><circle cx="288.83" cy="412.2" r="1.65"/><circle cx="357.03" cy="400.77" r="1.65"/><circle cx="259.75" cy="420.23" r="1.65"/><circle cx="271.54" cy="423.35" r="1.65"/><circle cx="265.58" cy="427.75" r="1.65"/><circle cx="315.64" cy="415.8" r="1.65"/><circle cx="331.8" cy="392.24" r="1.65"/><circle cx="259.5" cy="422.96" r="1.65"/><circle cx="320.63" cy="426.5" r="1.65"/><circle cx="297.33" cy="398.88" r="1.65"/><circle cx="304.42" cy="409.84" r="1.65"/><circle cx="272.26" cy="410.02" r="1.65"/><circle cx="354.59" cy="424.5" r="1.65"/><circle cx="283.28" cy="407.92" r="1.65"/><circle cx="338.91" cy="415.58" r="1.65"/><circle cx="341.31" cy="419.52" r="1.65"/><circle cx="359.84" cy="417.52" r="1.65"/><circle cx="311.79" cy="407.42" r="1.65"/><circle cx="318.36" cy="424.67" r="1.65"/><circle cx="263.2" cy="411.04" r="1.65"/><circle cx="277.1" cy="411.44" r="1.65"/><circle cx="365.17" cy="445.38" r="1.65"/><circle cx="343.75" cy="423.2" r="1.65"/><circle cx="239" cy="430.24" r="1.65"/><circle cx="302.73" cy="430.94" r="1.65"/><circle cx="269.65" cy="424.3" r="1.65"/><circle cx="250.79" cy="431.43" r="1.65"/><circle cx="279.51" cy="420.76" r="1.65"/><circle cx="262.26" cy="426.48" r="1.65"/><circle cx="317.38" cy="412.69" r="1.65"/><circle cx="262.99" cy="420.76" r="1.65"/><circle cx="258.34" cy="415.62" r="1.65"/><circle cx="362.63" cy="404.02" r="1.65"/><circle cx="290.72" cy="410.64" r="1.65"/><circle cx="374.2" cy="410.43" r="1.65"/><circle cx="375.22" cy="426.42" r="1.65"/><circle cx="377.55" cy="413.09" r="1.65"/><circle cx="316.62" cy="423.07" r="1.65"/><circle cx="381.2" cy="416.04" r="1.65"/><circle cx="341.48" cy="409.57" r="1.65"/><circle cx="344.13" cy="417.85" r="1.65"/><circle cx="299.51" cy="407.39" r="1.65"/><circle cx="258.09" cy="424.13" r="1.65"/><circle cx="272.39" cy="427.89" r="1.65"/><circle cx="343.25" cy="415.69" r="1.65"/><circle cx="334.33" cy="432.43" r="1.65"/><circle cx="312.51" cy="406.22" r="1.65"/><circle cx="289.38" cy="412.53" r="1.65"/><circle cx="264.33" cy="420.79" r="1.65"/><circle cx="306.62" cy="393.86" r="1.65"/><circle cx="287.11" cy="423.65" r="1.65"/><circle cx="314.4" cy="417.09" r="1.65"/><circle cx="257.18" cy="437.16" r="1.65"/><circle cx="342.41" cy="432.27" r="1.65"/><circle cx="312.5" cy="414.54" r="1.65"/><circle cx="321.55" cy="411.98" r="1.65"/><circle cx="365.13" cy="408.18" r="1.65"/><circle cx="238.63" cy="418.4" r="1.65"/><circle cx="299.32" cy="407.5" r="1.65"/><circle cx="322.67" cy="391.4" r="1.65"/><circle cx="336.09" cy="392.1" r="1.65"/><circle cx="241.38" cy="430.77" r="1.65"/><circle cx="249.77" cy="425.29" r="1.65"/><circle cx="289.43" cy="414.82" r="1.65"/><circle cx="280.5" cy="427.74" r="1.65"/><circle cx="298.82" cy="414.45" r="1.65"/><circle cx="293.44" cy="425.85" r="1.65"/><circle cx="278.94" cy="428.64" r="1.65"/><circle cx="275.29" cy="407.93" r="1.65"/><circle cx="282.28" cy="415.37" r="1.65"/><circle cx="345.91" cy="396.71" r="1.65"/><circle cx="330.5" cy="416.7" r="1.65"/><circle cx="277.9" cy="429.33" r="1.65"/><circle cx="350.98" cy="419.83" r="1.65"/><circle cx="318.24" cy="416.21" r="1.65"/><circle cx="296.79" cy="386.39" r="1.65"/><circle cx="286.21" cy="390.12" r="1.65"/><circle cx="252.4" cy="430.85" r="1.65"/><circle cx="371.51" cy="415.17" r="1.65"/><circle cx="239.08" cy="427.25" r="1.65"/><circle cx="362.71" cy="414.8" r="1.65"/><circle cx="243.15" cy="427.96" r="1.65"/><circle cx="276.77" cy="426.05" r="1.65"/><circle cx="253.79" cy="425.78" r="1.65"/><circle cx="242.66" cy="427.63" r="1.65"/><circle cx="261.63" cy="411.34" r="1.65"/><circle cx="347" cy="402.65" r="1.65"/><circle cx="325.63" cy="397.01" r="1.65"/><circle cx="377.49" cy="398.84" r="1.65"/><circle cx="332.64" cy="401.42" r="1.65"/><circle cx="314.99" cy="421.13" r="1.65"/><circle cx="300.74" cy="419.37" r="1.65"/><circle cx="342.2" cy="416.67" r="1.65"/><circle cx="301.89" cy="417.87" r="1.65"/><circle cx="343.07" cy="401.04" r="1.65"/><circle cx="302.44" cy="414.25" r="1.65"/><circle cx="268.22" cy="414.18" r="1.65"/><circle cx="322.66" cy="415.46" r="1.65"/><circle cx="259.88" cy="418.06" r="1.65"/><circle cx="270.39" cy="412.84" r="1.65"/><circle cx="295.67" cy="381.54" r="1.65"/><circle cx="344.22" cy="426.17" r="1.65"/><circle cx="265.45" cy="411.96" r="1.65"/><circle cx="262.33" cy="429.83" r="1.65"/><circle cx="250.04" cy="429.64" r="1.65"/><circle cx="302.65" cy="425.29" r="1.65"/><circle cx="262.79" cy="415.91" r="1.65"/><circle cx="328" cy="420.71" r="1.65"/><circle cx="366.18" cy="437.86" r="1.65"/><circle cx="338.31" cy="407.16" r="1.65"/><circle cx="367.51" cy="415.86" r="1.65"/><circle cx="320.16" cy="405.16" r="1.65"/><circle cx="368.61" cy="418" r="1.65"/><circle cx="255.42" cy="420.77" r="1.65"/><circle cx="278.94" cy="402.31" r="1.65"/><circle cx="372.08" cy="415.29" r="1.65"/><circle cx="279.11" cy="418.21" r="1.65"/><circle cx="379.67" cy="416.39" r="1.65"/><circle cx="268.82" cy="417.95" r="1.65"/><circle cx="373.58" cy="411.11" r="1.65"/><circle cx="277.17" cy="400.08" r="1.65"/><circle cx="312.24" cy="425.86" r="1.65"/><circle cx="276.44" cy="423.19" r="1.65"/><circle cx="372.98" cy="386.97" r="1.65"/><circle cx="263.28" cy="434.46" r="1.65"/><circle cx="378.49" cy="387.93" r="1.65"/><circle cx="251.68" cy="431.49" r="1.65"/><circle cx="244.14" cy="421.81" r="1.65"/><circle cx="374.87" cy="419.97" r="1.65"/><circle cx="371.19" cy="421.03" r="1.65"/><circle cx="367.35" cy="394.56" r="1.65"/><circle cx="283.15" cy="425.52" r="1.65"/><circle cx="252.67" cy="430.61" r="1.65"/><circle cx="240.48" cy="422.85" r="1.65"/><circle cx="280.68" cy="424.98" r="1.65"/><circle cx="279.08" cy="427.56" r="1.65"/><circle cx="275.4" cy="422.59" r="1.65"/><circle cx="348.52" cy="431.63" r="1.65"/><circle cx="252.17" cy="419.75" r="1.65"/><circle cx="359.34" cy="425.23" r="1.65"/><circle cx="359.11" cy="413.1" r="1.65"/><circle cx="285.53" cy="420.05" r="1.65"/><circle cx="302.79" cy="416.09" r="1.65"/><circle cx="298.7" cy="431.76" r="1.65"/><circle cx="380.55" cy="411.45" r="1.65"/><circle cx="362.28" cy="402.92" r="1.65"/><circle cx="246.82" cy="415.11" r="1.65"/><circle cx="357.97" cy="397.67" r="1.65"/><circle cx="243.77" cy="434.62" r="1.65"/><circle cx="250.44" cy="424.35" r="1.65"/><circle cx="351.19" cy="426.52" r="1.65"/><circle cx="332.73" cy="402.06" r="1.65"/><circle cx="366.19" cy="424.45" r="1.65"/><circle cx="247.76" cy="422.54" r="1.65"/><circle cx="240.92" cy="429.96" r="1.65"/><circle cx="338.73" cy="397.81" r="1.65"/><circle cx="264.74" cy="419.86" r="1.65"/><circle cx="343.1" cy="428.19" r="1.65"/><circle cx="239.36" cy="432.43" r="1.65"/><circle cx="311.35" cy="407.78" r="1.65"/><circle cx="253.21" cy="424.86" r="1.65"/><circle cx="297.75" cy="430.97" r="1.65"/><circle cx="340.76" cy="417.34" r="1.65"/><circle cx="361.21" cy="416.53" r="1.65"/><circle cx="367.51" cy="404.37" r="1.65"/><circle cx="289.63" cy="431.54" r="1.65"/><circle cx="281.89" cy="421.26" r="1.65"/><circle cx="348.21" cy="416.22" r="1.65"/><circle cx="340.9" cy="409.56" r="1.65"/><circle cx="291.79" cy="407.26" r="1.65"/><circle cx="249.6" cy="426.27" r="1.65"/><circle cx="321.09" cy="432.74" r="1.65"/><circle cx="299.67" cy="396.21" r="1.65"/><circle cx="321.24" cy="425.07" r="1.65"/><circle cx="304.59" cy="424.6" r="1.65"/><circle cx="261.67" cy="421.18" r="1.65"/><circle cx="246.15" cy="429.79" r="1.65"/><circle cx="297.42" cy="419.36" r="1.65"/><circle cx="253.81" cy="427.83" r="1.65"/><circle cx="317.41" cy="407.75" r="1.65"/><circle cx="376.7" cy="415.36" r="1.65"/><circle cx="315.74" cy="420.03" r="1.65"/><circle cx="331.86" cy="382.26" r="1.65"/><circle cx="304.23" cy="396.48" r="1.65"/><circle cx="275.77" cy="415.96" r="1.65"/><circle cx="318.66" cy="436.55" r="1.65"/><circle cx="282.88" cy="419.14" r="1.65"/><circle cx="313.83" cy="424.59" r="1.65"/><circle cx="238.61" cy="421.66" r="1.65"/><circle cx="257.11" cy="411.33" r="1.65"/><circle cx="268.08" cy="412.33" r="1.65"/><circle cx="326.23" cy="393.37" r="1.65"/><circle cx="383.1" cy="406.15" r="1.65"/><circle cx="274.7" cy="420.58" r="1.65"/><circle cx="317.84" cy="389.07" r="1.65"/><circle cx="295.32" cy="419.05" r="1.65"/><circle cx="358.35" cy="418.47" r="1.65"/><circle cx="336.08" cy="436.41" r="1.65"/><circle cx="277.5" cy="434" r="1.65"/><circle cx="260.12" cy="421.87" r="1.65"/><circle cx="290.57" cy="422.24" r="1.65"/><circle cx="345.55" cy="388.78" r="1.65"/><circle cx="286.55" cy="433.57" r="1.65"/><circle cx="331.73" cy="397.63" r="1.65"/><circle cx="335.68" cy="427.21" r="1.65"/><circle cx="307.06" cy="417.21" r="1.65"/><circle cx="284.63" cy="434.01" r="1.65"/><circle cx="266.67" cy="421.79" r="1.65"/><circle cx="303.75" cy="417.41" r="1.65"/><circle cx="316.45" cy="441.92" r="1.65"/><circle cx="318.93" cy="410.48" r="1.65"/><circle cx="365.02" cy="400.79" r="1.65"/><circle cx="382.06" cy="391.39" r="1.65"/><circle cx="289.95" cy="414.49" r="1.65"/><circle cx="345.19" cy="394.09" r="1.65"/><circle cx="355.9" cy="420.53" r="1.65"/><circle cx="330.53" cy="405.59" r="1.65"/><circle cx="315" cy="429.67" r="1.65"/><circle cx="274.66" cy="415.46" r="1.65"/><circle cx="365.27" cy="414.42" r="1.65"/><circle cx="341.11" cy="423.65" r="1.65"/><circle cx="329.02" cy="410.25" r="1.65"/><circle cx="287.24" cy="402.69" r="1.65"/><circle cx="298.28" cy="426.67" r="1.65"/><circle cx="250.99" cy="432.13" r="1.65"/><circle cx="374.81" cy="422.95" r="1.65"/><circle cx="241.22" cy="431.86" r="1.65"/><circle cx="324.51" cy="423.66" r="1.65"/><circle cx="252.82" cy="426.7" r="1.65"/><circle cx="270.76" cy="406.72" r="1.65"/><circle cx="344.83" cy="423" r="1.65"/><circle cx="309.43" cy="403.52" r="1.65"/><circle cx="345.61" cy="389.92" r="1.65"/><circle cx="354.9" cy="395.7" r="1.65"/><circle cx="244.5" cy="425.11" r="1.65"/><circle cx="365.56" cy="421.57" r="1.65"/><circle cx="284.64" cy="424.25" r="1.65"/><circle cx="291.24" cy="392.8" r="1.65"/><circle cx="270.1" cy="410.36" r="1.65"/><circle cx="251.5" cy="435.29" r="1.65"/><circle cx="283.59" cy="423.78" r="1.65"/><circle cx="355.87" cy="427.95" r="1.65"/><circle cx="292.21" cy="424.19" r="1.65"/><circle cx="379.03" cy="405.56" r="1.65"/><circle cx="350.74" cy="414.91" r="1.65"/><circle cx="258.64" cy="422.7" r="1.65"/><circle cx="299.26" cy="423.18" r="1.65"/><circle cx="354.95" cy="408" r="1.65"/><circle cx="265.82" cy="407.89" r="1.65"/><circle cx="336.8" cy="423.58" r="1.65"/><circle cx="262.38" cy="424.6" r="1.65"/><circle cx="247.95" cy="431.77" r="1.65"/><circle cx="256.53" cy="411.11" r="1.65"/><circle cx="327.74" cy="419.48" r="1.65"/><circle cx="362.69" cy="384.18" r="1.65"/><circle cx="355.34" cy="417.42" r="1.65"/><circle cx="325.06" cy="398.79" r="1.65"/><circle cx="349.09" cy="393.76" r="1.65"/><circle cx="314.16" cy="430.12" r="1.65"/><circle cx="335.93" cy="398.86" r="1.65"/><circle cx="269.63" cy="424" r="1.65"/><circle cx="252.26" cy="415.3" r="1.65"/><circle cx="366.45" cy="417.64" r="1.65"/><circle cx="365.41" cy="403.66" r="1.65"/><circle cx="351.86" cy="417.17" r="1.65"/><circle cx="351.62" cy="426.97" r="1.65"/><circle cx="267.52" cy="415.44" r="1.65"/><circle cx="343.23" cy="351.79" r="1.65"/><circle cx="267.86" cy="411.29" r="1.65"/><circle cx="354.68" cy="398.78" r="1.65"/><circle cx="275.58" cy="422.9" r="1.65"/><circle cx="250.69" cy="417.77" r="1.65"/><circle cx="374.16" cy="424.68" r="1.65"/><circle cx="245.58" cy="425.57" r="1.65"/><circle cx="337.84" cy="411.75" r="1.65"/><circle cx="325.75" cy="399.44" r="1.65"/><circle cx="288.84" cy="431.06" r="1.65"/><circle cx="256.86" cy="427.39" r="1.65"/><circle cx="279.62" cy="421.51" r="1.65"/><circle cx="312.86" cy="420.57" r="1.65"/><circle cx="334.55" cy="419.78" r="1.65"/><circle cx="331.91" cy="400.95" r="1.65"/><circle cx="323.14" cy="418.19" r="1.65"/><circle cx="309.82" cy="416.48" r="1.65"/><circle cx="308.57" cy="431.46" r="1.65"/><circle cx="300.48" cy="428.26" r="1.65"/><circle cx="353.77" cy="434.42" r="1.65"/><circle cx="336.79" cy="394.63" r="1.65"/><circle cx="379.63" cy="433.29" r="1.65"/><circle cx="337.17" cy="424.16" r="1.65"/><circle cx="315.23" cy="421.94" r="1.65"/><circle cx="310.89" cy="413.98" r="1.65"/><circle cx="321.68" cy="424.64" r="1.65"/><circle cx="364.36" cy="380.7" r="1.65"/><circle cx="271.04" cy="410.06" r="1.65"/><circle cx="249.16" cy="423.33" r="1.65"/><circle cx="362.28" cy="386.63" r="1.65"/><circle cx="250.6" cy="429.37" r="1.65"/><circle cx="276.47" cy="412.85" r="1.65"/><circle cx="318.57" cy="420.54" r="1.65"/><circle cx="319.78" cy="392.45" r="1.65"/><circle cx="242.52" cy="432.22" r="1.65"/><circle cx="287.51" cy="417.29" r="1.65"/><circle cx="349.38" cy="414.2" r="1.65"/><circle cx="292.74" cy="417.54" r="1.65"/><circle cx="259.76" cy="424.18" r="1.65"/><circle cx="332.73" cy="421.68" r="1.65"/><circle cx="329.15" cy="390.71" r="1.65"/><circle cx="324.88" cy="421.76" r="1.65"/><circle cx="327.14" cy="423.97" r="1.65"/><circle cx="344.29" cy="426.36" r="1.65"/><circle cx="338.38" cy="411.24" r="1.65"/><circle cx="381.25" cy="415.95" r="1.65"/><circle cx="354.64" cy="418.48" r="1.65"/><circle cx="238.68" cy="427.76" r="1.65"/><circle cx="277.04" cy="402.37" r="1.65"/><circle cx="291.55" cy="426.85" r="1.65"/><circle cx="345.27" cy="410.24" r="1.65"/><circle cx="361.09" cy="411.72" r="1.65"/><circle cx="279.99" cy="429.11" r="1.65"/><circle cx="375.09" cy="409.03" r="1.65"/><circle cx="302.31" cy="411.63" r="1.65"/><circle cx="357.55" cy="420.98" r="1.65"/><circle cx="366.33" cy="408.76" r="1.65"/><circle cx="249.73" cy="429.59" r="1.65"/><circle cx="297.36" cy="420.96" r="1.65"/><circle cx="363.47" cy="407.23" r="1.65"/><circle cx="314.09" cy="425.06" r="1.65"/><circle cx="290.75" cy="425.83" r="1.65"/><circle cx="355.15" cy="399.59" r="1.65"/><circle cx="369.55" cy="423.34" r="1.65"/><circle cx="258.85" cy="431.37" r="1.65"/><circle cx="250.8" cy="432.14" r="1.65"/><circle cx="256.88" cy="433.53" r="1.65"/><circle cx="344.95" cy="377.89" r="1.65"/><circle cx="359.99" cy="416.26" r="1.65"/><circle cx="372.41" cy="373.79" r="1.65"/><circle cx="367.84" cy="419.55" r="1.65"/><circle cx="297.17" cy="409.45" r="1.65"/><circle cx="360.65" cy="400.2" r="1.65"/><circle cx="334.3" cy="428.16" r="1.65"/><circle cx="303.33" cy="424.58" r="1.65"/><circle cx="369.54" cy="418.8" r="1.65"/><circle cx="250.3" cy="416.63" r="1.65"/><circle cx="282.3" cy="421.04" r="1.65"/><circle cx="281.33" cy="415.81" r="1.65"/><circle cx="277.33" cy="425.49" r="1.65"/><circle cx="259.93" cy="426.04" r="1.65"/><circle cx="309.26" cy="414.54" r="1.65"/><circle cx="311.52" cy="414.34" r="1.65"/><circle cx="367.34" cy="402.47" r="1.65"/><circle cx="293.49" cy="409.47" r="1.65"/><circle cx="383.09" cy="426.5" r="1.65"/><circle cx="254.34" cy="416.23" r="1.65"/><circle cx="274.21" cy="419.69" r="1.65"/><circle cx="351.56" cy="412.53" r="1.65"/><circle cx="248.06" cy="424.46" r="1.65"/><circle cx="255.36" cy="433.09" r="1.65"/><circle cx="272.94" cy="429.29" r="1.65"/><circle cx="336.33" cy="404.92" r="1.65"/><circle cx="306.76" cy="413.82" r="1.65"/><circle cx="329.87" cy="416.35" r="1.65"/><circle cx="265.73" cy="403.95" r="1.65"/><circle cx="252.98" cy="421.01" r="1.65"/><circle cx="297.43" cy="394.55" r="1.65"/><circle cx="378.19" cy="414.35" r="1.65"/><circle cx="306.65" cy="424.06" r="1.65"/><circle cx="283.44" cy="417.76" r="1.65"/><circle cx="321.48" cy="405.88" r="1.65"/><circle cx="301.67" cy="375.17" r="1.65"/><circle cx="300.33" cy="426.63" r="1.65"/><circle cx="376.91" cy="374.23" r="1.65"/><circle cx="296.95" cy="426.16" r="1.65"/><circle cx="249.28" cy="428.59" r="1.65"/><circle cx="310.17" cy="420.24" r="1.65"/><circle cx="355.94" cy="419.17" r="1.65"/><circle cx="243.71" cy="425.04" r="1.65"/><circle cx="368.99" cy="394.87" r="1.65"/><circle cx="268.23" cy="425.27" r="1.65"/><circle cx="287.15" cy="420.18" r="1.65"/><circle cx="294.87" cy="419.6" r="1.65"/><circle cx="356.01" cy="426.38" r="1.65"/><circle cx="299.11" cy="408.14" r="1.65"/><circle cx="243.67" cy="431.97" r="1.65"/><circle cx="269.5" cy="422.15" r="1.65"/><circle cx="283.76" cy="416.53" r="1.65"/><circle cx="290.94" cy="410.28" r="1.65"/><circle cx="279.93" cy="417.55" r="1.65"/><circle cx="248.18" cy="417.43" r="1.65"/><circle cx="277.79" cy="397.91" r="1.65"/><circle cx="335.72" cy="418.66" r="1.65"/><circle cx="251" cy="413.9" r="1.65"/><circle cx="326.56" cy="431.9" r="1.65"/><circle cx="314.25" cy="423" r="1.65"/><circle cx="360.65" cy="428.67" r="1.65"/><circle cx="263.85" cy="430.7" r="1.65"/><circle cx="361.39" cy="419.01" r="1.65"/><circle cx="334.27" cy="431.19" r="1.65"/><circle cx="353.06" cy="418.57" r="1.65"/><circle cx="368.16" cy="421.1" r="1.65"/><circle cx="320.93" cy="422.01" r="1.65"/><circle cx="335.78" cy="390.34" r="1.65"/><circle cx="296.96" cy="404.43" r="1.65"/><circle cx="321.93" cy="424.2" r="1.65"/><circle cx="241.22" cy="424.71" r="1.65"/><circle cx="355.9" cy="410.37" r="1.65"/><circle cx="287.3" cy="415.99" r="1.65"/><circle cx="319.07" cy="417.97" r="1.65"/><circle cx="238.04" cy="431.11" r="1.65"/><circle cx="278.11" cy="424.73" r="1.65"/><circle cx="287.66" cy="423.93" r="1.65"/><circle cx="279.66" cy="411.64" r="1.65"/><circle cx="345.04" cy="430.9" r="1.65"/><circle cx="267.89" cy="414.45" r="1.65"/><circle cx="253.4" cy="408.84" r="1.65"/><circle cx="372.37" cy="416.78" r="1.65"/><circle cx="349.86" cy="388.99" r="1.65"/><circle cx="301.79" cy="405.14" r="1.65"/><circle cx="275.38" cy="411.03" r="1.65"/><circle cx="248.36" cy="426.08" r="1.65"/><circle cx="366.97" cy="364.59" r="1.65"/><circle cx="253.9" cy="434.83" r="1.65"/><circle cx="382.16" cy="391.5" r="1.65"/><circle cx="337.99" cy="412.5" r="1.65"/><circle cx="241.46" cy="437.45" r="1.65"/><circle cx="239.25" cy="427.67" r="1.65"/><circle cx="269.41" cy="409.94" r="1.65"/><circle cx="285.04" cy="429.96" r="1.65"/><circle cx="245.86" cy="426.17" r="1.65"/><circle cx="246.66" cy="417.13" r="1.65"/><circle cx="354" cy="351.2" r="1.65"/><circle cx="281.32" cy="425.23" r="1.65"/><circle cx="276.98" cy="425.84" r="1.65"/><circle cx="269.64" cy="422.62" r="1.65"/><circle cx="284.63" cy="428.06" r="1.65"/><circle cx="287.1" cy="432.16" r="1.65"/><circle cx="352.06" cy="426.1" r="1.65"/><circle cx="362.79" cy="397.81" r="1.65"/><circle cx="345.19" cy="419.79" r="1.65"/><circle cx="340.07" cy="428.28" r="1.65"/><circle cx="320.73" cy="416.7" r="1.65"/><circle cx="263.54" cy="432.15" r="1.65"/><circle cx="283.95" cy="429.34" r="1.65"/><circle cx="341.36" cy="387.56" r="1.65"/><circle cx="343.23" cy="424.6" r="1.65"/><circle cx="287.53" cy="418.66" r="1.65"/><circle cx="238.03" cy="431.73" r="1.65"/><circle cx="344.45" cy="409.93" r="1.65"/><circle cx="263.92" cy="421.52" r="1.65"/><circle cx="261.41" cy="429.66" r="1.65"/><circle cx="360.45" cy="421.78" r="1.65"/><circle cx="307.69" cy="421.87" r="1.65"/><circle cx="376.01" cy="424.6" r="1.65"/><circle cx="312.72" cy="430.29" r="1.65"/><circle cx="246.15" cy="425.18" r="1.65"/><circle cx="367.6" cy="380.76" r="1.65"/><circle cx="383.27" cy="391.07" r="1.65"/><circle cx="272.78" cy="416.57" r="1.65"/><circle cx="352.65" cy="384.45" r="1.65"/><circle cx="312.39" cy="411.72" r="1.65"/><circle cx="275.07" cy="433.97" r="1.65"/><circle cx="376.11" cy="416.65" r="1.65"/><circle cx="328.77" cy="416.27" r="1.65"/><circle cx="370.42" cy="425.43" r="1.65"/><circle cx="309.6" cy="428.49" r="1.65"/><circle cx="370.25" cy="405.61" r="1.65"/><circle cx="380.15" cy="420.28" r="1.65"/><circle cx="245.9" cy="421.18" r="1.65"/><circle cx="337.48" cy="393.17" r="1.65"/><circle cx="353.17" cy="392.81" r="1.65"/><circle cx="336.72" cy="409.63" r="1.65"/><circle cx="354.63" cy="430.9" r="1.65"/><circle cx="250.6" cy="432" r="1.65"/><circle cx="372.78" cy="421.38" r="1.65"/><circle cx="334.05" cy="400.9" r="1.65"/><circle cx="301.46" cy="421.19" r="1.65"/><circle cx="257.16" cy="423.53" r="1.65"/><circle cx="309.83" cy="400.45" r="1.65"/><circle cx="289.04" cy="392.2" r="1.65"/><circle cx="255.37" cy="417.3" r="1.65"/><circle cx="297.32" cy="421.01" r="1.65"/><circle cx="358.12" cy="416.96" r="1.65"/><circle cx="382.57" cy="397.8" r="1.65"/><circle cx="243.56" cy="438.18" r="1.65"/><circle cx="286.59" cy="412.08" r="1.65"/><circle cx="272.36" cy="420.76" r="1.65"/><circle cx="271.85" cy="425.56" r="1.65"/><circle cx="335.34" cy="414.48" r="1.65"/><circle cx="272.35" cy="410.13" r="1.65"/><circle cx="325.16" cy="404.46" r="1.65"/><circle cx="306.95" cy="419.11" r="1.65"/><circle cx="303.97" cy="410.3" r="1.65"/><circle cx="301.63" cy="420.72" r="1.65"/><circle cx="299.16" cy="426.07" r="1.65"/><circle cx="381.35" cy="411.3" r="1.65"/><circle cx="265.26" cy="433.36" r="1.65"/><circle cx="248.24" cy="413.48" r="1.65"/><circle cx="377.13" cy="426.58" r="1.65"/><circle cx="365.09" cy="415.46" r="1.65"/><circle cx="334.42" cy="398.84" r="1.65"/><circle cx="259.98" cy="427.21" r="1.65"/><circle cx="256.05" cy="424.87" r="1.65"/><circle cx="367.19" cy="411.68" r="1.65"/><circle cx="354.17" cy="421.87" r="1.65"/><circle cx="349.87" cy="401.86" r="1.65"/><circle cx="307.74" cy="434.42" r="1.65"/><circle cx="238.27" cy="429.76" r="1.65"/><circle cx="365.05" cy="405.51" r="1.65"/><circle cx="272.63" cy="409.69" r="1.65"/><circle cx="249.89" cy="431.84" r="1.65"/><circle cx="345" cy="409.43" r="1.65"/><circle cx="273.76" cy="419.77" r="1.65"/><circle cx="319.64" cy="433.46" r="1.65"/><circle cx="342.46" cy="418.19" r="1.65"/><circle cx="338" cy="423.05" r="1.65"/><circle cx="366.98" cy="420.35" r="1.65"/><circle cx="321.48" cy="399.7" r="1.65"/><circle cx="331.4" cy="401.71" r="1.65"/><circle cx="335.58" cy="403" r="1.65"/><circle cx="381.04" cy="411.37" r="1.65"/><circle cx="306.54" cy="372.45" r="1.65"/><circle cx="266.69" cy="422.85" r="1.65"/><circle cx="275.15" cy="412.81" r="1.65"/><circle cx="310.82" cy="427.18" r="1.65"/><circle cx="372.66" cy="395.82" r="1.65"/><circle cx="333.64" cy="417.26" r="1.65"/><circle cx="261.76" cy="432.89" r="1.65"/><circle cx="329.57" cy="424.84" r="1.65"/><circle cx="349.3" cy="397.16" r="1.65"/><circle cx="378.8" cy="398.13" r="1.65"/><circle cx="254.9" cy="416.52" r="1.65"/><circle cx="261.35" cy="422.33" r="1.65"/><circle cx="359.63" cy="411.51" r="1.65"/><circle cx="351.4" cy="406.56" r="1.65"/><circle cx="366.96" cy="416.22" r="1.65"/><circle cx="281.53" cy="414.94" r="1.65"/><circle cx="271.14" cy="412.66" r="1.65"/><circle cx="326.33" cy="416.08" r="1.65"/><circle cx="337.99" cy="406.05" r="1.65"/><circle cx="327.21" cy="396.09" r="1.65"/><circle cx="343.39" cy="425.79" r="1.65"/><circle cx="282.58" cy="414.77" r="1.65"/><circle cx="344.17" cy="402.44" r="1.65"/><circle cx="312.13" cy="400.92" r="1.65"/><circle cx="346.83" cy="405.89" r="1.65"/><circle cx="243.7" cy="422.22" r="1.65"/><circle cx="381.18" cy="416.97" r="1.65"/><circle cx="275.52" cy="408.03" r="1.65"/><circle cx="378.13" cy="389.38" r="1.65"/><circle cx="285.27" cy="417.83" r="1.65"/><circle cx="294.91" cy="426.24" r="1.65"/><circle cx="279.04" cy="429.22" r="1.65"/><circle cx="301.44" cy="421.9" r="1.65"/><circle cx="314.22" cy="432.19" r="1.65"/><circle cx="259.76" cy="419.92" r="1.65"/><circle cx="293.02" cy="409.66" r="1.65"/><circle cx="373.24" cy="426.84" r="1.65"/><circle cx="275.72" cy="418.52" r="1.65"/><circle cx="320.4" cy="399.07" r="1.65"/><circle cx="289.78" cy="419.88" r="1.65"/><circle cx="343.82" cy="423.05" r="1.65"/><circle cx="367.82" cy="431.82" r="1.65"/><circle cx="304.25" cy="430.01" r="1.65"/><circle cx="244.36" cy="421.6" r="1.65"/><circle cx="372.76" cy="417.38" r="1.65"/><circle cx="318.1" cy="396.84" r="1.65"/><circle cx="274.32" cy="426.48" r="1.65"/><circle cx="356" cy="275" r="1.65"/><circle cx="348.4" cy="305.6" r="1.65"/><circle cx="322" cy="310.4" r="1.65"/><circle cx="355.4" cy="328.6" r="1.65"/><circle cx="318.4" cy="326.4" r="1.65"/><circle cx="325" cy="326.8" r="1.65"/><circle cx="327.4" cy="333.4" r="1.65"/><circle cx="328.4" cy="341.4" r="1.65"/><circle cx="335" cy="344" r="1.65"/><circle cx="337.6" cy="340" r="1.65"/><circle cx="343.4" cy="341" r="1.65"/><circle cx="345.4" cy="344" r="1.65"/><circle cx="337.6" cy="350.6" r="1.65"/><circle cx="295.6" cy="357.4" r="1.65"/><circle cx="326.6" cy="358.4" r="1.65"/><circle cx="341.4" cy="360.4" r="1.65"/><circle cx="346.4" cy="360" r="1.65"/><circle cx="320.4" cy="365.6" r="1.65"/><circle cx="353" cy="367" r="1.65"/><circle cx="375.4" cy="258.4" r="1.65"/><circle cx="356.6" cy="275.2" r="1.65"/><circle cx="378.4" cy="277.6" r="1.65"/><circle cx="365.4" cy="283.6" r="1.65"/><circle cx="359" cy="298.4" r="1.65"/><circle cx="361" cy="299.6" r="1.65"/><circle cx="368.6" cy="297.4" r="1.65"/><circle cx="382.4" cy="299" r="1.65"/><circle cx="369" cy="302.4" r="1.65"/><circle cx="369.4" cy="305" r="1.65"/><circle cx="348.6" cy="305.4" r="1.65"/><circle cx="371.6" cy="317.4" r="1.65"/><circle cx="380.6" cy="323.6" r="1.65"/><circle cx="364" cy="328.6" r="1.65"/><circle cx="362" cy="332.4" r="1.65"/><circle cx="371" cy="328.4" r="1.65"/><circle cx="369.6" cy="339.6" r="1.65"/><circle cx="375" cy="345" r="1.65"/><circle cx="372.4" cy="350" r="1.65"/><circle cx="361.4" cy="361.4" r="1.65"/><circle cx="365.6" cy="360" r="1.65"/><circle cx="369" cy="359.6" r="1.65"/><circle cx="373" cy="357.6" r="1.65"/><circle cx="375.4" cy="358.4" r="1.65"/><circle cx="285" cy="377.1" r="1.65"/><circle cx="361.3" cy="331.3" r="1.65"/><circle cx="363.7" cy="328.4" r="1.65"/><circle cx="374.6" cy="344.6" r="1.65"/><circle cx="371.4" cy="317.3" r="1.65"/><circle cx="315.5" cy="375.2" r="1.65"/><circle cx="353.4" cy="367.5" r="1.65"/><circle cx="360.8" cy="361.4" r="1.65"/><circle cx="303" cy="372" r="1.65"/><circle cx="310" cy="380" r="1.65"/><circle cx="290" cy="385" r="1.65"/><circle cx="300" cy="383" r="1.65"/><circle cx="335" cy="365" r="1.65"/><circle cx="340" cy="372" r="1.65"/></g>
<rect x="231" y="249.4" width="161" height="203" fill="none" stroke="#8a8a8a" stroke-width="1"/>
<line x1="228.7" y1="398.6" x2="231" y2="398.6" stroke="#333333" stroke-width="1.1"/>
<text x="226.7" y="401.5" font-size="9.0" text-anchor="end" fill="#111111" stroke="#111111" stroke-width="0.2">0.05</text>
<line x1="228.7" y1="322" x2="231" y2="322" stroke="#333333" stroke-width="1.1"/>
<text x="226.7" y="324.9" font-size="9.0" text-anchor="end" fill="#111111" stroke="#111111" stroke-width="0.2">0.1</text>
<line x1="238" y1="452.4" x2="238" y2="454.7" stroke="#333333" stroke-width="1.1"/>
<text x="238" y="464" font-size="9.0" text-anchor="middle" fill="#111111" stroke="#111111" stroke-width="0.2">20</text>
<line x1="267.4" y1="452.4" x2="267.4" y2="454.7" stroke="#333333" stroke-width="1.1"/>
<text x="267.4" y="464" font-size="9.0" text-anchor="middle" fill="#111111" stroke="#111111" stroke-width="0.2">30</text>
<line x1="296.8" y1="452.4" x2="296.8" y2="454.7" stroke="#333333" stroke-width="1.1"/>
<text x="296.8" y="464" font-size="9.0" text-anchor="middle" fill="#111111" stroke="#111111" stroke-width="0.2">40</text>
<line x1="326.2" y1="452.4" x2="326.2" y2="454.7" stroke="#333333" stroke-width="1.1"/>
<text x="326.2" y="464" font-size="9.0" text-anchor="middle" fill="#111111" stroke="#111111" stroke-width="0.2">50</text>
<line x1="355.6" y1="452.4" x2="355.6" y2="454.7" stroke="#333333" stroke-width="1.1"/>
<text x="355.6" y="464" font-size="9.0" text-anchor="middle" fill="#111111" stroke="#111111" stroke-width="0.2">60</text>
<line x1="385" y1="452.4" x2="385" y2="454.7" stroke="#333333" stroke-width="1.1"/>
<text x="385" y="464" font-size="9.0" text-anchor="middle" fill="#111111" stroke="#111111" stroke-width="0.2">70</text>
<text x="311.5" y="474" font-size="9.3" text-anchor="middle" fill="#111111" stroke="#111111" stroke-width="0.2">Age</text>
<text transform="translate(209.5,343) rotate(-90) scale(1 1.0)" font-size="9.3" text-anchor="middle" fill="#111111" stroke="#111111" stroke-width="0.2">cg21638161 (<tspan font-style="italic">MAFA</tspan>)</text>
<text x="205" y="247.1" font-size="16" text-anchor="start" fill="#000" font-weight="bold">f</text>
<rect x="443" y="249.4" width="56.6" height="203" fill="#fff" stroke="none" stroke-width="1"/>
<line x1="443" y1="420.45" x2="499.6" y2="420.45" stroke="#f5f5f5" stroke-width="0.8"/>
<line x1="443" y1="374.15" x2="499.6" y2="374.15" stroke="#f5f5f5" stroke-width="0.8"/>
<line x1="443" y1="327.85" x2="499.6" y2="327.85" stroke="#f5f5f5" stroke-width="0.8"/>
<line x1="443" y1="281.55" x2="499.6" y2="281.55" stroke="#f5f5f5" stroke-width="0.8"/>
<line x1="458.6" y1="249.4" x2="458.6" y2="452.4" stroke="#ebebeb" stroke-width="1"/>
<line x1="484.4" y1="249.4" x2="484.4" y2="452.4" stroke="#ebebeb" stroke-width="1"/>
<line x1="443" y1="443.6" x2="499.6" y2="443.6" stroke="#ebebeb" stroke-width="1"/>
<line x1="443" y1="397.3" x2="499.6" y2="397.3" stroke="#ebebeb" stroke-width="1"/>
<line x1="443" y1="351" x2="499.6" y2="351" stroke="#ebebeb" stroke-width="1"/>
<line x1="443" y1="304.7" x2="499.6" y2="304.7" stroke="#ebebeb" stroke-width="1"/>
<line x1="443" y1="258.4" x2="499.6" y2="258.4" stroke="#ebebeb" stroke-width="1"/>
<rect x="446" y="441.3" width="25.2" height="2.3" fill="#2171b5" stroke="none" stroke-width="1"/>
<rect x="472.2" y="257.6" width="25" height="186" fill="#2171b5" stroke="none" stroke-width="1"/>
<rect x="443" y="249.4" width="56.6" height="203" fill="none" stroke="#8a8a8a" stroke-width="1"/>
<line x1="440.7" y1="443.6" x2="443" y2="443.6" stroke="#333333" stroke-width="1.1"/>
<text x="438.7" y="446.5" font-size="9.0" text-anchor="end" fill="#111111" stroke="#111111" stroke-width="0.2">0</text>
<line x1="440.7" y1="397.3" x2="443" y2="397.3" stroke="#333333" stroke-width="1.1"/>
<text x="438.7" y="400.2" font-size="9.0" text-anchor="end" fill="#111111" stroke="#111111" stroke-width="0.2">5000</text>
<line x1="440.7" y1="351" x2="443" y2="351" stroke="#333333" stroke-width="1.1"/>
<text x="438.7" y="353.9" font-size="9.0" text-anchor="end" fill="#111111" stroke="#111111" stroke-width="0.2">10000</text>
<line x1="440.7" y1="304.7" x2="443" y2="304.7" stroke="#333333" stroke-width="1.1"/>
<text x="438.7" y="307.6" font-size="9.0" text-anchor="end" fill="#111111" stroke="#111111" stroke-width="0.2">15000</text>
<line x1="440.7" y1="258.4" x2="443" y2="258.4" stroke="#333333" stroke-width="1.1"/>
<text x="438.7" y="261.3" font-size="9.0" text-anchor="end" fill="#111111" stroke="#111111" stroke-width="0.2">20000</text>
<line x1="458.6" y1="452.4" x2="458.6" y2="454.7" stroke="#333333" stroke-width="1.1"/>
<text x="458.6" y="464" font-size="9.0" text-anchor="middle" fill="#111111" stroke="#111111" stroke-width="0.2">&lt; 0</text>
<line x1="484.4" y1="452.4" x2="484.4" y2="454.7" stroke="#333333" stroke-width="1.1"/>
<text x="484.4" y="464" font-size="9.0" text-anchor="middle" fill="#111111" stroke="#111111" stroke-width="0.2">&gt; 0</text>
<text x="471.3" y="474" font-size="9.3" text-anchor="middle" fill="#111111" stroke="#111111" stroke-width="0.2">Direction</text>
<text transform="translate(407.5,350.9) rotate(-90) scale(1 1.0)" font-size="9.3" text-anchor="middle" fill="#111111" stroke="#111111" stroke-width="0.2">#CpG sites</text>
<text x="399" y="247.1" font-size="16" text-anchor="start" fill="#000" font-weight="bold">g</text>
<rect x="534.4" y="249.4" width="148.3" height="202.8" fill="#fff" stroke="none" stroke-width="1"/>
<line x1="555.65" y1="249.4" x2="555.65" y2="452.2" stroke="#f5f5f5" stroke-width="0.8"/>
<line x1="583.35" y1="249.4" x2="583.35" y2="452.2" stroke="#f5f5f5" stroke-width="0.8"/>
<line x1="611.05" y1="249.4" x2="611.05" y2="452.2" stroke="#f5f5f5" stroke-width="0.8"/>
<line x1="638.75" y1="249.4" x2="638.75" y2="452.2" stroke="#f5f5f5" stroke-width="0.8"/>
<line x1="666.45" y1="249.4" x2="666.45" y2="452.2" stroke="#f5f5f5" stroke-width="0.8"/>
<line x1="534.4" y1="415.9" x2="682.7" y2="415.9" stroke="#f5f5f5" stroke-width="0.8"/>
<line x1="534.4" y1="373.3" x2="682.7" y2="373.3" stroke="#f5f5f5" stroke-width="0.8"/>
<line x1="534.4" y1="330.7" x2="682.7" y2="330.7" stroke="#f5f5f5" stroke-width="0.8"/>
<line x1="534.4" y1="288.1" x2="682.7" y2="288.1" stroke="#f5f5f5" stroke-width="0.8"/>
<line x1="541.8" y1="249.4" x2="541.8" y2="452.2" stroke="#ebebeb" stroke-width="1"/>
<line x1="569.5" y1="249.4" x2="569.5" y2="452.2" stroke="#ebebeb" stroke-width="1"/>
<line x1="597.2" y1="249.4" x2="597.2" y2="452.2" stroke="#ebebeb" stroke-width="1"/>
<line x1="624.9" y1="249.4" x2="624.9" y2="452.2" stroke="#ebebeb" stroke-width="1"/>
<line x1="652.6" y1="249.4" x2="652.6" y2="452.2" stroke="#ebebeb" stroke-width="1"/>
<line x1="680.3" y1="249.4" x2="680.3" y2="452.2" stroke="#ebebeb" stroke-width="1"/>
<line x1="534.4" y1="437.2" x2="682.7" y2="437.2" stroke="#ebebeb" stroke-width="1"/>
<line x1="534.4" y1="394.6" x2="682.7" y2="394.6" stroke="#ebebeb" stroke-width="1"/>
<line x1="534.4" y1="352" x2="682.7" y2="352" stroke="#ebebeb" stroke-width="1"/>
<line x1="534.4" y1="309.4" x2="682.7" y2="309.4" stroke="#ebebeb" stroke-width="1"/>
<line x1="534.4" y1="266.8" x2="682.7" y2="266.8" stroke="#ebebeb" stroke-width="1"/>
<path d="M562.3,348.2 L564.3,345.9 L565.9,345.1 L569.8,345.5 L572.4,347.2 L572.9,351.6 L573.9,356.1 L572.6,357.7 L572.4,362.2 L570.3,363.1 L569.5,366.4 L567.3,366.9 L566.4,364.9 L567.6,361.1 L567.9,358.2 L565.7,357.8 L563.3,357.1 L559.2,357 L558.8,356.2 L560.7,354.8 L560.5,352.4 L561.5,349.9Z" fill="#2171b5"/>
<path d="M622.5,310.7 L623.3,304 L625.3,301.5 L628.4,301 L632.5,302.5 L636.4,304 L640,308 L643,314.7 L646,320 L647.7,326 L648.5,331 L648,337.2 L648,343.4 L648,351 L645.5,356.6 L642,362 L640.5,368.8 L638.6,375.8 L635.5,381 L632,386 L628.6,390.5 L625.5,393.5 L622.5,391 L621,386 L620.8,375 L620.8,360 L620.8,345 L621,330 L621.6,318Z" fill="#2171b5"/>
<g fill="#2171b5"><circle cx="562.9" cy="348.06" r="1.45"/><circle cx="564.17" cy="347.89" r="1.45"/><circle cx="565.9" cy="345.86" r="1.45"/><circle cx="566.66" cy="346.78" r="1.45"/><circle cx="568.03" cy="346.8" r="1.45"/><circle cx="569.76" cy="346.88" r="1.45"/><circle cx="571.61" cy="344.06" r="1.45"/><circle cx="571.71" cy="346.78" r="1.45"/><circle cx="571.42" cy="347.46" r="1.45"/><circle cx="572.57" cy="347.7" r="1.45"/><circle cx="572.35" cy="347.9" r="1.45"/><circle cx="574.53" cy="347.65" r="1.45"/><circle cx="572.76" cy="353.77" r="1.45"/><circle cx="572.15" cy="354.06" r="1.45"/><circle cx="575.3" cy="353.36" r="1.45"/><circle cx="572.94" cy="352.7" r="1.45"/><circle cx="575.23" cy="352.19" r="1.45"/><circle cx="572.55" cy="357.38" r="1.45"/><circle cx="572.2" cy="360.3" r="1.45"/><circle cx="573.74" cy="360.37" r="1.45"/><circle cx="571.2" cy="361.37" r="1.45"/><circle cx="571.56" cy="361.66" r="1.45"/><circle cx="571.1" cy="361.77" r="1.45"/><circle cx="568.48" cy="364.01" r="1.45"/><circle cx="571.64" cy="364.77" r="1.45"/><circle cx="568.82" cy="366.21" r="1.45"/><circle cx="568.23" cy="366.43" r="1.45"/><circle cx="568.62" cy="368.13" r="1.45"/><circle cx="567.24" cy="365.59" r="1.45"/><circle cx="566.16" cy="366.08" r="1.45"/><circle cx="566.75" cy="363.56" r="1.45"/><circle cx="568.12" cy="362.95" r="1.45"/><circle cx="566.62" cy="362.47" r="1.45"/><circle cx="568.04" cy="358.76" r="1.45"/><circle cx="568.19" cy="359.16" r="1.45"/><circle cx="565.95" cy="356.96" r="1.45"/><circle cx="563.54" cy="356.61" r="1.45"/><circle cx="561.31" cy="356.13" r="1.45"/><circle cx="561.24" cy="359.03" r="1.45"/><circle cx="562.67" cy="355.61" r="1.45"/><circle cx="559.54" cy="356.05" r="1.45"/><circle cx="559.57" cy="357.04" r="1.45"/><circle cx="561.9" cy="353.69" r="1.45"/><circle cx="559.61" cy="353.88" r="1.45"/><circle cx="561.24" cy="350.09" r="1.45"/><circle cx="562.92" cy="349.57" r="1.45"/><circle cx="623.21" cy="307.21" r="1.45"/><circle cx="622.14" cy="307.09" r="1.45"/><circle cx="623.34" cy="305.1" r="1.45"/><circle cx="623.81" cy="306.77" r="1.45"/><circle cx="624.22" cy="305.13" r="1.45"/><circle cx="624.02" cy="303.45" r="1.45"/><circle cx="622.58" cy="302.29" r="1.45"/><circle cx="626.42" cy="302.59" r="1.45"/><circle cx="627.31" cy="301.24" r="1.45"/><circle cx="626.24" cy="302.23" r="1.45"/><circle cx="631.65" cy="303.64" r="1.45"/><circle cx="632.31" cy="301.82" r="1.45"/><circle cx="628.23" cy="301.79" r="1.45"/><circle cx="629.18" cy="299.2" r="1.45"/><circle cx="634.56" cy="304.76" r="1.45"/><circle cx="633.51" cy="303.65" r="1.45"/><circle cx="634.02" cy="302.33" r="1.45"/><circle cx="636.38" cy="305.35" r="1.45"/><circle cx="637.25" cy="307.21" r="1.45"/><circle cx="639.39" cy="307.63" r="1.45"/><circle cx="639.33" cy="308.37" r="1.45"/><circle cx="641.64" cy="307.33" r="1.45"/><circle cx="640.23" cy="309.3" r="1.45"/><circle cx="641.15" cy="313.09" r="1.45"/><circle cx="643.09" cy="312.22" r="1.45"/><circle cx="640.95" cy="310.06" r="1.45"/><circle cx="643.98" cy="317.67" r="1.45"/><circle cx="642.85" cy="315.48" r="1.45"/><circle cx="645.33" cy="318.52" r="1.45"/><circle cx="644.53" cy="318.73" r="1.45"/><circle cx="645.98" cy="320.42" r="1.45"/><circle cx="645.62" cy="322.41" r="1.45"/><circle cx="644.78" cy="321.04" r="1.45"/><circle cx="647.98" cy="320.14" r="1.45"/><circle cx="646.53" cy="324.78" r="1.45"/><circle cx="647.28" cy="326.17" r="1.45"/><circle cx="647.23" cy="328.73" r="1.45"/><circle cx="646.39" cy="327.37" r="1.45"/><circle cx="648.05" cy="332.51" r="1.45"/><circle cx="647.36" cy="335.42" r="1.45"/><circle cx="649.23" cy="335.58" r="1.45"/><circle cx="647.8" cy="333.98" r="1.45"/><circle cx="647.72" cy="331.47" r="1.45"/><circle cx="648" cy="341.65" r="1.45"/><circle cx="647.77" cy="341.09" r="1.45"/><circle cx="647.66" cy="342.53" r="1.45"/><circle cx="648.05" cy="338.72" r="1.45"/><circle cx="647.88" cy="348.07" r="1.45"/><circle cx="646.41" cy="350.92" r="1.45"/><circle cx="647.1" cy="345.77" r="1.45"/><circle cx="649.4" cy="345.77" r="1.45"/><circle cx="646.94" cy="344" r="1.45"/><circle cx="647.23" cy="349.04" r="1.45"/><circle cx="650.12" cy="349.04" r="1.45"/><circle cx="645.12" cy="354.44" r="1.45"/><circle cx="646.06" cy="354.44" r="1.45"/><circle cx="644.69" cy="355.91" r="1.45"/><circle cx="644.68" cy="355.19" r="1.45"/><circle cx="644.36" cy="357.39" r="1.45"/><circle cx="644.25" cy="358.7" r="1.45"/><circle cx="643.56" cy="358.69" r="1.45"/><circle cx="644.13" cy="357.05" r="1.45"/><circle cx="641.84" cy="363.31" r="1.45"/><circle cx="643.53" cy="363.68" r="1.45"/><circle cx="640.27" cy="368.28" r="1.45"/><circle cx="641.87" cy="368.64" r="1.45"/><circle cx="641.45" cy="362.16" r="1.45"/><circle cx="640.09" cy="363.29" r="1.45"/><circle cx="639.31" cy="369.19" r="1.45"/><circle cx="637.9" cy="374.82" r="1.45"/><circle cx="640.56" cy="375.54" r="1.45"/><circle cx="638.31" cy="374.39" r="1.45"/><circle cx="639.65" cy="374.75" r="1.45"/><circle cx="639.15" cy="371.46" r="1.45"/><circle cx="641.51" cy="372.1" r="1.45"/><circle cx="636.04" cy="380.22" r="1.45"/><circle cx="638.07" cy="375.61" r="1.45"/><circle cx="640.28" cy="376.93" r="1.45"/><circle cx="636.08" cy="379.56" r="1.45"/><circle cx="636.72" cy="379.94" r="1.45"/><circle cx="635.64" cy="379.78" r="1.45"/><circle cx="633.72" cy="383.26" r="1.45"/><circle cx="633.77" cy="381.8" r="1.45"/><circle cx="633.31" cy="384.14" r="1.45"/><circle cx="633.73" cy="384.43" r="1.45"/><circle cx="633.4" cy="383.34" r="1.45"/><circle cx="634.43" cy="384.07" r="1.45"/><circle cx="630.58" cy="385.34" r="1.45"/><circle cx="629.35" cy="388.81" r="1.45"/><circle cx="630.15" cy="389.42" r="1.45"/><circle cx="628.33" cy="389.81" r="1.45"/><circle cx="626.26" cy="392.36" r="1.45"/><circle cx="628.28" cy="390.66" r="1.45"/><circle cx="628.69" cy="391.07" r="1.45"/><circle cx="624.85" cy="392.13" r="1.45"/><circle cx="625.18" cy="392.82" r="1.45"/><circle cx="622.32" cy="390.17" r="1.45"/><circle cx="621.5" cy="386.36" r="1.45"/><circle cx="619.42" cy="386.99" r="1.45"/><circle cx="621.76" cy="386.3" r="1.45"/><circle cx="621.7" cy="375.31" r="1.45"/><circle cx="620.98" cy="375.69" r="1.45"/><circle cx="619.78" cy="375.71" r="1.45"/><circle cx="621.38" cy="379.24" r="1.45"/><circle cx="622.18" cy="378.86" r="1.45"/><circle cx="620.91" cy="380.1" r="1.45"/><circle cx="618.7" cy="380.14" r="1.45"/><circle cx="621.09" cy="379.89" r="1.45"/><circle cx="621.77" cy="376.27" r="1.45"/><circle cx="619.69" cy="376.31" r="1.45"/><circle cx="621.43" cy="372.33" r="1.45"/><circle cx="622.16" cy="369.57" r="1.45"/><circle cx="619.64" cy="369.57" r="1.45"/><circle cx="622.35" cy="366.29" r="1.45"/><circle cx="622.21" cy="371.84" r="1.45"/><circle cx="620.79" cy="367.15" r="1.45"/><circle cx="621.97" cy="373.16" r="1.45"/><circle cx="621.01" cy="365.39" r="1.45"/><circle cx="621.94" cy="365.24" r="1.45"/><circle cx="621.52" cy="369.33" r="1.45"/><circle cx="621.57" cy="366.93" r="1.45"/><circle cx="618.92" cy="366.93" r="1.45"/><circle cx="620.96" cy="351.2" r="1.45"/><circle cx="620.61" cy="349.04" r="1.45"/><circle cx="622.39" cy="354.1" r="1.45"/><circle cx="621.36" cy="351.28" r="1.45"/><circle cx="621.99" cy="357.05" r="1.45"/><circle cx="621.53" cy="347.81" r="1.45"/><circle cx="619.73" cy="347.81" r="1.45"/><circle cx="621.5" cy="347.6" r="1.45"/><circle cx="621.27" cy="354.16" r="1.45"/><circle cx="620.84" cy="349.6" r="1.45"/><circle cx="621.95" cy="354.38" r="1.45"/><circle cx="620.89" cy="333.11" r="1.45"/><circle cx="619.03" cy="333.08" r="1.45"/><circle cx="622.44" cy="331.66" r="1.45"/><circle cx="622.26" cy="335.51" r="1.45"/><circle cx="621.22" cy="341.03" r="1.45"/><circle cx="622.07" cy="341.74" r="1.45"/><circle cx="622.15" cy="334.32" r="1.45"/><circle cx="621.3" cy="339.98" r="1.45"/><circle cx="622.18" cy="342.12" r="1.45"/><circle cx="619.19" cy="342.08" r="1.45"/><circle cx="622.26" cy="338.81" r="1.45"/><circle cx="622.49" cy="335.2" r="1.45"/><circle cx="622.16" cy="322.9" r="1.45"/><circle cx="622.5" cy="318.5" r="1.45"/><circle cx="622.32" cy="322.42" r="1.45"/><circle cx="621.91" cy="320.96" r="1.45"/><circle cx="622.5" cy="323.89" r="1.45"/><circle cx="621.45" cy="329.78" r="1.45"/><circle cx="621.68" cy="327.37" r="1.45"/><circle cx="621.77" cy="328.99" r="1.45"/><circle cx="619.22" cy="328.87" r="1.45"/><circle cx="622.9" cy="315.74" r="1.45"/><circle cx="621.41" cy="315.55" r="1.45"/><circle cx="623.09" cy="316.8" r="1.45"/><circle cx="623.56" cy="311.96" r="1.45"/><circle cx="621.01" cy="311.65" r="1.45"/><circle cx="622.57" cy="317.26" r="1.45"/><circle cx="567.8" cy="258.1" r="1.45"/><circle cx="571.2" cy="307.4" r="1.45"/><circle cx="568.5" cy="312.4" r="1.45"/><circle cx="570.3" cy="330.5" r="1.45"/><circle cx="563.5" cy="333.2" r="1.45"/><circle cx="571.9" cy="335.5" r="1.45"/><circle cx="553.3" cy="336.9" r="1.45"/><circle cx="556" cy="341.4" r="1.45"/><circle cx="553.3" cy="344.1" r="1.45"/><circle cx="540.6" cy="350.2" r="1.45"/><circle cx="552.2" cy="386.4" r="1.45"/><circle cx="570.4" cy="330.6" r="1.45"/><circle cx="563.7" cy="333.4" r="1.45"/><circle cx="572.3" cy="335.4" r="1.45"/><circle cx="553.5" cy="336.8" r="1.45"/><circle cx="556.1" cy="341.5" r="1.45"/><circle cx="553.5" cy="344.4" r="1.45"/><circle cx="571.6" cy="340.5" r="1.45"/><circle cx="569.7" cy="342.4" r="1.45"/><circle cx="564.8" cy="341.9" r="1.45"/><circle cx="566.3" cy="341.3" r="1.45"/><circle cx="570.7" cy="370.8" r="1.45"/><circle cx="564.4" cy="371.5" r="1.45"/><circle cx="566.3" cy="373.9" r="1.45"/><circle cx="568.5" cy="376.6" r="1.45"/><circle cx="566.1" cy="378.2" r="1.45"/><circle cx="563.7" cy="381.9" r="1.45"/><circle cx="566.5" cy="391.5" r="1.45"/><circle cx="570.4" cy="392.8" r="1.45"/><circle cx="572.6" cy="363.2" r="1.45"/><circle cx="567.7" cy="366.6" r="1.45"/><circle cx="558.6" cy="357" r="1.45"/><circle cx="568.9" cy="402" r="1.45"/><circle cx="569.6" cy="400.8" r="1.45"/><circle cx="548.8" cy="411.5" r="1.45"/><circle cx="551.5" cy="428.4" r="1.45"/><circle cx="625" cy="433" r="1.45"/><circle cx="623.5" cy="440.2" r="1.45"/><circle cx="624.4" cy="443.1" r="1.45"/><circle cx="658.3" cy="410.8" r="1.45"/><circle cx="676.2" cy="368.5" r="1.45"/><circle cx="653.3" cy="377.5" r="1.45"/><circle cx="656.7" cy="353.8" r="1.45"/><circle cx="670.3" cy="312" r="1.45"/><circle cx="669.9" cy="315.4" r="1.45"/><circle cx="665.1" cy="322.6" r="1.45"/><circle cx="643.6" cy="258.6" r="1.45"/><circle cx="624.8" cy="267.6" r="1.45"/><circle cx="624.4" cy="275.1" r="1.45"/><circle cx="625" cy="280.7" r="1.45"/><circle cx="646.1" cy="274.4" r="1.45"/><circle cx="639.8" cy="282.3" r="1.45"/><circle cx="633.4" cy="285.7" r="1.45"/><circle cx="652.2" cy="288" r="1.45"/><circle cx="655.6" cy="293.6" r="1.45"/><circle cx="625.3" cy="296.4" r="1.45"/><circle cx="629.4" cy="289.7" r="1.45"/><circle cx="633.5" cy="285.6" r="1.45"/><circle cx="636.1" cy="291.2" r="1.45"/><circle cx="636.6" cy="298.9" r="1.45"/><circle cx="642.7" cy="301.5" r="1.45"/><circle cx="645.8" cy="306.4" r="1.45"/><circle cx="650.9" cy="305.3" r="1.45"/><circle cx="656.5" cy="312.7" r="1.45"/><circle cx="658" cy="319.3" r="1.45"/><circle cx="665.2" cy="322.7" r="1.45"/><circle cx="661.6" cy="329" r="1.45"/><circle cx="661.6" cy="333.3" r="1.45"/><circle cx="670.8" cy="311.2" r="1.45"/><circle cx="652.4" cy="288" r="1.45"/><circle cx="655.5" cy="293.3" r="1.45"/><circle cx="639.6" cy="282.2" r="1.45"/><circle cx="625.3" cy="281" r="1.45"/><circle cx="627" cy="294" r="1.45"/><circle cx="631" cy="292" r="1.45"/><circle cx="638" cy="295" r="1.45"/><circle cx="648" cy="311" r="1.45"/><circle cx="654" cy="316" r="1.45"/><circle cx="656" cy="322" r="1.45"/><circle cx="655" cy="328" r="1.45"/><circle cx="653" cy="335" r="1.45"/><circle cx="652" cy="342" r="1.45"/><circle cx="650" cy="348" r="1.45"/><circle cx="649" cy="356" r="1.45"/><circle cx="646" cy="362" r="1.45"/><circle cx="643" cy="368" r="1.45"/><circle cx="640" cy="376" r="1.45"/><circle cx="638.5" cy="373" r="1.45"/><circle cx="640" cy="376.5" r="1.45"/><circle cx="641.5" cy="380" r="1.45"/><circle cx="643" cy="383" r="1.45"/><circle cx="644.5" cy="386" r="1.45"/><circle cx="645.5" cy="388.5" r="1.45"/><circle cx="646.5" cy="374" r="1.45"/><circle cx="623" cy="392" r="1.45"/><circle cx="624.5" cy="395" r="1.45"/><circle cx="626" cy="398" r="1.45"/><circle cx="623.5" cy="400" r="1.45"/><circle cx="625.5" cy="403" r="1.45"/><circle cx="627" cy="406" r="1.45"/><circle cx="624" cy="408" r="1.45"/><circle cx="626" cy="411" r="1.45"/><circle cx="628" cy="413.5" r="1.45"/><circle cx="625" cy="414.5" r="1.45"/><circle cx="629" cy="409" r="1.45"/><circle cx="631" cy="397" r="1.45"/><circle cx="632.5" cy="393" r="1.45"/><circle cx="630" cy="401" r="1.45"/><circle cx="634" cy="404" r="1.45"/><circle cx="637.5" cy="395" r="1.45"/><circle cx="639.5" cy="392" r="1.45"/><circle cx="628" cy="416" r="1.45"/><circle cx="631" cy="389" r="1.45"/><circle cx="634" cy="387" r="1.45"/><circle cx="636" cy="291" r="1.45"/><circle cx="642" cy="301" r="1.45"/><circle cx="650" cy="305" r="1.45"/><circle cx="656" cy="312" r="1.45"/><circle cx="658" cy="319" r="1.45"/><circle cx="665" cy="322.7" r="1.45"/><circle cx="661.6" cy="329" r="1.45"/><circle cx="661.6" cy="333.3" r="1.45"/><circle cx="648" cy="309" r="1.45"/><circle cx="653" cy="316" r="1.45"/><circle cx="657" cy="327" r="1.45"/><circle cx="644" cy="304" r="1.45"/><circle cx="639" cy="298" r="1.45"/><circle cx="630" cy="296" r="1.45"/><circle cx="627" cy="298" r="1.45"/><circle cx="634" cy="299" r="1.45"/><circle cx="645" cy="309" r="1.45"/><circle cx="648.5" cy="313" r="1.45"/><circle cx="651" cy="316.5" r="1.45"/><circle cx="654" cy="319" r="1.45"/><circle cx="650" cy="322" r="1.45"/><circle cx="653" cy="324.5" r="1.45"/><circle cx="656.5" cy="326" r="1.45"/><circle cx="659" cy="324" r="1.45"/><circle cx="651" cy="329" r="1.45"/><circle cx="654" cy="332" r="1.45"/><circle cx="657" cy="335" r="1.45"/><circle cx="660" cy="338" r="1.45"/><circle cx="651" cy="340" r="1.45"/><circle cx="655" cy="344" r="1.45"/><circle cx="652" cy="347" r="1.45"/><circle cx="646" cy="306" r="1.45"/><circle cx="649" cy="310" r="1.45"/><circle cx="643" cy="306.5" r="1.45"/><circle cx="652.5" cy="311" r="1.45"/><circle cx="648" cy="318.5" r="1.45"/><circle cx="662" cy="316" r="1.45"/><circle cx="667" cy="319.5" r="1.45"/><circle cx="650" cy="356" r="1.45"/><circle cx="651" cy="350.5" r="1.45"/><circle cx="646.5" cy="360" r="1.45"/><circle cx="643.5" cy="365" r="1.45"/><circle cx="642.5" cy="371" r="1.45"/><circle cx="640.5" cy="378" r="1.45"/><circle cx="637.5" cy="383" r="1.45"/><circle cx="634.5" cy="388" r="1.45"/><circle cx="631" cy="391.5" r="1.45"/><circle cx="628" cy="394.5" r="1.45"/><circle cx="636" cy="386" r="1.45"/><circle cx="633" cy="390" r="1.45"/><circle cx="653.85" cy="319.88" r="1.45"/><circle cx="647.81" cy="349.41" r="1.45"/><circle cx="652.85" cy="323.34" r="1.45"/><circle cx="642.2" cy="310.47" r="1.45"/><circle cx="652.68" cy="352.75" r="1.45"/><circle cx="651.31" cy="347.8" r="1.45"/><circle cx="635.22" cy="302.8" r="1.45"/><circle cx="664.97" cy="330" r="1.45"/><circle cx="658.55" cy="333.46" r="1.45"/><circle cx="641.65" cy="305.02" r="1.45"/><circle cx="640.49" cy="380.45" r="1.45"/><circle cx="647.31" cy="353.01" r="1.45"/><circle cx="633.54" cy="383.51" r="1.45"/><circle cx="636.06" cy="386.89" r="1.45"/><circle cx="643.41" cy="365.33" r="1.45"/><circle cx="646.4" cy="316.43" r="1.45"/><circle cx="646.25" cy="360.43" r="1.45"/><circle cx="658.87" cy="336.26" r="1.45"/><circle cx="640.7" cy="306.7" r="1.45"/><circle cx="643.13" cy="309.96" r="1.45"/><circle cx="644.09" cy="371.78" r="1.45"/><circle cx="645.33" cy="315.14" r="1.45"/><circle cx="648.82" cy="311.87" r="1.45"/><circle cx="649.34" cy="340.95" r="1.45"/><circle cx="661.7" cy="334.93" r="1.45"/><circle cx="655.72" cy="339.41" r="1.45"/><circle cx="646.83" cy="357.24" r="1.45"/><circle cx="649.08" cy="350.96" r="1.45"/><circle cx="649.97" cy="319.46" r="1.45"/><circle cx="650.45" cy="328.8" r="1.45"/><circle cx="661.73" cy="318.42" r="1.45"/><circle cx="649.06" cy="339.45" r="1.45"/><circle cx="638.3" cy="304.79" r="1.45"/><circle cx="637.97" cy="378.43" r="1.45"/><circle cx="643.26" cy="360.7" r="1.45"/><circle cx="645.37" cy="359.25" r="1.45"/><circle cx="643.07" cy="366.8" r="1.45"/><circle cx="649.96" cy="335.03" r="1.45"/><circle cx="652.27" cy="354.3" r="1.45"/><circle cx="643.6" cy="362.86" r="1.45"/><circle cx="663.53" cy="330.91" r="1.45"/><circle cx="638.25" cy="376.47" r="1.45"/><circle cx="646.82" cy="361.77" r="1.45"/><circle cx="653.51" cy="361.47" r="1.45"/><circle cx="636.97" cy="379.35" r="1.45"/><circle cx="630.08" cy="389.71" r="1.45"/><circle cx="673.85" cy="335.42" r="1.45"/><circle cx="647.17" cy="316.72" r="1.45"/><circle cx="645.8" cy="357.08" r="1.45"/><circle cx="658.12" cy="325.5" r="1.45"/><circle cx="650.08" cy="355.9" r="1.45"/><circle cx="646.46" cy="371.51" r="1.45"/><circle cx="641.29" cy="380.64" r="1.45"/><circle cx="632.33" cy="388.1" r="1.45"/><circle cx="643.64" cy="363.74" r="1.45"/><circle cx="634.24" cy="387.3" r="1.45"/><circle cx="655.14" cy="339.89" r="1.45"/><circle cx="648.48" cy="327.95" r="1.45"/><circle cx="648.61" cy="335.99" r="1.45"/><circle cx="632.19" cy="302.35" r="1.45"/><circle cx="657.59" cy="341.98" r="1.45"/><circle cx="645.03" cy="306.27" r="1.45"/><circle cx="646.2" cy="311.8" r="1.45"/><circle cx="651.66" cy="328.03" r="1.45"/><circle cx="642.78" cy="364.65" r="1.45"/><circle cx="656.67" cy="336.47" r="1.45"/><circle cx="644.38" cy="312.2" r="1.45"/><circle cx="647.42" cy="363.76" r="1.45"/><circle cx="630.89" cy="388.19" r="1.45"/><circle cx="646.04" cy="357.02" r="1.45"/><circle cx="647.66" cy="363.76" r="1.45"/><circle cx="645.1" cy="313.89" r="1.45"/><circle cx="634.15" cy="384.39" r="1.45"/><circle cx="650.31" cy="357.63" r="1.45"/><circle cx="657.99" cy="326.52" r="1.45"/><circle cx="634.33" cy="302.32" r="1.45"/><circle cx="646.6" cy="316.69" r="1.45"/><circle cx="645.89" cy="320.76" r="1.45"/><circle cx="639.61" cy="372.68" r="1.45"/><circle cx="649.68" cy="352.44" r="1.45"/><circle cx="644.1" cy="376.75" r="1.45"/><circle cx="645.58" cy="356.7" r="1.45"/><circle cx="640.32" cy="368.95" r="1.45"/><circle cx="634.39" cy="383.71" r="1.45"/><circle cx="648.41" cy="324.24" r="1.45"/><circle cx="658.49" cy="336.86" r="1.45"/><circle cx="642.04" cy="377.23" r="1.45"/><circle cx="641.56" cy="366.18" r="1.45"/><circle cx="650.42" cy="330.27" r="1.45"/><circle cx="662.03" cy="340.13" r="1.45"/><circle cx="629.05" cy="389.64" r="1.45"/><circle cx="639.6" cy="386.88" r="1.45"/><circle cx="655.76" cy="342.56" r="1.45"/><circle cx="640.12" cy="371.04" r="1.45"/><circle cx="659.18" cy="356.19" r="1.45"/><circle cx="644.4" cy="379.47" r="1.45"/><circle cx="648.93" cy="309.46" r="1.45"/><circle cx="664.29" cy="344.81" r="1.45"/><circle cx="649.19" cy="316.69" r="1.45"/><circle cx="652.99" cy="312.61" r="1.45"/><circle cx="640.82" cy="365.59" r="1.45"/><circle cx="648.79" cy="329.24" r="1.45"/><circle cx="647.62" cy="357.92" r="1.45"/><circle cx="660.16" cy="307.51" r="1.45"/><circle cx="632.82" cy="386.94" r="1.45"/><circle cx="648.4" cy="352.53" r="1.45"/><circle cx="647.34" cy="355.34" r="1.45"/><circle cx="657.2" cy="340.78" r="1.45"/><circle cx="647.08" cy="318.41" r="1.45"/><circle cx="640.78" cy="369.2" r="1.45"/><circle cx="656.5" cy="308.05" r="1.45"/><circle cx="646.96" cy="316.04" r="1.45"/><circle cx="649.9" cy="329.59" r="1.45"/><circle cx="653.23" cy="333.02" r="1.45"/><circle cx="646.72" cy="312.21" r="1.45"/><circle cx="638.72" cy="306.49" r="1.45"/><circle cx="647.3" cy="319.79" r="1.45"/><circle cx="650.32" cy="332.05" r="1.45"/><circle cx="641.9" cy="375.64" r="1.45"/><circle cx="657.83" cy="343.64" r="1.45"/><circle cx="642.75" cy="362.36" r="1.45"/><circle cx="649.97" cy="356.2" r="1.45"/><circle cx="652.39" cy="349.02" r="1.45"/><circle cx="653.5" cy="357.69" r="1.45"/><circle cx="654.78" cy="325.24" r="1.45"/><circle cx="632.65" cy="387.96" r="1.45"/><circle cx="634.89" cy="381.66" r="1.45"/><circle cx="641.77" cy="365.67" r="1.45"/><circle cx="642.1" cy="368.03" r="1.45"/><circle cx="648.5" cy="349.08" r="1.45"/><circle cx="660.85" cy="324.62" r="1.45"/><circle cx="647.16" cy="358.61" r="1.45"/><circle cx="643.8" cy="312.18" r="1.45"/><circle cx="631.39" cy="387.19" r="1.45"/><circle cx="651.67" cy="349.33" r="1.45"/><circle cx="650.33" cy="346.92" r="1.45"/><circle cx="635.78" cy="387.38" r="1.45"/><circle cx="650.25" cy="322.86" r="1.45"/><circle cx="655.56" cy="338.93" r="1.45"/><circle cx="642.95" cy="361.4" r="1.45"/><circle cx="643.27" cy="362.93" r="1.45"/><circle cx="636.57" cy="303.34" r="1.45"/><circle cx="649.19" cy="335.16" r="1.45"/><circle cx="659.2" cy="361.02" r="1.45"/><circle cx="636.39" cy="383.97" r="1.45"/><circle cx="639.49" cy="377.44" r="1.45"/><circle cx="654.18" cy="353.62" r="1.45"/><circle cx="641.98" cy="307.25" r="1.45"/><circle cx="650.59" cy="334.92" r="1.45"/><circle cx="647.91" cy="339.65" r="1.45"/><circle cx="652.65" cy="361.76" r="1.45"/><circle cx="647.68" cy="322.61" r="1.45"/><circle cx="659.11" cy="331.45" r="1.45"/><circle cx="656.36" cy="321.93" r="1.45"/><circle cx="650.24" cy="317.2" r="1.45"/><circle cx="644.66" cy="365.46" r="1.45"/><circle cx="662.11" cy="309.43" r="1.45"/><circle cx="639.91" cy="376.62" r="1.45"/><circle cx="640.23" cy="377.63" r="1.45"/><circle cx="647.25" cy="316.83" r="1.45"/><circle cx="640.71" cy="374.23" r="1.45"/><circle cx="638.69" cy="305.69" r="1.45"/><circle cx="650.76" cy="318.39" r="1.45"/><circle cx="645.75" cy="358.65" r="1.45"/><circle cx="670.54" cy="337.53" r="1.45"/><circle cx="655.71" cy="332.17" r="1.45"/><circle cx="650.55" cy="320" r="1.45"/><circle cx="645.1" cy="317.81" r="1.45"/><circle cx="648.8" cy="331.63" r="1.45"/><circle cx="655.03" cy="335.54" r="1.45"/></g>
<rect x="534.4" y="249.4" width="148.3" height="202.8" fill="none" stroke="#8a8a8a" stroke-width="1"/>
<line x1="532.1" y1="266.8" x2="534.4" y2="266.8" stroke="#333333" stroke-width="1.1"/>
<text x="530.1" y="269.7" font-size="9.0" text-anchor="end" fill="#111111" stroke="#111111" stroke-width="0.2">2</text>
<line x1="532.1" y1="309.4" x2="534.4" y2="309.4" stroke="#333333" stroke-width="1.1"/>
<text x="530.1" y="312.3" font-size="9.0" text-anchor="end" fill="#111111" stroke="#111111" stroke-width="0.2">1</text>
<line x1="532.1" y1="352" x2="534.4" y2="352" stroke="#333333" stroke-width="1.1"/>
<text x="530.1" y="354.9" font-size="9.0" text-anchor="end" fill="#111111" stroke="#111111" stroke-width="0.2">0</text>
<line x1="532.1" y1="394.6" x2="534.4" y2="394.6" stroke="#333333" stroke-width="1.1"/>
<text x="530.1" y="397.5" font-size="9.0" text-anchor="end" fill="#111111" stroke="#111111" stroke-width="0.2">−1</text>
<line x1="532.1" y1="437.2" x2="534.4" y2="437.2" stroke="#333333" stroke-width="1.1"/>
<text x="530.1" y="440.1" font-size="9.0" text-anchor="end" fill="#111111" stroke="#111111" stroke-width="0.2">−2</text>
<line x1="541.8" y1="452.2" x2="541.8" y2="454.5" stroke="#333333" stroke-width="1.1"/>
<text x="541.8" y="463.8" font-size="9.0" text-anchor="middle" fill="#111111" stroke="#111111" stroke-width="0.2">−50</text>
<line x1="569.5" y1="452.2" x2="569.5" y2="454.5" stroke="#333333" stroke-width="1.1"/>
<text x="569.5" y="463.8" font-size="9.0" text-anchor="middle" fill="#111111" stroke="#111111" stroke-width="0.2">−25</text>
<line x1="597.2" y1="452.2" x2="597.2" y2="454.5" stroke="#333333" stroke-width="1.1"/>
<text x="597.2" y="463.8" font-size="9.0" text-anchor="middle" fill="#111111" stroke="#111111" stroke-width="0.2">0</text>
<line x1="624.9" y1="452.2" x2="624.9" y2="454.5" stroke="#333333" stroke-width="1.1"/>
<text x="624.9" y="463.8" font-size="9.0" text-anchor="middle" fill="#111111" stroke="#111111" stroke-width="0.2">25</text>
<line x1="652.6" y1="452.2" x2="652.6" y2="454.5" stroke="#333333" stroke-width="1.1"/>
<text x="652.6" y="463.8" font-size="9.0" text-anchor="middle" fill="#111111" stroke="#111111" stroke-width="0.2">50</text>
<line x1="680.3" y1="452.2" x2="680.3" y2="454.5" stroke="#333333" stroke-width="1.1"/>
<text x="680.3" y="463.8" font-size="9.0" text-anchor="middle" fill="#111111" stroke="#111111" stroke-width="0.2">75</text>
<text x="608.55" y="473.8" font-size="9.3" text-anchor="middle" fill="#111111" stroke="#111111" stroke-width="0.2">Age dispersion effect</text>
<text transform="translate(516.5,350.8) rotate(-90) scale(1 1.0)" font-size="9.3" text-anchor="middle" fill="#111111" stroke="#111111" stroke-width="0.2">Age direct effect</text>
<text x="507" y="247.1" font-size="16" text-anchor="start" fill="#000" font-weight="bold">h</text>
<rect x="269.6" y="502.2" width="98.8" height="196.2" fill="#fff" stroke="none" stroke-width="1"/>
<line x1="273.4" y1="502.2" x2="273.4" y2="698.4" stroke="#ebebeb" stroke-width="1"/>
<line x1="296.15" y1="502.2" x2="296.15" y2="698.4" stroke="#ebebeb" stroke-width="1"/>
<line x1="318.9" y1="502.2" x2="318.9" y2="698.4" stroke="#ebebeb" stroke-width="1"/>
<line x1="341.65" y1="502.2" x2="341.65" y2="698.4" stroke="#ebebeb" stroke-width="1"/>
<line x1="364.4" y1="502.2" x2="364.4" y2="698.4" stroke="#ebebeb" stroke-width="1"/>
<line x1="269.6" y1="511.6" x2="368.4" y2="511.6" stroke="#ebebeb" stroke-width="1"/>
<line x1="269.6" y1="527.8" x2="368.4" y2="527.8" stroke="#ebebeb" stroke-width="1"/>
<line x1="269.6" y1="544" x2="368.4" y2="544" stroke="#ebebeb" stroke-width="1"/>
<line x1="269.6" y1="560.2" x2="368.4" y2="560.2" stroke="#ebebeb" stroke-width="1"/>
<line x1="269.6" y1="576.4" x2="368.4" y2="576.4" stroke="#ebebeb" stroke-width="1"/>
<line x1="269.6" y1="592.6" x2="368.4" y2="592.6" stroke="#ebebeb" stroke-width="1"/>
<line x1="269.6" y1="608.8" x2="368.4" y2="608.8" stroke="#ebebeb" stroke-width="1"/>
<line x1="269.6" y1="625" x2="368.4" y2="625" stroke="#ebebeb" stroke-width="1"/>
<line x1="269.6" y1="641.2" x2="368.4" y2="641.2" stroke="#ebebeb" stroke-width="1"/>
<line x1="269.6" y1="657.4" x2="368.4" y2="657.4" stroke="#ebebeb" stroke-width="1"/>
<line x1="269.6" y1="673.6" x2="368.4" y2="673.6" stroke="#ebebeb" stroke-width="1"/>
<line x1="269.6" y1="689.8" x2="368.4" y2="689.8" stroke="#ebebeb" stroke-width="1"/>
<line x1="282.6" y1="502.2" x2="282.6" y2="698.4" stroke="#1a1a1a" stroke-width="2"/>
<line x1="273.8" y1="511.6" x2="275.4" y2="511.6" stroke="#2171b5" stroke-width="0.9"/>
<line x1="273.8" y1="510" x2="273.8" y2="513.2" stroke="#2171b5" stroke-width="0.9"/>
<line x1="275.4" y1="510" x2="275.4" y2="513.2" stroke="#2171b5" stroke-width="0.9"/>
<circle cx="274.6" cy="511.6" r="1.7" fill="#2171b5"/>
<line x1="285.6" y1="527.8" x2="288.4" y2="527.8" stroke="#9ecae1" stroke-width="0.9"/>
<line x1="285.6" y1="526.2" x2="285.6" y2="529.4" stroke="#9ecae1" stroke-width="0.9"/>
<line x1="288.4" y1="526.2" x2="288.4" y2="529.4" stroke="#9ecae1" stroke-width="0.9"/>
<circle cx="287" cy="527.8" r="1.7" fill="#9ecae1"/>
<line x1="307.4" y1="527.8" x2="315.8" y2="527.8" stroke="#2171b5" stroke-width="0.9"/>
<line x1="307.4" y1="526.2" x2="307.4" y2="529.4" stroke="#2171b5" stroke-width="0.9"/>
<line x1="315.8" y1="526.2" x2="315.8" y2="529.4" stroke="#2171b5" stroke-width="0.9"/>
<circle cx="311" cy="527.8" r="1.7" fill="#2171b5"/>
<circle cx="274.6" cy="544" r="1.7" fill="#9ecae1"/>
<line x1="280.6" y1="544" x2="285.4" y2="544" stroke="#2171b5" stroke-width="0.9"/>
<line x1="280.6" y1="542.4" x2="280.6" y2="545.6" stroke="#2171b5" stroke-width="0.9"/>
<line x1="285.4" y1="542.4" x2="285.4" y2="545.6" stroke="#2171b5" stroke-width="0.9"/>
<circle cx="282.6" cy="544" r="1.7" fill="#2171b5"/>
<line x1="277.6" y1="560.2" x2="281" y2="560.2" stroke="#2171b5" stroke-width="0.9"/>
<line x1="277.6" y1="558.6" x2="277.6" y2="561.8" stroke="#2171b5" stroke-width="0.9"/>
<line x1="281" y1="558.6" x2="281" y2="561.8" stroke="#2171b5" stroke-width="0.9"/>
<circle cx="279.2" cy="560.2" r="1.7" fill="#2171b5"/>
<circle cx="283.6" cy="576.4" r="1.7" fill="#9ecae1"/>
<line x1="279.4" y1="576.4" x2="282" y2="576.4" stroke="#2171b5" stroke-width="0.9"/>
<line x1="279.4" y1="574.8" x2="279.4" y2="578" stroke="#2171b5" stroke-width="0.9"/>
<line x1="282" y1="574.8" x2="282" y2="578" stroke="#2171b5" stroke-width="0.9"/>
<circle cx="280.6" cy="576.4" r="1.7" fill="#2171b5"/>
<line x1="286.4" y1="592.6" x2="292.6" y2="592.6" stroke="#9ecae1" stroke-width="0.9"/>
<line x1="286.4" y1="591" x2="286.4" y2="594.2" stroke="#9ecae1" stroke-width="0.9"/>
<line x1="292.6" y1="591" x2="292.6" y2="594.2" stroke="#9ecae1" stroke-width="0.9"/>
<circle cx="289.4" cy="592.6" r="1.7" fill="#9ecae1"/>
<line x1="331" y1="592.6" x2="355.6" y2="592.6" stroke="#2171b5" stroke-width="0.9"/>
<line x1="331" y1="591" x2="331" y2="594.2" stroke="#2171b5" stroke-width="0.9"/>
<line x1="355.6" y1="591" x2="355.6" y2="594.2" stroke="#2171b5" stroke-width="0.9"/>
<circle cx="342.4" cy="592.6" r="1.7" fill="#2171b5"/>
<line x1="299.4" y1="608.8" x2="303.6" y2="608.8" stroke="#9ecae1" stroke-width="0.9"/>
<line x1="299.4" y1="607.2" x2="299.4" y2="610.4" stroke="#9ecae1" stroke-width="0.9"/>
<line x1="303.6" y1="607.2" x2="303.6" y2="610.4" stroke="#9ecae1" stroke-width="0.9"/>
<circle cx="301.6" cy="608.8" r="1.7" fill="#9ecae1"/>
<line x1="347.8" y1="608.8" x2="364" y2="608.8" stroke="#2171b5" stroke-width="0.9"/>
<line x1="347.8" y1="607.2" x2="347.8" y2="610.4" stroke="#2171b5" stroke-width="0.9"/>
<line x1="364" y1="607.2" x2="364" y2="610.4" stroke="#2171b5" stroke-width="0.9"/>
<circle cx="355.4" cy="608.8" r="1.7" fill="#2171b5"/>
<circle cx="282" cy="625" r="1.7" fill="#9ecae1"/>
<line x1="274.4" y1="625" x2="281.6" y2="625" stroke="#2171b5" stroke-width="0.9"/>
<line x1="274.4" y1="623.4" x2="274.4" y2="626.6" stroke="#2171b5" stroke-width="0.9"/>
<line x1="281.6" y1="623.4" x2="281.6" y2="626.6" stroke="#2171b5" stroke-width="0.9"/>
<circle cx="276.6" cy="625" r="1.7" fill="#2171b5"/>
<line x1="273.4" y1="641.2" x2="276.4" y2="641.2" stroke="#2171b5" stroke-width="0.9"/>
<line x1="273.4" y1="639.6" x2="273.4" y2="642.8" stroke="#2171b5" stroke-width="0.9"/>
<line x1="276.4" y1="639.6" x2="276.4" y2="642.8" stroke="#2171b5" stroke-width="0.9"/>
<circle cx="274.4" cy="641.2" r="1.7" fill="#2171b5"/>
<circle cx="275" cy="657.4" r="1.7" fill="#9ecae1"/>
<circle cx="274" cy="657.4" r="1.7" fill="#2171b5"/>
<line x1="278.6" y1="673.6" x2="280.6" y2="673.6" stroke="#9ecae1" stroke-width="0.9"/>
<line x1="278.6" y1="672" x2="278.6" y2="675.2" stroke="#9ecae1" stroke-width="0.9"/>
<line x1="280.6" y1="672" x2="280.6" y2="675.2" stroke="#9ecae1" stroke-width="0.9"/>
<circle cx="279.6" cy="673.6" r="1.7" fill="#9ecae1"/>
<circle cx="274.4" cy="673.6" r="1.7" fill="#2171b5"/>
<line x1="285.4" y1="689.8" x2="287.4" y2="689.8" stroke="#9ecae1" stroke-width="0.9"/>
<line x1="285.4" y1="688.2" x2="285.4" y2="691.4" stroke="#9ecae1" stroke-width="0.9"/>
<line x1="287.4" y1="688.2" x2="287.4" y2="691.4" stroke="#9ecae1" stroke-width="0.9"/>
<circle cx="286.4" cy="689.8" r="1.7" fill="#9ecae1"/>
<line x1="274.4" y1="689.8" x2="276" y2="689.8" stroke="#2171b5" stroke-width="0.9"/>
<line x1="274.4" y1="688.2" x2="274.4" y2="691.4" stroke="#2171b5" stroke-width="0.9"/>
<line x1="276" y1="688.2" x2="276" y2="691.4" stroke="#2171b5" stroke-width="0.9"/>
<circle cx="275.2" cy="689.8" r="1.7" fill="#2171b5"/>
<rect x="269.6" y="502.2" width="98.8" height="196.2" fill="none" stroke="#8a8a8a" stroke-width="1"/>
<line x1="267.3" y1="511.6" x2="269.6" y2="511.6" stroke="#333333" stroke-width="1.1"/>
<text transform="matrix(1 0 0 1.12 265 514.8)" font-size="8.1" text-anchor="end" fill="#111111" stroke="#111111" stroke-width="0.2">TSS</text>
<line x1="267.3" y1="527.8" x2="269.6" y2="527.8" stroke="#333333" stroke-width="1.1"/>
<text transform="matrix(1 0 0 1.12 265 531)" font-size="8.1" text-anchor="end" fill="#111111" stroke="#111111" stroke-width="0.2">Fl. TSS</text>
<line x1="267.3" y1="544" x2="269.6" y2="544" stroke="#333333" stroke-width="1.1"/>
<text transform="matrix(1 0 0 1.12 265 547.2)" font-size="8.1" text-anchor="end" fill="#111111" stroke="#111111" stroke-width="0.2">Transcr. at 5′ and 3′</text>
<line x1="267.3" y1="560.2" x2="269.6" y2="560.2" stroke="#333333" stroke-width="1.1"/>
<text transform="matrix(1 0 0 1.12 265 563.4)" font-size="8.1" text-anchor="end" fill="#111111" stroke="#111111" stroke-width="0.2">Strong transcr.</text>
<line x1="267.3" y1="576.4" x2="269.6" y2="576.4" stroke="#333333" stroke-width="1.1"/>
<text transform="matrix(1 0 0 1.12 265 579.6)" font-size="8.1" text-anchor="end" fill="#111111" stroke="#111111" stroke-width="0.2">Weak transcr.</text>
<line x1="267.3" y1="592.6" x2="269.6" y2="592.6" stroke="#333333" stroke-width="1.1"/>
<text transform="matrix(1 0 0 1.12 265 595.8)" font-size="8.1" text-anchor="end" fill="#111111" stroke="#111111" stroke-width="0.2">Genic enhancers</text>
<line x1="267.3" y1="608.8" x2="269.6" y2="608.8" stroke="#333333" stroke-width="1.1"/>
<text transform="matrix(1 0 0 1.12 265 612)" font-size="8.1" text-anchor="end" fill="#111111" stroke="#111111" stroke-width="0.2">Enhancers</text>
<line x1="267.3" y1="625" x2="269.6" y2="625" stroke="#333333" stroke-width="1.1"/>
<text transform="matrix(1 0 0 1.12 265 628.2)" font-size="8.1" text-anchor="end" fill="#111111" stroke="#111111" stroke-width="0.2">Heterochromatin</text>
<line x1="267.3" y1="641.2" x2="269.6" y2="641.2" stroke="#333333" stroke-width="1.1"/>
<text transform="matrix(1 0 0 1.12 265 644.4)" font-size="8.1" text-anchor="end" fill="#111111" stroke="#111111" stroke-width="0.2">Bivalent Enhancer</text>
<line x1="267.3" y1="657.4" x2="269.6" y2="657.4" stroke="#333333" stroke-width="1.1"/>
<text transform="matrix(1 0 0 1.12 265 660.6)" font-size="8.1" text-anchor="end" fill="#111111" stroke="#111111" stroke-width="0.2">Repressed PC</text>
<line x1="267.3" y1="673.6" x2="269.6" y2="673.6" stroke="#333333" stroke-width="1.1"/>
<text transform="matrix(1 0 0 1.12 265 676.8)" font-size="8.1" text-anchor="end" fill="#111111" stroke="#111111" stroke-width="0.2">Weak Repressed PC</text>
<line x1="267.3" y1="689.8" x2="269.6" y2="689.8" stroke="#333333" stroke-width="1.1"/>
<text transform="matrix(1 0 0 1.12 265 693)" font-size="8.1" text-anchor="end" fill="#111111" stroke="#111111" stroke-width="0.2">Quiescent</text>
<line x1="273.4" y1="698.4" x2="273.4" y2="700.7" stroke="#333333" stroke-width="1.1"/>
<text x="273.4" y="710" font-size="9.0" text-anchor="middle" fill="#111111" stroke="#111111" stroke-width="0.2">0.0</text>
<line x1="296.15" y1="698.4" x2="296.15" y2="700.7" stroke="#333333" stroke-width="1.1"/>
<text x="296.15" y="710" font-size="9.0" text-anchor="middle" fill="#111111" stroke="#111111" stroke-width="0.2">2.5</text>
<line x1="318.9" y1="698.4" x2="318.9" y2="700.7" stroke="#333333" stroke-width="1.1"/>
<text x="318.9" y="710" font-size="9.0" text-anchor="middle" fill="#111111" stroke="#111111" stroke-width="0.2">5.0</text>
<line x1="341.65" y1="698.4" x2="341.65" y2="700.7" stroke="#333333" stroke-width="1.1"/>
<text x="341.65" y="710" font-size="9.0" text-anchor="middle" fill="#111111" stroke="#111111" stroke-width="0.2">7.5</text>
<line x1="364.4" y1="698.4" x2="364.4" y2="700.7" stroke="#333333" stroke-width="1.1"/>
<text x="364.4" y="710" font-size="9.0" text-anchor="middle" fill="#111111" stroke="#111111" stroke-width="0.2">10.0</text>
<text x="322.4" y="722.7" font-size="9.3" text-anchor="middle" fill="#111111" stroke="#111111" stroke-width="0.2">Odds ratio</text>
<text x="323" y="675.4" font-size="9.3" text-anchor="start" fill="#111111" stroke="#111111" stroke-width="0.2">Direction</text>
<circle cx="339.6" cy="682.6" r="1.8" fill="#9ecae1"/>
<text transform="matrix(1 0 0 1.12 345 685.6)" font-size="8.5" text-anchor="start" fill="#111111" stroke="#111111" stroke-width="0.2">&lt; 0</text>
<circle cx="339.6" cy="690" r="1.8" fill="#2171b5"/>
<text transform="matrix(1 0 0 1.12 345 693)" font-size="8.5" text-anchor="start" fill="#111111" stroke="#111111" stroke-width="0.2">&gt; 0</text>
<text x="241.5" y="496.6" font-size="16" text-anchor="start" fill="#000" font-weight="bold">i</text>
<rect x="375.6" y="502.2" width="111.8" height="196.2" fill="#fff" stroke="none" stroke-width="1"/>
<line x1="402.5" y1="502.2" x2="402.5" y2="698.4" stroke="#ebebeb" stroke-width="1"/>
<line x1="430.4" y1="502.2" x2="430.4" y2="698.4" stroke="#ebebeb" stroke-width="1"/>
<line x1="458.3" y1="502.2" x2="458.3" y2="698.4" stroke="#ebebeb" stroke-width="1"/>
<line x1="486.2" y1="502.2" x2="486.2" y2="698.4" stroke="#ebebeb" stroke-width="1"/>
<line x1="375.6" y1="511.6" x2="487.4" y2="511.6" stroke="#ebebeb" stroke-width="1"/>
<line x1="375.6" y1="527.8" x2="487.4" y2="527.8" stroke="#ebebeb" stroke-width="1"/>
<line x1="375.6" y1="544" x2="487.4" y2="544" stroke="#ebebeb" stroke-width="1"/>
<line x1="375.6" y1="560.2" x2="487.4" y2="560.2" stroke="#ebebeb" stroke-width="1"/>
<line x1="375.6" y1="576.4" x2="487.4" y2="576.4" stroke="#ebebeb" stroke-width="1"/>
<line x1="375.6" y1="592.6" x2="487.4" y2="592.6" stroke="#ebebeb" stroke-width="1"/>
<line x1="375.6" y1="608.8" x2="487.4" y2="608.8" stroke="#ebebeb" stroke-width="1"/>
<line x1="375.6" y1="625" x2="487.4" y2="625" stroke="#ebebeb" stroke-width="1"/>
<line x1="375.6" y1="641.2" x2="487.4" y2="641.2" stroke="#ebebeb" stroke-width="1"/>
<line x1="375.6" y1="657.4" x2="487.4" y2="657.4" stroke="#ebebeb" stroke-width="1"/>
<line x1="375.6" y1="673.6" x2="487.4" y2="673.6" stroke="#ebebeb" stroke-width="1"/>
<line x1="375.6" y1="689.8" x2="487.4" y2="689.8" stroke="#ebebeb" stroke-width="1"/>
<line x1="389" y1="511.6" x2="464.6" y2="511.6" stroke="#2171b5" stroke-width="0.9"/>
<polygon points="392,511.6 393.19,511.6 394.38,511.6 395.56,511.6 396.75,511.59 397.94,511.58 399.12,511.55 400.31,511.5 401.5,511.41 402.69,511.26 403.88,511.02 405.06,510.66 406.25,510.16 407.44,509.52 408.62,508.76 409.81,507.96 411,507.18 412.19,506.53 413.38,506.12 414.56,506 415.75,506.2 416.94,506.69 418.12,507.38 419.31,508.18 420.5,508.98 421.69,509.71 422.88,510.31 424.06,510.77 425.25,511.09 426.44,511.31 427.62,511.44 428.81,511.52 430,511.56 430,511.64 428.81,511.68 427.62,511.76 426.44,511.89 425.25,512.11 424.06,512.43 422.88,512.89 421.69,513.49 420.5,514.22 419.31,515.02 418.12,515.82 416.94,516.51 415.75,517 414.56,517.2 413.38,517.08 412.19,516.67 411,516.02 409.81,515.24 408.62,514.44 407.44,513.68 406.25,513.04 405.06,512.54 403.88,512.18 402.69,511.94 401.5,511.79 400.31,511.7 399.12,511.65 397.94,511.62 396.75,511.61 395.56,511.6 394.38,511.6 393.19,511.6 392,511.6" fill="#fff" stroke="#2171b5" stroke-width="0.85" stroke-linejoin="round"/>
<polygon points="430,511.57 431.06,511.55 432.12,511.53 433.19,511.48 434.25,511.43 435.31,511.35 436.38,511.25 437.44,511.12 438.5,510.98 439.56,510.81 440.62,510.64 441.69,510.48 442.75,510.33 443.81,510.21 444.88,510.13 445.94,510.1 447,510.12 448.06,510.2 449.12,510.31 450.19,510.46 451.25,510.62 452.31,510.8 453.38,510.96 454.44,511.11 455.5,511.23 456.56,511.34 457.62,511.42 458.69,511.48 459.75,511.52 460.81,511.55 461.88,511.57 462.94,511.58 464,511.59 464,511.61 462.94,511.62 461.88,511.63 460.81,511.65 459.75,511.68 458.69,511.72 457.62,511.78 456.56,511.86 455.5,511.97 454.44,512.09 453.38,512.24 452.31,512.4 451.25,512.58 450.19,512.74 449.12,512.89 448.06,513 447,513.08 445.94,513.1 444.88,513.07 443.81,512.99 442.75,512.87 441.69,512.72 440.62,512.56 439.56,512.39 438.5,512.22 437.44,512.08 436.38,511.95 435.31,511.85 434.25,511.77 433.19,511.72 432.12,511.67 431.06,511.65 430,511.63" fill="#fff" stroke="#2171b5" stroke-width="0.85" stroke-linejoin="round"/>
<line x1="384.4" y1="527.8" x2="468.6" y2="527.8" stroke="#2171b5" stroke-width="0.9"/>
<polygon points="388,527.8 389.31,527.8 390.62,527.8 391.94,527.8 393.25,527.8 394.56,527.8 395.88,527.79 397.19,527.78 398.5,527.76 399.81,527.72 401.12,527.63 402.44,527.47 403.75,527.21 405.06,526.82 406.38,526.27 407.69,525.58 409,524.8 410.31,524.01 411.62,523.34 412.94,522.91 414.25,522.81 415.56,523.04 416.88,523.58 418.19,524.3 419.5,525.1 420.81,525.86 422.12,526.5 423.44,526.99 424.75,527.33 426.06,527.54 427.38,527.67 428.69,527.74 430,527.77 430,527.83 428.69,527.86 427.38,527.93 426.06,528.06 424.75,528.27 423.44,528.61 422.12,529.1 420.81,529.74 419.5,530.5 418.19,531.3 416.88,532.02 415.56,532.56 414.25,532.79 412.94,532.69 411.62,532.26 410.31,531.59 409,530.8 407.69,530.02 406.38,529.33 405.06,528.78 403.75,528.39 402.44,528.13 401.12,527.97 399.81,527.88 398.5,527.84 397.19,527.82 395.88,527.81 394.56,527.8 393.25,527.8 391.94,527.8 390.62,527.8 389.31,527.8 388,527.8" fill="#fff" stroke="#2171b5" stroke-width="0.85" stroke-linejoin="round"/>
<polygon points="430,527.78 431.12,527.77 432.25,527.75 433.38,527.71 434.5,527.66 435.62,527.58 436.75,527.47 437.88,527.34 439,527.17 440.12,526.99 441.25,526.8 442.38,526.61 443.5,526.46 444.62,526.35 445.75,526.3 446.88,526.32 448,526.4 449.12,526.54 450.25,526.71 451.38,526.9 452.5,527.09 453.62,527.27 454.75,527.42 455.88,527.54 457,527.63 458.12,527.69 459.25,527.73 460.38,527.76 461.5,527.78 462.62,527.79 463.75,527.79 464.88,527.8 466,527.8 466,527.8 464.88,527.8 463.75,527.81 462.62,527.81 461.5,527.82 460.38,527.84 459.25,527.87 458.12,527.91 457,527.97 455.88,528.06 454.75,528.18 453.62,528.33 452.5,528.51 451.38,528.7 450.25,528.89 449.12,529.06 448,529.2 446.88,529.28 445.75,529.3 444.62,529.25 443.5,529.14 442.38,528.99 441.25,528.8 440.12,528.61 439,528.43 437.88,528.26 436.75,528.13 435.62,528.02 434.5,527.94 433.38,527.89 432.25,527.85 431.12,527.83 430,527.82" fill="#fff" stroke="#2171b5" stroke-width="0.85" stroke-linejoin="round"/>
<line x1="397.4" y1="544" x2="470" y2="544" stroke="#2171b5" stroke-width="0.9"/>
<polygon points="398,543.83 399,543.79 400,543.74 401,543.69 402,543.63 403,543.57 404,543.5 405,543.43 406,543.36 407,543.29 408,543.22 409,543.16 410,543.11 411,543.06 412,543.03 413,543.01 414,543 415,543.01 416,543.03 417,543.06 418,543.11 419,543.16 420,543.22 421,543.29 422,543.36 423,543.43 424,543.5 425,543.57 426,543.63 427,543.69 428,543.74 429,543.79 430,543.83 430,544.17 429,544.21 428,544.26 427,544.31 426,544.37 425,544.43 424,544.5 423,544.57 422,544.64 421,544.71 420,544.78 419,544.84 418,544.89 417,544.94 416,544.97 415,544.99 414,545 413,544.99 412,544.97 411,544.94 410,544.89 409,544.84 408,544.78 407,544.71 406,544.64 405,544.57 404,544.5 403,544.43 402,544.37 401,544.31 400,544.26 399,544.21 398,544.17" fill="#fff" stroke="#2171b5" stroke-width="0.85" stroke-linejoin="round"/>
<polygon points="430,543.87 431.19,543.8 432.38,543.7 433.56,543.56 434.75,543.37 435.94,543.14 437.12,542.87 438.31,542.55 439.5,542.22 440.69,541.88 441.88,541.57 443.06,541.3 444.25,541.11 445.44,541.01 446.62,541.01 447.81,541.12 449,541.32 450.19,541.58 451.38,541.9 452.56,542.24 453.75,542.57 454.94,542.88 456.12,543.15 457.31,543.38 458.5,543.56 459.69,543.7 460.88,543.8 462.06,543.88 463.25,543.92 464.44,543.95 465.62,543.97 466.81,543.99 468,543.99 468,544.01 466.81,544.01 465.62,544.03 464.44,544.05 463.25,544.08 462.06,544.12 460.88,544.2 459.69,544.3 458.5,544.44 457.31,544.62 456.12,544.85 454.94,545.12 453.75,545.43 452.56,545.76 451.38,546.1 450.19,546.42 449,546.68 447.81,546.88 446.62,546.99 445.44,546.99 444.25,546.89 443.06,546.7 441.88,546.43 440.69,546.12 439.5,545.78 438.31,545.45 437.12,545.13 435.94,544.86 434.75,544.63 433.56,544.44 432.38,544.3 431.19,544.2 430,544.13" fill="#fff" stroke="#2171b5" stroke-width="0.85" stroke-linejoin="round"/>
<line x1="392" y1="560.2" x2="475.6" y2="560.2" stroke="#2171b5" stroke-width="0.9"/>
<polygon points="394,560.19 395.12,560.19 396.25,560.18 397.38,560.16 398.5,560.13 399.62,560.08 400.75,560.01 401.88,559.9 403,559.75 404.12,559.55 405.25,559.29 406.38,558.99 407.5,558.65 408.62,558.29 409.75,557.94 410.88,557.62 412,557.38 413.12,557.24 414.25,557.2 415.38,557.29 416.5,557.48 417.62,557.76 418.75,558.09 419.88,558.45 421,558.8 422.12,559.13 423.25,559.41 424.38,559.64 425.5,559.82 426.62,559.95 427.75,560.04 428.88,560.11 430,560.15 430,560.25 428.88,560.29 427.75,560.36 426.62,560.45 425.5,560.58 424.38,560.76 423.25,560.99 422.12,561.27 421,561.6 419.88,561.95 418.75,562.31 417.62,562.64 416.5,562.92 415.38,563.11 414.25,563.2 413.12,563.16 412,563.02 410.88,562.78 409.75,562.46 408.62,562.11 407.5,561.75 406.38,561.41 405.25,561.11 404.12,560.85 403,560.65 401.88,560.5 400.75,560.39 399.62,560.32 398.5,560.27 397.38,560.24 396.25,560.22 395.12,560.21 394,560.21" fill="#fff" stroke="#2171b5" stroke-width="0.85" stroke-linejoin="round"/>
<polygon points="430,559.75 431.31,559.51 432.62,559.2 433.94,558.82 435.25,558.41 436.56,557.99 437.88,557.62 439.19,557.35 440.5,557.21 441.81,557.23 443.12,557.4 444.44,557.71 445.75,558.09 447.06,558.51 448.38,558.92 449.69,559.28 451,559.57 452.31,559.79 453.62,559.95 454.94,560.06 456.25,560.12 457.56,560.16 458.88,560.18 460.19,560.19 461.5,560.2 462.81,560.2 464.12,560.2 465.44,560.2 466.75,560.2 468.06,560.2 469.38,560.2 470.69,560.2 472,560.2 472,560.2 470.69,560.2 469.38,560.2 468.06,560.2 466.75,560.2 465.44,560.2 464.12,560.2 462.81,560.2 461.5,560.2 460.19,560.21 458.88,560.22 457.56,560.24 456.25,560.28 454.94,560.34 453.62,560.45 452.31,560.61 451,560.83 449.69,561.12 448.38,561.48 447.06,561.89 445.75,562.31 444.44,562.69 443.12,563 441.81,563.17 440.5,563.19 439.19,563.05 437.88,562.78 436.56,562.41 435.25,561.99 433.94,561.58 432.62,561.2 431.31,560.89 430,560.65" fill="#fff" stroke="#2171b5" stroke-width="0.85" stroke-linejoin="round"/>
<line x1="384.6" y1="576.4" x2="464" y2="576.4" stroke="#2171b5" stroke-width="0.9"/>
<polygon points="388,576.4 389.31,576.4 390.62,576.4 391.94,576.4 393.25,576.4 394.56,576.39 395.88,576.38 397.19,576.36 398.5,576.32 399.81,576.25 401.12,576.14 402.44,575.97 403.75,575.72 405.06,575.4 406.38,574.99 407.69,574.52 409,574.03 410.31,573.57 411.62,573.2 412.94,572.96 414.25,572.9 415.56,573.03 416.88,573.32 418.19,573.74 419.5,574.22 420.81,574.71 422.12,575.15 423.44,575.53 424.75,575.82 426.06,576.04 427.38,576.19 428.69,576.28 430,576.34 430,576.46 428.69,576.52 427.38,576.61 426.06,576.76 424.75,576.98 423.44,577.27 422.12,577.65 420.81,578.09 419.5,578.58 418.19,579.06 416.88,579.48 415.56,579.77 414.25,579.9 412.94,579.84 411.62,579.6 410.31,579.23 409,578.77 407.69,578.28 406.38,577.81 405.06,577.4 403.75,577.08 402.44,576.83 401.12,576.66 399.81,576.55 398.5,576.48 397.19,576.44 395.88,576.42 394.56,576.41 393.25,576.4 391.94,576.4 390.62,576.4 389.31,576.4 388,576.4" fill="#fff" stroke="#2171b5" stroke-width="0.85" stroke-linejoin="round"/>
<polygon points="430,576.38 431,576.36 432,576.34 433,576.29 434,576.23 435,576.14 436,576.02 437,575.86 438,575.66 439,575.44 440,575.2 441,574.96 442,574.74 443,574.56 444,574.44 445,574.4 446,574.44 447,574.56 448,574.74 449,574.96 450,575.2 451,575.44 452,575.66 453,575.86 454,576.02 455,576.14 456,576.23 457,576.29 458,576.34 459,576.36 460,576.38 461,576.39 462,576.39 462,576.41 461,576.41 460,576.42 459,576.44 458,576.46 457,576.51 456,576.57 455,576.66 454,576.78 453,576.94 452,577.14 451,577.36 450,577.6 449,577.84 448,578.06 447,578.24 446,578.36 445,578.4 444,578.36 443,578.24 442,578.06 441,577.84 440,577.6 439,577.36 438,577.14 437,576.94 436,576.78 435,576.66 434,576.57 433,576.51 432,576.46 431,576.44 430,576.42" fill="#fff" stroke="#2171b5" stroke-width="0.85" stroke-linejoin="round"/>
<line x1="394" y1="592.6" x2="474.4" y2="592.6" stroke="#2171b5" stroke-width="0.9"/>
<polygon points="396,592.53 397.06,592.49 398.12,592.44 399.19,592.36 400.25,592.26 401.31,592.14 402.38,591.98 403.44,591.79 404.5,591.58 405.56,591.34 406.62,591.09 407.69,590.84 408.75,590.6 409.81,590.39 410.88,590.24 411.94,590.13 413,590.1 414.06,590.13 415.12,590.24 416.19,590.39 417.25,590.6 418.31,590.84 419.38,591.09 420.44,591.34 421.5,591.58 422.56,591.79 423.62,591.98 424.69,592.14 425.75,592.26 426.81,592.36 427.88,592.44 428.94,592.49 430,592.53 430,592.67 428.94,592.71 427.88,592.76 426.81,592.84 425.75,592.94 424.69,593.06 423.62,593.22 422.56,593.41 421.5,593.62 420.44,593.86 419.38,594.11 418.31,594.36 417.25,594.6 416.19,594.81 415.12,594.96 414.06,595.07 413,595.1 411.94,595.07 410.88,594.96 409.81,594.81 408.75,594.6 407.69,594.36 406.62,594.11 405.56,593.86 404.5,593.62 403.44,593.41 402.38,593.22 401.31,593.06 400.25,592.94 399.19,592.84 398.12,592.76 397.06,592.71 396,592.67" fill="#fff" stroke="#2171b5" stroke-width="0.85" stroke-linejoin="round"/>
<polygon points="430,592.53 431.31,592.47 432.62,592.37 433.94,592.23 435.25,592.03 436.56,591.78 437.88,591.47 439.19,591.13 440.5,590.78 441.81,590.47 443.12,590.23 444.44,590.11 445.75,590.12 447.06,590.26 448.38,590.51 449.69,590.83 451,591.18 452.31,591.52 453.62,591.82 454.94,592.07 456.25,592.25 457.56,592.39 458.88,592.48 460.19,592.53 461.5,592.56 462.81,592.58 464.12,592.59 465.44,592.6 466.75,592.6 468.06,592.6 469.38,592.6 470.69,592.6 472,592.6 472,592.6 470.69,592.6 469.38,592.6 468.06,592.6 466.75,592.6 465.44,592.6 464.12,592.61 462.81,592.62 461.5,592.64 460.19,592.67 458.88,592.72 457.56,592.81 456.25,592.95 454.94,593.13 453.62,593.38 452.31,593.68 451,594.02 449.69,594.37 448.38,594.69 447.06,594.94 445.75,595.08 444.44,595.09 443.12,594.97 441.81,594.73 440.5,594.42 439.19,594.07 437.88,593.73 436.56,593.42 435.25,593.17 433.94,592.97 432.62,592.83 431.31,592.73 430,592.67" fill="#fff" stroke="#2171b5" stroke-width="0.85" stroke-linejoin="round"/>
<line x1="385" y1="608.8" x2="466" y2="608.8" stroke="#2171b5" stroke-width="0.9"/>
<polygon points="388,608.8 389.31,608.8 390.62,608.8 391.94,608.8 393.25,608.79 394.56,608.78 395.88,608.76 397.19,608.73 398.5,608.67 399.81,608.57 401.12,608.41 402.44,608.19 403.75,607.88 405.06,607.49 406.38,607.04 407.69,606.55 409,606.07 410.31,605.67 411.62,605.4 412.94,605.3 414.25,605.38 415.56,605.64 416.88,606.03 418.19,606.5 419.5,606.99 420.81,607.45 422.12,607.85 423.44,608.16 424.75,608.4 426.06,608.56 427.38,608.66 428.69,608.73 430,608.76 430,608.84 428.69,608.87 427.38,608.94 426.06,609.04 424.75,609.2 423.44,609.44 422.12,609.75 420.81,610.15 419.5,610.61 418.19,611.1 416.88,611.57 415.56,611.96 414.25,612.22 412.94,612.3 411.62,612.2 410.31,611.93 409,611.53 407.69,611.05 406.38,610.56 405.06,610.11 403.75,609.72 402.44,609.41 401.12,609.19 399.81,609.03 398.5,608.93 397.19,608.87 395.88,608.84 394.56,608.82 393.25,608.81 391.94,608.8 390.62,608.8 389.31,608.8 388,608.8" fill="#fff" stroke="#2171b5" stroke-width="0.85" stroke-linejoin="round"/>
<polygon points="430,608.78 431.06,608.76 432.12,608.73 433.19,608.68 434.25,608.61 435.31,608.51 436.38,608.36 437.44,608.18 438.5,607.96 439.56,607.71 440.62,607.45 441.69,607.2 442.75,607 443.81,606.86 444.88,606.8 445.94,606.84 447,606.96 448.06,607.15 449.12,607.39 450.19,607.65 451.25,607.9 452.31,608.13 453.38,608.32 454.44,608.48 455.5,608.59 456.56,608.67 457.62,608.72 458.69,608.76 459.75,608.78 460.81,608.79 461.88,608.79 462.94,608.8 464,608.8 464,608.8 462.94,608.8 461.88,608.81 460.81,608.81 459.75,608.82 458.69,608.84 457.62,608.88 456.56,608.93 455.5,609.01 454.44,609.12 453.38,609.28 452.31,609.47 451.25,609.7 450.19,609.95 449.12,610.21 448.06,610.45 447,610.64 445.94,610.76 444.88,610.8 443.81,610.74 442.75,610.6 441.69,610.4 440.62,610.15 439.56,609.89 438.5,609.64 437.44,609.42 436.38,609.24 435.31,609.09 434.25,608.99 433.19,608.92 432.12,608.87 431.06,608.84 430,608.82" fill="#fff" stroke="#2171b5" stroke-width="0.85" stroke-linejoin="round"/>
<line x1="422.5" y1="625" x2="441" y2="625" stroke="#2171b5" stroke-width="0.9"/>
<polygon points="404.3,621.9 407.3,622.4 409.2,623.1 412.1,620 415.4,617.5 418.2,620 420.6,623.8 422.5,624.8 422.5,625.2 420.6,626.2 418.2,630 415.4,632.5 412.1,630 409.2,626.9 407.3,627.6 404.3,628.1" fill="#fff" stroke="#2171b5" stroke-width="0.85" stroke-linejoin="round"/>
<polygon points="441,624.8 445.3,623 445.3,627 441,625.2" fill="#fff" stroke="#2171b5" stroke-width="0.85" stroke-linejoin="round"/>
<polygon points="406.2,640 406.6,639.1 408,638.7 414,638.6 420,638.9 426,640.2 430.6,640.8 436,639.8 441,638.9 446.4,638.9 447.5,639.9 447.5,642.5 446.4,643.5 441,643.5 436,642.6 430.6,641.6 426,642.2 420,643.5 414,643.8 408,643.7 406.6,643.3 406.2,642.4" fill="#fff" stroke="#2171b5" stroke-width="0.85" stroke-linejoin="round"/>
<polygon points="404,657.1 404.72,657.1 405.44,657.1 406.16,657.03 406.88,656.88 407.59,656.67 408.31,656.42 409.03,656.11 409.75,655.73 410.47,655.31 411.19,654.84 411.91,654.34 412.62,653.83 413.34,653.33 414.06,652.88 414.78,652.5 415.5,652.21 416.22,652.04 416.94,652 417.66,652.09 418.38,652.31 419.09,652.63 419.81,653.04 420.53,653.52 421.25,654.02 421.97,654.53 422.69,655.02 423.41,655.48 424.12,655.88 424.84,656.23 425.56,656.52 426.28,656.76 427,656.94 427,657.86 426.28,658.04 425.56,658.28 424.84,658.57 424.12,658.92 423.41,659.32 422.69,659.78 421.97,660.27 421.25,660.78 420.53,661.28 419.81,661.76 419.09,662.17 418.38,662.49 417.66,662.71 416.94,662.8 416.22,662.76 415.5,662.59 414.78,662.3 414.06,661.92 413.34,661.47 412.62,660.97 411.91,660.46 411.19,659.96 410.47,659.49 409.75,659.07 409.03,658.69 408.31,658.38 407.59,658.13 406.88,657.92 406.16,657.77 405.44,657.7 404.72,657.7 404,657.7" fill="#fff" stroke="#2171b5" stroke-width="0.85" stroke-linejoin="round"/>
<line x1="426" y1="657.4" x2="431" y2="657.4" stroke="#2171b5" stroke-width="0.9"/>
<polygon points="430.6,657.1 434,656.5 438,655.9 449,655.8 451,656.2 451.7,657 451.7,657.8 451,658.6 449,659 438,658.9 434,658.3 430.6,657.7" fill="#fff" stroke="#2171b5" stroke-width="0.85" stroke-linejoin="round"/>
<line x1="380" y1="673.6" x2="482.4" y2="673.6" stroke="#2171b5" stroke-width="0.9"/>
<polygon points="390,673.59 391.25,673.59 392.5,673.57 393.75,673.56 395,673.53 396.25,673.48 397.5,673.4 398.75,673.3 400,673.14 401.25,672.94 402.5,672.67 403.75,672.32 405,671.91 406.25,671.43 407.5,670.9 408.75,670.35 410,669.8 411.25,669.3 412.5,668.88 413.75,668.57 415,668.42 416.25,668.46 417.5,668.9 418.75,669.65 420,670.56 421.25,671.46 422.5,672.21 423.75,672.78 425,673.15 426.25,673.38 427.5,673.5 428.75,673.56 430,673.58 430,673.62 428.75,673.64 427.5,673.7 426.25,673.82 425,674.05 423.75,674.42 422.5,674.99 421.25,675.74 420,676.64 418.75,677.55 417.5,678.3 416.25,678.74 415,678.78 413.75,678.63 412.5,678.32 411.25,677.9 410,677.4 408.75,676.85 407.5,676.3 406.25,675.77 405,675.29 403.75,674.88 402.5,674.53 401.25,674.26 400,674.06 398.75,673.9 397.5,673.8 396.25,673.72 395,673.67 393.75,673.64 392.5,673.63 391.25,673.61 390,673.61" fill="#fff" stroke="#2171b5" stroke-width="0.85" stroke-linejoin="round"/>
<polygon points="430,673.6 431.25,673.59 432.5,673.59 433.75,673.57 435,673.54 436.25,673.48 437.5,673.39 438.75,673.26 440,673.1 441.25,672.92 442.5,672.76 443.75,672.64 445,672.6 446.25,672.64 447.5,672.76 448.75,672.92 450,673.1 451.25,673.26 452.5,673.39 453.75,673.48 455,673.54 456.25,673.57 457.5,673.59 458.75,673.59 460,673.6 461.25,673.6 462.5,673.6 463.75,673.6 465,673.6 466.25,673.6 467.5,673.6 468.75,673.6 470,673.6 470,673.6 468.75,673.6 467.5,673.6 466.25,673.6 465,673.6 463.75,673.6 462.5,673.6 461.25,673.6 460,673.6 458.75,673.61 457.5,673.61 456.25,673.63 455,673.66 453.75,673.72 452.5,673.81 451.25,673.94 450,674.1 448.75,674.28 447.5,674.44 446.25,674.56 445,674.6 443.75,674.56 442.5,674.44 441.25,674.28 440,674.1 438.75,673.94 437.5,673.81 436.25,673.72 435,673.66 433.75,673.63 432.5,673.61 431.25,673.61 430,673.6" fill="#fff" stroke="#2171b5" stroke-width="0.85" stroke-linejoin="round"/>
<line x1="382" y1="689.8" x2="464" y2="689.8" stroke="#2171b5" stroke-width="0.9"/>
<polygon points="390,689.79 391.25,689.78 392.5,689.76 393.75,689.73 395,689.68 396.25,689.59 397.5,689.46 398.75,689.28 400,689.02 401.25,688.68 402.5,688.25 403.75,687.74 405,687.16 406.25,686.54 407.5,685.93 408.75,685.39 410,684.96 411.25,684.68 412.5,684.6 413.75,684.79 415,685.27 416.25,685.96 417.5,686.74 418.75,687.52 420,688.2 421.25,688.75 422.5,689.15 423.75,689.42 425,689.6 426.25,689.7 427.5,689.75 428.75,689.78 430,689.79 430,689.81 428.75,689.82 427.5,689.85 426.25,689.9 425,690 423.75,690.18 422.5,690.45 421.25,690.85 420,691.4 418.75,692.08 417.5,692.86 416.25,693.64 415,694.33 413.75,694.81 412.5,695 411.25,694.92 410,694.64 408.75,694.21 407.5,693.67 406.25,693.06 405,692.44 403.75,691.86 402.5,691.35 401.25,690.92 400,690.58 398.75,690.32 397.5,690.14 396.25,690.01 395,689.92 393.75,689.87 392.5,689.84 391.25,689.82 390,689.81" fill="#fff" stroke="#2171b5" stroke-width="0.85" stroke-linejoin="round"/>
<polygon points="430,689.79 431,689.79 432,689.77 433,689.75 434,689.72 435,689.67 436,689.59 437,689.49 438,689.36 439,689.2 440,689.03 441,688.84 442,688.67 443,688.53 444,688.43 445,688.4 446,688.43 447,688.53 448,688.67 449,688.84 450,689.03 451,689.2 452,689.36 453,689.49 454,689.59 455,689.67 456,689.72 457,689.75 458,689.77 459,689.79 460,689.79 461,689.8 462,689.8 462,689.8 461,689.8 460,689.81 459,689.81 458,689.83 457,689.85 456,689.88 455,689.93 454,690.01 453,690.11 452,690.24 451,690.4 450,690.57 449,690.76 448,690.93 447,691.07 446,691.17 445,691.2 444,691.17 443,691.07 442,690.93 441,690.76 440,690.57 439,690.4 438,690.24 437,690.11 436,690.01 435,689.93 434,689.88 433,689.85 432,689.83 431,689.81 430,689.81" fill="#fff" stroke="#2171b5" stroke-width="0.85" stroke-linejoin="round"/>
<line x1="430.5" y1="502.2" x2="430.5" y2="698.4" stroke="#1a1a1a" stroke-width="1"/>
<rect x="375.6" y="502.2" width="111.8" height="196.2" fill="none" stroke="#8a8a8a" stroke-width="1"/>
<line x1="402.5" y1="698.4" x2="402.5" y2="700.7" stroke="#333333" stroke-width="1.1"/>
<text x="402.5" y="710" font-size="9.0" text-anchor="middle" fill="#111111" stroke="#111111" stroke-width="0.2">−0.4</text>
<line x1="430.4" y1="698.4" x2="430.4" y2="700.7" stroke="#333333" stroke-width="1.1"/>
<text x="430.4" y="710" font-size="9.0" text-anchor="middle" fill="#111111" stroke="#111111" stroke-width="0.2">0.0</text>
<line x1="458.3" y1="698.4" x2="458.3" y2="700.7" stroke="#333333" stroke-width="1.1"/>
<text x="458.3" y="710" font-size="9.0" text-anchor="middle" fill="#111111" stroke="#111111" stroke-width="0.2">0.4</text>
<line x1="486.2" y1="698.4" x2="486.2" y2="700.7" stroke="#333333" stroke-width="1.1"/>
<text x="486.2" y="710" font-size="9.0" text-anchor="middle" fill="#111111" stroke="#111111" stroke-width="0.2">0.8</text>
<text x="436.8" y="722.7" font-size="9.3" text-anchor="middle" fill="#111111" stroke="#111111" stroke-width="0.2">Effect size</text>
<text x="379" y="496.6" font-size="16" text-anchor="start" fill="#000" font-weight="bold">j</text>
<text transform="matrix(1 0 0 1.12 504.7 498.8)" font-size="8.5" text-anchor="middle" fill="#111111" stroke="#111111" stroke-width="0.2">#</text>
<text transform="matrix(1 0 0 1.12 525.6 498.8)" font-size="8.5" text-anchor="middle" fill="#111111" stroke="#111111" stroke-width="0.2">% &gt; 0</text>
<text transform="matrix(1 0 0 1.12 515.6 515.2)" font-size="9.4" text-anchor="end" fill="#2f74ba">123</text>
<text transform="matrix(1 0 0 1.12 531.2 515.2)" font-size="9.4" text-anchor="middle" fill="#93bbdd">0.23</text>
<text transform="matrix(1 0 0 1.12 515.6 531.4)" font-size="9.4" text-anchor="end" fill="#2f74ba">476</text>
<text transform="matrix(1 0 0 1.12 531.2 531.4)" font-size="9.4" text-anchor="middle" fill="#a4c5e2">0.17</text>
<text transform="matrix(1 0 0 1.12 515.6 547.6)" font-size="9.4" text-anchor="end" fill="#2f74ba">55</text>
<text transform="matrix(1 0 0 1.12 531.2 547.6)" font-size="9.4" text-anchor="middle" fill="#2171b5">0.69</text>
<text transform="matrix(1 0 0 1.12 515.6 563.8)" font-size="9.4" text-anchor="end" fill="#2f74ba">452</text>
<text transform="matrix(1 0 0 1.12 531.2 563.8)" font-size="9.4" text-anchor="middle" fill="#5391c6">0.48</text>
<text transform="matrix(1 0 0 1.12 515.6 580)" font-size="9.4" text-anchor="end" fill="#2f74ba">1,245</text>
<text transform="matrix(1 0 0 1.12 531.2 580)" font-size="9.4" text-anchor="middle" fill="#7eadd5">0.31</text>
<text transform="matrix(1 0 0 1.12 515.6 596.2)" font-size="9.4" text-anchor="end" fill="#2f74ba">307</text>
<text transform="matrix(1 0 0 1.12 531.2 596.2)" font-size="9.4" text-anchor="middle" fill="#4286c0">0.55</text>
<text transform="matrix(1 0 0 1.12 515.6 612.4)" font-size="9.4" text-anchor="end" fill="#2f74ba">1,040</text>
<text transform="matrix(1 0 0 1.12 531.2 612.4)" font-size="9.4" text-anchor="middle" fill="#83b0d7">0.29</text>
<text transform="matrix(1 0 0 1.12 515.6 628.6)" font-size="9.4" text-anchor="end" fill="#2f74ba">9</text>
<text transform="matrix(1 0 0 1.12 531.2 628.6)" font-size="9.4" text-anchor="middle" fill="#b6d1e9">0.11</text>
<text transform="matrix(1 0 0 1.12 515.6 644.8)" font-size="9.4" text-anchor="end" fill="#2f74ba">17</text>
<text transform="matrix(1 0 0 1.12 531.2 644.8)" font-size="9.4" text-anchor="middle" fill="#649ccc">0.41</text>
<text transform="matrix(1 0 0 1.12 515.6 661)" font-size="9.4" text-anchor="end" fill="#2f74ba">48</text>
<text transform="matrix(1 0 0 1.12 531.2 661)" font-size="9.4" text-anchor="middle" fill="#99bede">0.21</text>
<text transform="matrix(1 0 0 1.12 515.6 677.2)" font-size="9.4" text-anchor="end" fill="#2f74ba">518</text>
<text transform="matrix(1 0 0 1.12 531.2 677.2)" font-size="9.4" text-anchor="middle" fill="#b9d3ea">0.1</text>
<text transform="matrix(1 0 0 1.12 515.6 693.4)" font-size="9.4" text-anchor="end" fill="#2f74ba">2,015</text>
<text transform="matrix(1 0 0 1.12 531.2 693.4)" font-size="9.4" text-anchor="middle" fill="#b0cde7">0.13</text>
<rect x="586.6" y="502.2" width="95.8" height="196.2" fill="#fff" stroke="none" stroke-width="1"/>
<line x1="590.6" y1="502.2" x2="590.6" y2="698.4" stroke="#ebebeb" stroke-width="1"/>
<line x1="606.6" y1="502.2" x2="606.6" y2="698.4" stroke="#ebebeb" stroke-width="1"/>
<line x1="622.6" y1="502.2" x2="622.6" y2="698.4" stroke="#ebebeb" stroke-width="1"/>
<line x1="638.6" y1="502.2" x2="638.6" y2="698.4" stroke="#ebebeb" stroke-width="1"/>
<line x1="654.6" y1="502.2" x2="654.6" y2="698.4" stroke="#ebebeb" stroke-width="1"/>
<line x1="670.6" y1="502.2" x2="670.6" y2="698.4" stroke="#ebebeb" stroke-width="1"/>
<line x1="586.6" y1="510" x2="682.4" y2="510" stroke="#ebebeb" stroke-width="1"/>
<line x1="586.6" y1="522.9" x2="682.4" y2="522.9" stroke="#ebebeb" stroke-width="1"/>
<line x1="586.6" y1="535.8" x2="682.4" y2="535.8" stroke="#ebebeb" stroke-width="1"/>
<line x1="586.6" y1="548.7" x2="682.4" y2="548.7" stroke="#ebebeb" stroke-width="1"/>
<line x1="586.6" y1="561.6" x2="682.4" y2="561.6" stroke="#ebebeb" stroke-width="1"/>
<line x1="586.6" y1="574.5" x2="682.4" y2="574.5" stroke="#ebebeb" stroke-width="1"/>
<line x1="586.6" y1="587.4" x2="682.4" y2="587.4" stroke="#ebebeb" stroke-width="1"/>
<line x1="586.6" y1="600.3" x2="682.4" y2="600.3" stroke="#ebebeb" stroke-width="1"/>
<line x1="586.6" y1="613.2" x2="682.4" y2="613.2" stroke="#ebebeb" stroke-width="1"/>
<line x1="586.6" y1="626.1" x2="682.4" y2="626.1" stroke="#ebebeb" stroke-width="1"/>
<line x1="586.6" y1="639" x2="682.4" y2="639" stroke="#ebebeb" stroke-width="1"/>
<line x1="586.6" y1="651.9" x2="682.4" y2="651.9" stroke="#ebebeb" stroke-width="1"/>
<line x1="586.6" y1="664.8" x2="682.4" y2="664.8" stroke="#ebebeb" stroke-width="1"/>
<line x1="586.6" y1="677.7" x2="682.4" y2="677.7" stroke="#ebebeb" stroke-width="1"/>
<line x1="586.6" y1="690.6" x2="682.4" y2="690.6" stroke="#ebebeb" stroke-width="1"/>
<line x1="594.8" y1="502.2" x2="594.8" y2="698.4" stroke="#1a1a1a" stroke-width="2"/>
<line x1="608.4" y1="510" x2="649.6" y2="510" stroke="#2171b5" stroke-width="0.9"/>
<line x1="608.4" y1="508.4" x2="608.4" y2="511.6" stroke="#2171b5" stroke-width="0.9"/>
<line x1="649.6" y1="508.4" x2="649.6" y2="511.6" stroke="#2171b5" stroke-width="0.9"/>
<circle cx="624.4" cy="510" r="1.4" fill="#2171b5"/>
<line x1="605.6" y1="522.9" x2="614" y2="522.9" stroke="#2171b5" stroke-width="0.9"/>
<line x1="605.6" y1="521.3" x2="605.6" y2="524.5" stroke="#2171b5" stroke-width="0.9"/>
<line x1="614" y1="521.3" x2="614" y2="524.5" stroke="#2171b5" stroke-width="0.9"/>
<circle cx="610" cy="522.9" r="1.4" fill="#2171b5"/>
<line x1="602" y1="535.8" x2="605" y2="535.8" stroke="#2171b5" stroke-width="0.9"/>
<line x1="602" y1="534.2" x2="602" y2="537.4" stroke="#2171b5" stroke-width="0.9"/>
<line x1="605" y1="534.2" x2="605" y2="537.4" stroke="#2171b5" stroke-width="0.9"/>
<circle cx="603.4" cy="535.8" r="1.4" fill="#2171b5"/>
<line x1="601" y1="548.7" x2="604" y2="548.7" stroke="#2171b5" stroke-width="0.9"/>
<line x1="601" y1="547.1" x2="601" y2="550.3" stroke="#2171b5" stroke-width="0.9"/>
<line x1="604" y1="547.1" x2="604" y2="550.3" stroke="#2171b5" stroke-width="0.9"/>
<circle cx="602.4" cy="548.7" r="1.4" fill="#2171b5"/>
<line x1="599.2" y1="561.6" x2="602" y2="561.6" stroke="#2171b5" stroke-width="0.9"/>
<line x1="599.2" y1="560" x2="599.2" y2="563.2" stroke="#2171b5" stroke-width="0.9"/>
<line x1="602" y1="560" x2="602" y2="563.2" stroke="#2171b5" stroke-width="0.9"/>
<circle cx="600.6" cy="561.6" r="1.4" fill="#2171b5"/>
<line x1="598.2" y1="574.5" x2="600.6" y2="574.5" stroke="#2171b5" stroke-width="0.9"/>
<line x1="598.2" y1="572.9" x2="598.2" y2="576.1" stroke="#2171b5" stroke-width="0.9"/>
<line x1="600.6" y1="572.9" x2="600.6" y2="576.1" stroke="#2171b5" stroke-width="0.9"/>
<circle cx="599.4" cy="574.5" r="1.4" fill="#2171b5"/>
<line x1="598" y1="587.4" x2="602.6" y2="587.4" stroke="#2171b5" stroke-width="0.9"/>
<line x1="598" y1="585.8" x2="598" y2="589" stroke="#2171b5" stroke-width="0.9"/>
<line x1="602.6" y1="585.8" x2="602.6" y2="589" stroke="#2171b5" stroke-width="0.9"/>
<circle cx="600.4" cy="587.4" r="1.4" fill="#2171b5"/>
<line x1="598" y1="600.3" x2="600" y2="600.3" stroke="#2171b5" stroke-width="0.9"/>
<line x1="598" y1="598.7" x2="598" y2="601.9" stroke="#2171b5" stroke-width="0.9"/>
<line x1="600" y1="598.7" x2="600" y2="601.9" stroke="#2171b5" stroke-width="0.9"/>
<circle cx="599" cy="600.3" r="1.4" fill="#2171b5"/>
<line x1="597.2" y1="613.2" x2="599.6" y2="613.2" stroke="#2171b5" stroke-width="0.9"/>
<line x1="597.2" y1="611.6" x2="597.2" y2="614.8" stroke="#2171b5" stroke-width="0.9"/>
<line x1="599.6" y1="611.6" x2="599.6" y2="614.8" stroke="#2171b5" stroke-width="0.9"/>
<circle cx="598.4" cy="613.2" r="1.4" fill="#2171b5"/>
<line x1="597.4" y1="626.1" x2="607" y2="626.1" stroke="#2171b5" stroke-width="0.9"/>
<line x1="597.4" y1="624.5" x2="597.4" y2="627.7" stroke="#2171b5" stroke-width="0.9"/>
<line x1="607" y1="624.5" x2="607" y2="627.7" stroke="#2171b5" stroke-width="0.9"/>
<circle cx="601.4" cy="626.1" r="1.4" fill="#2171b5"/>
<line x1="597.4" y1="639" x2="629.6" y2="639" stroke="#2171b5" stroke-width="0.9"/>
<line x1="597.4" y1="637.4" x2="597.4" y2="640.6" stroke="#2171b5" stroke-width="0.9"/>
<line x1="629.6" y1="637.4" x2="629.6" y2="640.6" stroke="#2171b5" stroke-width="0.9"/>
<circle cx="608.4" cy="639" r="1.4" fill="#2171b5"/>
<line x1="596.6" y1="651.9" x2="598.6" y2="651.9" stroke="#2171b5" stroke-width="0.9"/>
<line x1="596.6" y1="650.3" x2="596.6" y2="653.5" stroke="#2171b5" stroke-width="0.9"/>
<line x1="598.6" y1="650.3" x2="598.6" y2="653.5" stroke="#2171b5" stroke-width="0.9"/>
<circle cx="597.6" cy="651.9" r="1.4" fill="#2171b5"/>
<line x1="596.8" y1="664.8" x2="599.2" y2="664.8" stroke="#2171b5" stroke-width="0.9"/>
<line x1="596.8" y1="663.2" x2="596.8" y2="666.4" stroke="#2171b5" stroke-width="0.9"/>
<line x1="599.2" y1="663.2" x2="599.2" y2="666.4" stroke="#2171b5" stroke-width="0.9"/>
<circle cx="598" cy="664.8" r="1.4" fill="#2171b5"/>
<line x1="597" y1="677.7" x2="610.6" y2="677.7" stroke="#2171b5" stroke-width="0.9"/>
<line x1="597" y1="676.1" x2="597" y2="679.3" stroke="#2171b5" stroke-width="0.9"/>
<line x1="610.6" y1="676.1" x2="610.6" y2="679.3" stroke="#2171b5" stroke-width="0.9"/>
<circle cx="602" cy="677.7" r="1.4" fill="#2171b5"/>
<line x1="596.4" y1="690.6" x2="601.4" y2="690.6" stroke="#2171b5" stroke-width="0.9"/>
<line x1="596.4" y1="689" x2="596.4" y2="692.2" stroke="#2171b5" stroke-width="0.9"/>
<line x1="601.4" y1="689" x2="601.4" y2="692.2" stroke="#2171b5" stroke-width="0.9"/>
<circle cx="598.4" cy="690.6" r="1.4" fill="#2171b5"/>
<rect x="586.6" y="502.2" width="95.8" height="196.2" fill="none" stroke="#8a8a8a" stroke-width="1"/>
<line x1="584.3" y1="510" x2="586.6" y2="510" stroke="#333333" stroke-width="1.1"/>
<text transform="matrix(1 0 0 1.12 582.6 513.2)" font-size="8.1" text-anchor="end" fill="#111111" stroke="#111111" stroke-width="0.2">RUNX1−3</text>
<line x1="584.3" y1="522.9" x2="586.6" y2="522.9" stroke="#333333" stroke-width="1.1"/>
<text transform="matrix(1 0 0 1.12 582.6 526.1)" font-size="8.1" text-anchor="end" fill="#111111" stroke="#111111" stroke-width="0.2">BHLHE22</text>
<line x1="584.3" y1="535.8" x2="586.6" y2="535.8" stroke="#333333" stroke-width="1.1"/>
<text transform="matrix(1 0 0 1.12 582.6 539)" font-size="8.1" text-anchor="end" fill="#111111" stroke="#111111" stroke-width="0.2">MYB</text>
<line x1="584.3" y1="548.7" x2="586.6" y2="548.7" stroke="#333333" stroke-width="1.1"/>
<text transform="matrix(1 0 0 1.12 582.6 551.9)" font-size="8.1" text-anchor="end" fill="#111111" stroke="#111111" stroke-width="0.2">NOTCH1</text>
<line x1="584.3" y1="561.6" x2="586.6" y2="561.6" stroke="#333333" stroke-width="1.1"/>
<text transform="matrix(1 0 0 1.12 582.6 564.8)" font-size="8.1" text-anchor="end" fill="#111111" stroke="#111111" stroke-width="0.2">TCF4</text>
<line x1="584.3" y1="574.5" x2="586.6" y2="574.5" stroke="#333333" stroke-width="1.1"/>
<text transform="matrix(1 0 0 1.12 582.6 577.7)" font-size="8.1" text-anchor="end" fill="#111111" stroke="#111111" stroke-width="0.2">LMO1</text>
<line x1="584.3" y1="587.4" x2="586.6" y2="587.4" stroke="#333333" stroke-width="1.1"/>
<text transform="matrix(1 0 0 1.12 582.6 590.6)" font-size="8.1" text-anchor="end" fill="#111111" stroke="#111111" stroke-width="0.2">PROX1</text>
<line x1="584.3" y1="600.3" x2="586.6" y2="600.3" stroke="#333333" stroke-width="1.1"/>
<text transform="matrix(1 0 0 1.12 582.6 603.5)" font-size="8.1" text-anchor="end" fill="#111111" stroke="#111111" stroke-width="0.2">TAL1</text>
<line x1="584.3" y1="613.2" x2="586.6" y2="613.2" stroke="#333333" stroke-width="1.1"/>
<text transform="matrix(1 0 0 1.12 582.6 616.4)" font-size="8.1" text-anchor="end" fill="#111111" stroke="#111111" stroke-width="0.2">BRD4</text>
<line x1="584.3" y1="626.1" x2="586.6" y2="626.1" stroke="#333333" stroke-width="1.1"/>
<text transform="matrix(1 0 0 1.12 582.6 629.3)" font-size="8.1" text-anchor="end" fill="#111111" stroke="#111111" stroke-width="0.2">NSD2</text>
<line x1="584.3" y1="639" x2="586.6" y2="639" stroke="#333333" stroke-width="1.1"/>
<text transform="matrix(1 0 0 1.12 582.6 642.2)" font-size="8.1" text-anchor="end" fill="#111111" stroke="#111111" stroke-width="0.2">SMAD2−3</text>
<line x1="584.3" y1="651.9" x2="586.6" y2="651.9" stroke="#333333" stroke-width="1.1"/>
<text transform="matrix(1 0 0 1.12 582.6 655.1)" font-size="8.1" text-anchor="end" fill="#111111" stroke="#111111" stroke-width="0.2">KMT2A</text>
<line x1="584.3" y1="664.8" x2="586.6" y2="664.8" stroke="#333333" stroke-width="1.1"/>
<text transform="matrix(1 0 0 1.12 582.6 668)" font-size="8.1" text-anchor="end" fill="#111111" stroke="#111111" stroke-width="0.2">PBX1</text>
<line x1="584.3" y1="677.7" x2="586.6" y2="677.7" stroke="#333333" stroke-width="1.1"/>
<text transform="matrix(1 0 0 1.12 582.6 680.9)" font-size="8.1" text-anchor="end" fill="#111111" stroke="#111111" stroke-width="0.2">PSIP1</text>
<line x1="584.3" y1="690.6" x2="586.6" y2="690.6" stroke="#333333" stroke-width="1.1"/>
<text transform="matrix(1 0 0 1.12 582.6 693.8)" font-size="8.1" text-anchor="end" fill="#111111" stroke="#111111" stroke-width="0.2">SND1</text>
<line x1="590.6" y1="698.4" x2="590.6" y2="700.7" stroke="#333333" stroke-width="1.1"/>
<text x="590.6" y="710" font-size="9.0" text-anchor="middle" fill="#111111" stroke="#111111" stroke-width="0.2">0</text>
<line x1="606.6" y1="698.4" x2="606.6" y2="700.7" stroke="#333333" stroke-width="1.1"/>
<text x="606.6" y="710" font-size="9.0" text-anchor="middle" fill="#111111" stroke="#111111" stroke-width="0.2">4</text>
<line x1="622.6" y1="698.4" x2="622.6" y2="700.7" stroke="#333333" stroke-width="1.1"/>
<text x="622.6" y="710" font-size="9.0" text-anchor="middle" fill="#111111" stroke="#111111" stroke-width="0.2">8</text>
<line x1="638.6" y1="698.4" x2="638.6" y2="700.7" stroke="#333333" stroke-width="1.1"/>
<text x="638.6" y="710" font-size="9.0" text-anchor="middle" fill="#111111" stroke="#111111" stroke-width="0.2">12</text>
<line x1="654.6" y1="698.4" x2="654.6" y2="700.7" stroke="#333333" stroke-width="1.1"/>
<text x="654.6" y="710" font-size="9.0" text-anchor="middle" fill="#111111" stroke="#111111" stroke-width="0.2">16</text>
<line x1="670.6" y1="698.4" x2="670.6" y2="700.7" stroke="#333333" stroke-width="1.1"/>
<text x="670.6" y="710" font-size="9.0" text-anchor="middle" fill="#111111" stroke="#111111" stroke-width="0.2">20</text>
<text x="638.3" y="722.7" font-size="9.3" text-anchor="middle" fill="#111111" stroke="#111111" stroke-width="0.2">Odds ratio</text>
<text x="563" y="496.6" font-size="16" text-anchor="start" fill="#000" font-weight="bold">k</text>
</svg></body></html>
